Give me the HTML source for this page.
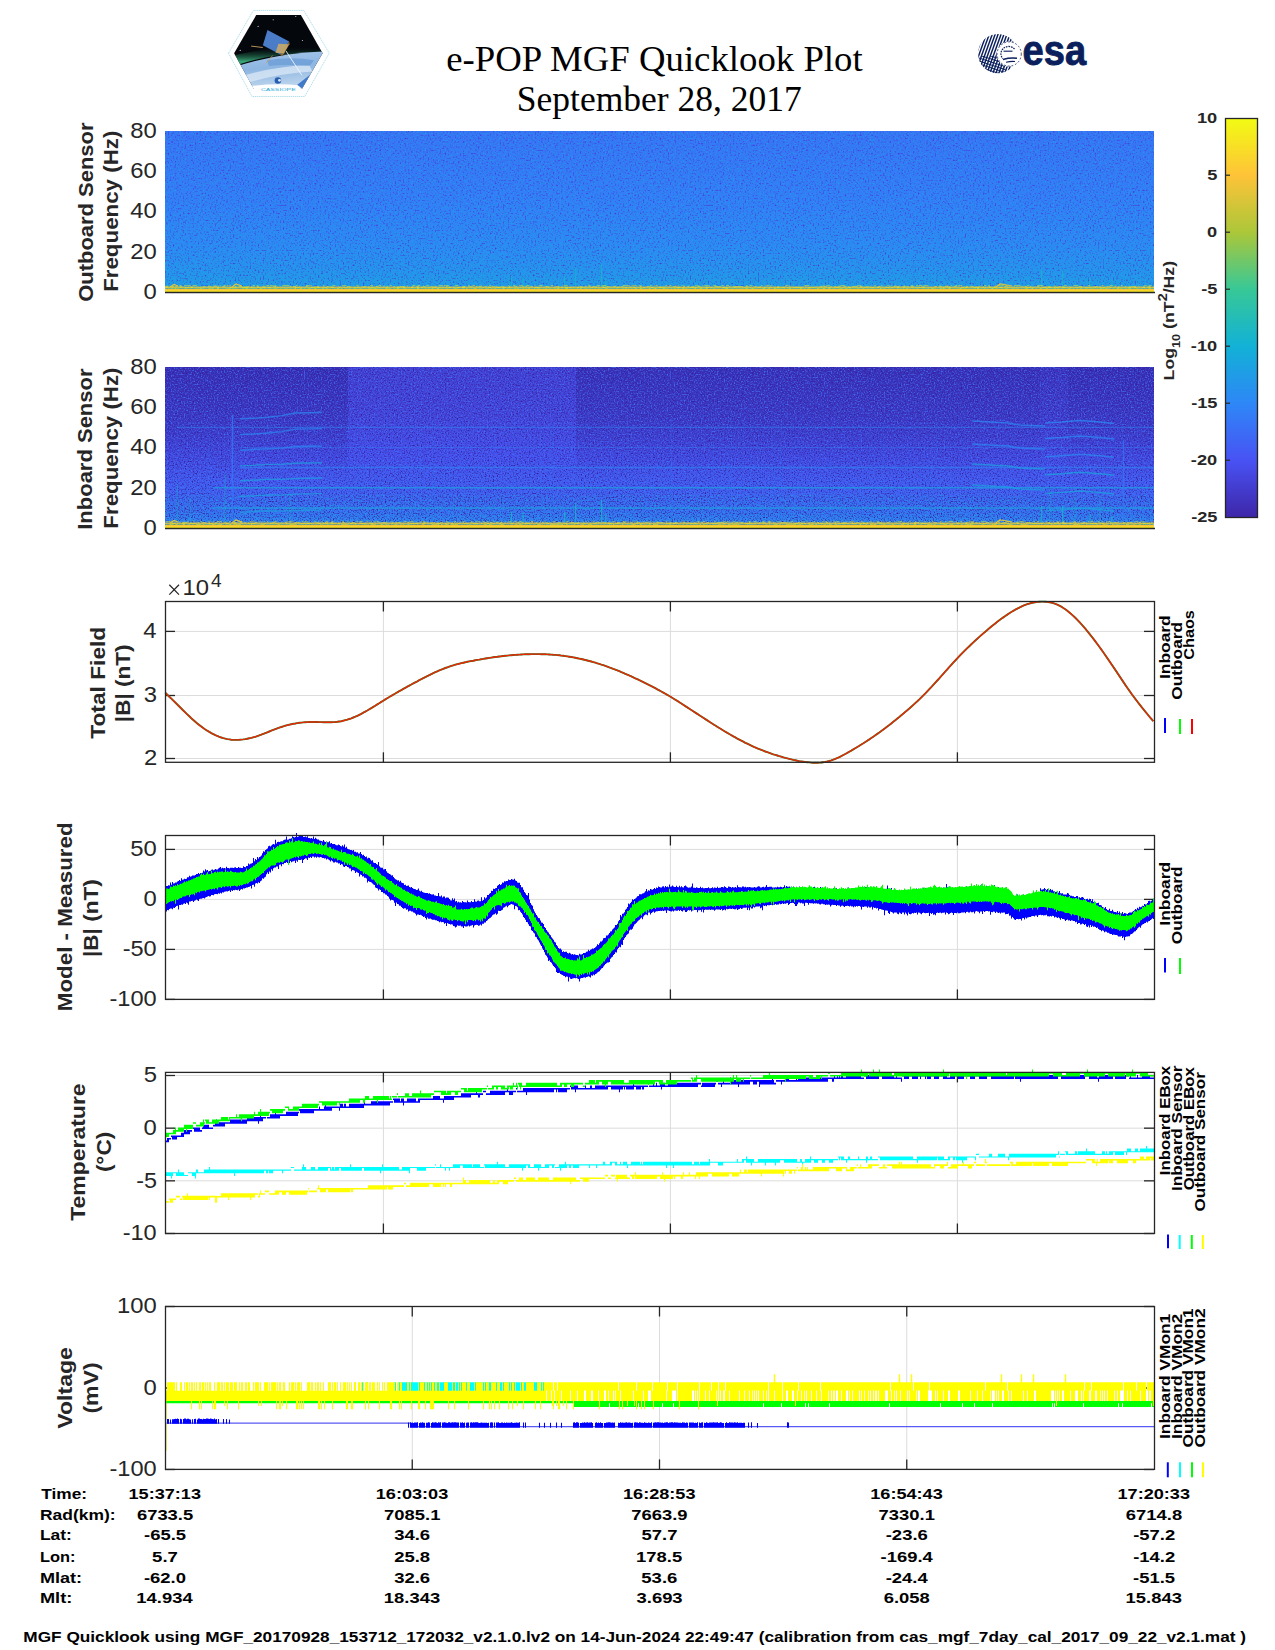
<!DOCTYPE html>
<html><head><meta charset="utf-8"><style>
html,body{margin:0;padding:0;background:#fff;width:1275px;height:1650px;overflow:hidden;}
svg{display:block;}
text{font-family:"Liberation Sans", sans-serif;fill:#262626;}
.b{font-weight:bold;}
</style></head><body>
<svg width="1275" height="1650" viewBox="0 0 1275 1650">

<text x="654.47" y="71" text-anchor="middle" style="font-family:'Liberation Serif',serif;font-size:34.75px;fill:#000" textLength="416.41" lengthAdjust="spacingAndGlyphs">e-POP MGF Quicklook Plot</text>
<text x="659.32" y="111.3" text-anchor="middle" style="font-family:'Liberation Serif',serif;font-size:34.75px;fill:#000" textLength="285.05" lengthAdjust="spacingAndGlyphs">September 28, 2017</text>
<defs>
<linearGradient id="gCb" x1="0" y1="0" x2="0" y2="1">
<stop offset="0.0000" stop-color="rgb(242,251,19)"/>
<stop offset="0.1429" stop-color="rgb(254,195,56)"/>
<stop offset="0.2857" stop-color="rgb(171,199,57)"/>
<stop offset="0.4286" stop-color="rgb(55,200,151)"/>
<stop offset="0.5714" stop-color="rgb(18,177,214)"/>
<stop offset="0.7143" stop-color="rgb(46,135,247)"/>
<stop offset="0.8571" stop-color="rgb(72,82,244)"/>
<stop offset="1.0000" stop-color="rgb(62,38,168)"/>
</linearGradient>
<linearGradient id="gOut" x1="0" y1="0" x2="0" y2="1">
<stop offset="0" stop-color="rgb(54,118,246)"/>
<stop offset="0.4" stop-color="rgb(50,127,247)"/>
<stop offset="0.7" stop-color="rgb(43,139,244)"/>
<stop offset="0.85" stop-color="rgb(37,148,237)"/>
<stop offset="0.95" stop-color="rgb(31,157,230)"/>
<stop offset="1" stop-color="rgb(24,169,221)"/>
</linearGradient>
<linearGradient id="gIn" x1="0" y1="0" x2="0" y2="1">
<stop offset="0" stop-color="rgb(68,64,213)"/>
<stop offset="0.3" stop-color="rgb(69,69,221)"/>
<stop offset="0.55" stop-color="rgb(71,80,240)"/>
<stop offset="0.75" stop-color="rgb(65,96,245)"/>
<stop offset="0.9" stop-color="rgb(55,116,246)"/>
<stop offset="0.96" stop-color="rgb(45,136,246)"/>
<stop offset="1" stop-color="rgb(31,157,230)"/>
</linearGradient>
<linearGradient id="gDark" x1="0" y1="0" x2="0" y2="1"><stop offset="0" stop-color="#2a1a90" stop-opacity="0.5"/><stop offset="0.6" stop-color="#2a1a90" stop-opacity="0.28"/><stop offset="1" stop-color="#2a1a90" stop-opacity="0"/></linearGradient>
<filter id="np" x="0" y="0" width="1" height="1" color-interpolation-filters="sRGB"><feTurbulence type="fractalNoise" baseFrequency="0.6" numOctaves="1" seed="3"/><feColorMatrix type="matrix" values="0 0 0 0 0.27  0 0 0 0 0.24  0 0 0 0 0.85  3.5 0 0 0 -1.85"/></filter>
<filter id="nc" x="0" y="0" width="1" height="1" color-interpolation-filters="sRGB"><feTurbulence type="fractalNoise" baseFrequency="0.6" numOctaves="1" seed="11"/><feColorMatrix type="matrix" values="0 0 0 0 0.14  0 0 0 0 0.60  0 0 0 0 0.90  0 3.5 0 0 -1.85"/></filter>
<filter id="ny" x="0" y="0" width="1" height="1" color-interpolation-filters="sRGB"><feTurbulence type="fractalNoise" baseFrequency="0.35 0.9" numOctaves="1" seed="5"/><feColorMatrix type="matrix" values="0 0 0 0 0.98  0 0 0 0 0.95  0 0 0 0 0.05  6 0 0 0 -2.9"/></filter>
<filter id="npi" x="0" y="0" width="1" height="1" color-interpolation-filters="sRGB"><feTurbulence type="fractalNoise" baseFrequency="0.75" numOctaves="1" seed="21"/><feColorMatrix type="matrix" values="0 0 0 0 0.21  0 0 0 0 0.12  0 0 0 0 0.60  3.4 0 0 0 -1.6"/></filter>
<filter id="nci" x="0" y="0" width="1" height="1" color-interpolation-filters="sRGB"><feTurbulence type="fractalNoise" baseFrequency="0.7" numOctaves="1" seed="17"/><feColorMatrix type="matrix" values="0 0 0 0 0.26  0 0 0 0 0.45  0 0 0 0 0.98  0 3 0 0 -1.45"/></filter>
</defs>
<rect x="165" y="131" width="989" height="161" fill="url(#gOut)"/>
<rect x="165" y="131" width="989" height="161" filter="url(#np)"/>
<rect x="165" y="131" width="989" height="161" filter="url(#nc)"/>
<path d="M511.5,288V276M523,288V277M564.7,288V276M575.7,288V267M601.6,288V264M606,288V278M1041.6,288V270M1062.7,288V270M1090,288V278M1112,288V280" stroke="rgb(24,180,205)" stroke-width="1.2" fill="none" opacity="0.8"/>
<rect x="165" y="286.5" width="989" height="1.5" fill="rgb(221,197,56)" opacity="0.85"/>
<rect x="165" y="288" width="989" height="1" fill="rgb(159,199,66)" opacity="0.6"/>
<rect x="165" y="285.5" width="989" height="3.5" filter="url(#ny)" opacity="0.45"/>
<rect x="165" y="289" width="989" height="3" fill="rgb(254,196,55)"/>
<rect x="165" y="290.5" width="989" height="1.5" fill="rgb(246,231,32)"/>
<path d="M996,287 L1000,284 L1004,284.5 L1012,286 M170,287 L174,284.5 L178,286 M232,287 L236,284 L242,286" stroke="rgb(221,197,56)" stroke-width="1.2" fill="none"/>
<line x1="165" y1="292.5" x2="1155" y2="292.5" stroke="#262626" stroke-width="1.5"/>
<rect x="165" y="367" width="989" height="161" fill="url(#gIn)"/>
<rect x="165" y="367" width="183" height="112.7" fill="url(#gDark)"/>
<rect x="576" y="367" width="464" height="112.7" fill="url(#gDark)" opacity="0.9"/>
<rect x="1040" y="367" width="28" height="112.7" fill="url(#gDark)" opacity="0.6"/>
<rect x="1068" y="367" width="86" height="112.7" fill="url(#gDark)"/>
<rect x="165" y="367" width="989" height="161" filter="url(#npi)"/>
<rect x="165" y="367" width="989" height="128.8" filter="url(#nci)"/>
<rect x="165" y="495.8" width="989" height="29.2" filter="url(#nc)"/>
<line x1="212" y1="508" x2="1154" y2="508" stroke="rgb(28,163,225)" stroke-width="1.6" opacity="0.75"/>
<line x1="213" y1="487.8" x2="1154" y2="487.8" stroke="rgb(28,163,225)" stroke-width="1.6" opacity="0.7"/>
<line x1="240" y1="467.5" x2="1154" y2="467.5" stroke="rgb(43,139,244)" stroke-width="1.3" opacity="0.55"/>
<line x1="240" y1="447.5" x2="1154" y2="447.5" stroke="rgb(43,139,244)" stroke-width="1.1" opacity="0.35"/>
<line x1="177" y1="427.4" x2="1154" y2="427.4" stroke="rgb(43,139,244)" stroke-width="1.1" opacity="0.45"/>
<path d="M240,418.8 L252,418.3 L268,417.3 L282,415.6 L295,413.0 L322,412.5" stroke="rgb(43,139,244)" stroke-width="1.4" fill="none" opacity="0.7"/>
<path d="M240,434.5 L252,434.0 L268,433.0 L282,431.6 L295,429.1 L322,428.6" stroke="rgb(43,139,244)" stroke-width="1.4" fill="none" opacity="0.7"/>
<path d="M240,450.2 L252,449.7 L268,448.7 L282,448.1 L295,446.5 L322,446" stroke="rgb(43,139,244)" stroke-width="1.4" fill="none" opacity="0.7"/>
<path d="M240,465.9 L252,465.4 L268,464.4 L282,464.3 L295,463.2 L322,462.7" stroke="rgb(28,163,225)" stroke-width="1.4" fill="none" opacity="0.7"/>
<path d="M240,480.8 L252,480.3 L268,479.3 L282,479.4 L295,478.5 L322,478" stroke="rgb(28,163,225)" stroke-width="1.4" fill="none" opacity="0.7"/>
<path d="M240,496.5 L252,496.0 L268,495.0 L282,495.1 L295,494.1 L322,493.6" stroke="rgb(28,163,225)" stroke-width="1.4" fill="none" opacity="0.7"/>
<path d="M240,512.2 L252,511.70000000000005 L268,510.70000000000005 L282,511.1 L295,510.5 L322,510" stroke="rgb(28,163,225)" stroke-width="1.4" fill="none" opacity="0.7"/>
<line x1="232.5" y1="415" x2="232.5" y2="528" stroke="rgb(54,118,246)" stroke-width="1.5" opacity="0.8"/>
<path d="M972,421 L990,422 L1008,423 L1020,425 L1045,426" stroke="rgb(43,139,244)" stroke-width="1.4" fill="none" opacity="0.7"/>
<path d="M972,444 L990,445 L1008,446 L1020,448 L1045,449" stroke="rgb(43,139,244)" stroke-width="1.4" fill="none" opacity="0.7"/>
<path d="M972,464 L990,465 L1008,466 L1020,468 L1045,469" stroke="rgb(28,163,225)" stroke-width="1.4" fill="none" opacity="0.7"/>
<path d="M972,485 L990,486 L1008,487 L1020,489 L1045,490" stroke="rgb(28,163,225)" stroke-width="1.4" fill="none" opacity="0.7"/>
<path d="M1045,423 L1062,422 L1080,420.5 L1100,422 L1114,423.5" stroke="rgb(43,139,244)" stroke-width="1.5" fill="none" opacity="0.75"/>
<path d="M1045,438.6 L1062,437.6 L1080,436.1 L1100,437.6 L1114,439.1" stroke="rgb(43,139,244)" stroke-width="1.5" fill="none" opacity="0.75"/>
<path d="M1045,456.7 L1062,455.7 L1080,454.2 L1100,455.7 L1114,457.2" stroke="rgb(43,139,244)" stroke-width="1.5" fill="none" opacity="0.75"/>
<path d="M1045,474.7 L1062,473.7 L1080,472.2 L1100,473.7 L1114,475.2" stroke="rgb(28,163,225)" stroke-width="1.5" fill="none" opacity="0.75"/>
<path d="M1045,493.5 L1062,492.5 L1080,491.0 L1100,492.5 L1114,494.0" stroke="rgb(28,163,225)" stroke-width="1.5" fill="none" opacity="0.75"/>
<path d="M1045,510.8 L1062,509.8 L1080,508.3 L1100,509.8 L1114,511.3" stroke="rgb(28,163,225)" stroke-width="1.5" fill="none" opacity="0.75"/>
<path d="M665.9,523V449M723.8,523V460M671.7,523V414M1122.7,523V425M772.6,523V435M726.9,523V449M451.1,523V461M713.4,523V439M628.2,523V426M767.9,523V482M1081.8,523V490M411.0,523V456M473.2,523V471M553.3,523V422M434.9,523V472M513.0,523V420M1087.5,523V453M540.3,523V426M929.2,523V457M209.8,523V436M462.7,523V415M858.5,523V480M613.2,523V472M1042.1,523V452M596.4,523V463M781.1,523V429M743.7,523V419M757.1,523V447M812.6,523V482M671.1,523V463M359.8,523V469M237.6,523V441M417.0,523V473M263.3,523V486M280.9,523V452M445.0,523V471M750.7,523V453M506.4,523V465M932.3,523V432M1116.1,523V472M495.2,523V435M401.6,523V484M844.1,523V431M731.2,523V413M924.2,523V470M774.6,523V413M443.9,523V443M1062.9,523V447M731.5,523V473M873.9,523V439M828.9,523V457M924.4,523V446M907.4,523V455M572.1,523V430M207.2,523V451M645.3,523V466M1047.4,523V468M311.7,523V448M936.4,523V416M812.3,523V485M861.6,523V491M383.7,523V457M243.8,523V479M432.4,523V420M780.8,523V448M550.8,523V427M419.7,523V428M559.1,523V492M883.3,523V423M420.4,523V459" stroke="rgb(54,118,246)" stroke-width="1" fill="none" opacity="0.22"/>
<line x1="1123.6" y1="440" x2="1123.6" y2="528" stroke="rgb(54,118,246)" stroke-width="1.2" opacity="0.7"/>
<path d="M511.5,524V512M523,524V513M564.7,524V512M575.7,524V503M601.6,524V500M606,524V514M1041.6,524V506M1062.7,524V506M1090,524V514M1112,524V516" stroke="rgb(24,180,205)" stroke-width="1.2" fill="none" opacity="0.8"/>
<path d="M177,524V484M190,524V499M225,524V474M290,524V494M1050,524V489M1075,524V494M1100,524V496" stroke="rgb(24,180,205)" stroke-width="1" fill="none" opacity="0.45"/>
<rect x="165" y="522.5" width="989" height="1.5" fill="rgb(221,197,56)" opacity="0.85"/>
<rect x="165" y="524" width="989" height="1" fill="rgb(159,199,66)" opacity="0.6"/>
<rect x="165" y="521.5" width="989" height="3.5" filter="url(#ny)" opacity="0.45"/>
<rect x="165" y="525" width="989" height="3" fill="rgb(254,196,55)"/>
<rect x="165" y="526.5" width="989" height="1.5" fill="rgb(246,231,32)"/>
<path d="M996,523 L1000,520 L1004,520.5 L1012,522 M170,523 L174,520.5 L178,522 M232,523 L236,520 L242,522" stroke="rgb(221,197,56)" stroke-width="1.2" fill="none"/>
<line x1="165" y1="528.5" x2="1155" y2="528.5" stroke="#262626" stroke-width="1.5"/>
<text x="156.68" y="137.80" text-anchor="end" style="font-size:22.08px;fill:#262626" textLength="26.51" lengthAdjust="spacingAndGlyphs">80</text>
<text x="156.68" y="178.05" text-anchor="end" style="font-size:22.08px;fill:#262626" textLength="26.51" lengthAdjust="spacingAndGlyphs">60</text>
<text x="156.68" y="218.30" text-anchor="end" style="font-size:22.08px;fill:#262626" textLength="26.51" lengthAdjust="spacingAndGlyphs">40</text>
<text x="156.68" y="258.55" text-anchor="end" style="font-size:22.08px;fill:#262626" textLength="26.51" lengthAdjust="spacingAndGlyphs">20</text>
<text x="156.68" y="298.80" text-anchor="end" style="font-size:22.08px;fill:#262626" textLength="13.25" lengthAdjust="spacingAndGlyphs">0</text>
<text x="156.68" y="373.80" text-anchor="end" style="font-size:22.08px;fill:#262626" textLength="26.51" lengthAdjust="spacingAndGlyphs">80</text>
<text x="156.68" y="414.05" text-anchor="end" style="font-size:22.08px;fill:#262626" textLength="26.51" lengthAdjust="spacingAndGlyphs">60</text>
<text x="156.68" y="454.30" text-anchor="end" style="font-size:22.08px;fill:#262626" textLength="26.51" lengthAdjust="spacingAndGlyphs">40</text>
<text x="156.68" y="494.55" text-anchor="end" style="font-size:22.08px;fill:#262626" textLength="26.51" lengthAdjust="spacingAndGlyphs">20</text>
<text x="156.68" y="534.80" text-anchor="end" style="font-size:22.08px;fill:#262626" textLength="13.25" lengthAdjust="spacingAndGlyphs">0</text>
<text class="b" transform="translate(92.50,212.19) rotate(-90)" text-anchor="middle" style="font-size:19.88px;fill:#262626" textLength="179.26" lengthAdjust="spacingAndGlyphs">Outboard Sensor</text>
<text class="b" transform="translate(118.00,211.25) rotate(-90)" text-anchor="middle" style="font-size:19.88px;fill:#262626" textLength="161.22" lengthAdjust="spacingAndGlyphs">Frequency (Hz)</text>
<text class="b" transform="translate(92.00,449.13) rotate(-90)" text-anchor="middle" style="font-size:19.88px;fill:#262626" textLength="161.33" lengthAdjust="spacingAndGlyphs">Inboard Sensor</text>
<text class="b" transform="translate(118.00,448.05) rotate(-90)" text-anchor="middle" style="font-size:19.88px;fill:#262626" textLength="161.22" lengthAdjust="spacingAndGlyphs">Frequency (Hz)</text>
<rect x="1225.5" y="118.5" width="32" height="399" fill="url(#gCb)" stroke="#262626" stroke-width="1.3"/>
<text class="b" x="1217.20" y="123.40" text-anchor="end" style="font-size:15.45px;fill:#262626" textLength="20.29" lengthAdjust="spacingAndGlyphs">10</text>
<line x1="1225.5" y1="175.2" x2="1230" y2="175.2" stroke="#262626" stroke-width="1.2"/>
<text class="b" x="1217.52" y="180.40" text-anchor="end" style="font-size:15.45px;fill:#262626" textLength="10.14" lengthAdjust="spacingAndGlyphs">5</text>
<line x1="1225.5" y1="232.2" x2="1230" y2="232.2" stroke="#262626" stroke-width="1.2"/>
<text class="b" x="1217.20" y="237.40" text-anchor="end" style="font-size:15.45px;fill:#262626" textLength="10.14" lengthAdjust="spacingAndGlyphs">0</text>
<line x1="1225.5" y1="289.2" x2="1230" y2="289.2" stroke="#262626" stroke-width="1.2"/>
<text class="b" x="1217.52" y="294.40" text-anchor="end" style="font-size:15.45px;fill:#262626" textLength="16.20" lengthAdjust="spacingAndGlyphs">-5</text>
<line x1="1225.5" y1="346.2" x2="1230" y2="346.2" stroke="#262626" stroke-width="1.2"/>
<text class="b" x="1217.20" y="351.40" text-anchor="end" style="font-size:15.45px;fill:#262626" textLength="26.34" lengthAdjust="spacingAndGlyphs">-10</text>
<line x1="1225.5" y1="403.2" x2="1230" y2="403.2" stroke="#262626" stroke-width="1.2"/>
<text class="b" x="1217.52" y="408.40" text-anchor="end" style="font-size:15.45px;fill:#262626" textLength="26.34" lengthAdjust="spacingAndGlyphs">-15</text>
<line x1="1225.5" y1="460.2" x2="1230" y2="460.2" stroke="#262626" stroke-width="1.2"/>
<text class="b" x="1217.20" y="465.40" text-anchor="end" style="font-size:15.45px;fill:#262626" textLength="26.34" lengthAdjust="spacingAndGlyphs">-20</text>
<text class="b" x="1217.52" y="522.40" text-anchor="end" style="font-size:15.45px;fill:#262626" textLength="26.34" lengthAdjust="spacingAndGlyphs">-25</text>
<text class="b" transform="translate(1174.2,380.4) rotate(-90)" style="font-size:15.45px" textLength="119.5" lengthAdjust="spacingAndGlyphs">Log<tspan dy="5.5" style="font-size:11.1px">10</tspan><tspan dy="-5.5"> (nT</tspan><tspan dy="-7.6" style="font-size:12.5px">2</tspan><tspan dy="7.6">/Hz)</tspan></text>
<line x1="383.4" y1="601.5" x2="383.4" y2="762.3" stroke="#dcdcdc" stroke-width="1"/>
<line x1="670.4" y1="601.5" x2="670.4" y2="762.3" stroke="#dcdcdc" stroke-width="1"/>
<line x1="957.4" y1="601.5" x2="957.4" y2="762.3" stroke="#dcdcdc" stroke-width="1"/>
<line x1="165" y1="631.4" x2="1154" y2="631.4" stroke="#dcdcdc" stroke-width="1"/>
<line x1="165" y1="695.5" x2="1154" y2="695.5" stroke="#dcdcdc" stroke-width="1"/>
<line x1="165" y1="758.5" x2="1154" y2="758.5" stroke="#dcdcdc" stroke-width="1"/>
<line x1="383.4" y1="601.5" x2="383.4" y2="611.5" stroke="#262626" stroke-width="1.3"/>
<line x1="383.4" y1="762.3" x2="383.4" y2="752.3" stroke="#262626" stroke-width="1.3"/>
<line x1="670.4" y1="601.5" x2="670.4" y2="611.5" stroke="#262626" stroke-width="1.3"/>
<line x1="670.4" y1="762.3" x2="670.4" y2="752.3" stroke="#262626" stroke-width="1.3"/>
<line x1="957.4" y1="601.5" x2="957.4" y2="611.5" stroke="#262626" stroke-width="1.3"/>
<line x1="957.4" y1="762.3" x2="957.4" y2="752.3" stroke="#262626" stroke-width="1.3"/>
<line x1="165" y1="631.4" x2="175" y2="631.4" stroke="#262626" stroke-width="1.3"/>
<line x1="1154" y1="631.4" x2="1144" y2="631.4" stroke="#262626" stroke-width="1.3"/>
<line x1="165" y1="695.5" x2="175" y2="695.5" stroke="#262626" stroke-width="1.3"/>
<line x1="1154" y1="695.5" x2="1144" y2="695.5" stroke="#262626" stroke-width="1.3"/>
<line x1="165" y1="758.5" x2="175" y2="758.5" stroke="#262626" stroke-width="1.3"/>
<line x1="1154" y1="758.5" x2="1144" y2="758.5" stroke="#262626" stroke-width="1.3"/>
<path d="M165.3,692.8 L167.3,694.7 L169.3,696.7 L171.3,698.6 L173.3,700.6 L175.3,702.5 L177.3,704.5 L179.3,706.5 L181.3,708.5 L183.3,710.5 L185.3,712.4 L187.3,714.4 L189.3,716.3 L191.3,718.2 L193.3,720.0 L195.3,721.8 L197.3,723.5 L199.3,725.1 L201.3,726.6 L203.3,728.1 L205.3,729.5 L207.3,730.7 L209.3,731.9 L211.3,733.1 L213.3,734.1 L215.3,735.1 L217.3,736.0 L219.3,736.8 L221.3,737.5 L223.3,738.1 L225.3,738.6 L227.3,739.1 L229.3,739.4 L231.3,739.7 L233.3,739.9 L235.3,739.9 L237.3,739.9 L239.3,739.8 L241.3,739.6 L243.3,739.4 L245.3,739.1 L247.3,738.7 L249.3,738.3 L251.3,737.9 L253.3,737.3 L255.3,736.8 L257.3,736.1 L259.3,735.4 L261.3,734.7 L263.3,733.9 L265.3,733.1 L267.3,732.3 L269.3,731.5 L271.3,730.7 L273.3,729.9 L275.3,729.1 L277.3,728.3 L279.3,727.6 L281.3,727.0 L283.3,726.3 L285.3,725.7 L287.3,725.2 L289.3,724.7 L291.3,724.2 L293.3,723.8 L295.3,723.5 L297.3,723.1 L299.3,722.8 L301.3,722.6 L303.3,722.4 L305.3,722.2 L307.3,722.1 L309.3,722.0 L311.3,722.0 L313.3,722.0 L315.3,722.0 L317.3,722.0 L319.3,722.1 L321.3,722.1 L323.3,722.2 L325.3,722.2 L327.3,722.3 L329.3,722.3 L331.3,722.2 L333.3,722.1 L335.3,722.0 L337.3,721.8 L339.3,721.5 L341.3,721.2 L343.3,720.7 L345.3,720.2 L347.3,719.7 L349.3,719.0 L351.3,718.3 L353.3,717.5 L355.3,716.7 L357.3,715.8 L359.3,714.8 L361.3,713.8 L363.3,712.7 L365.3,711.6 L367.3,710.5 L369.3,709.3 L371.3,708.1 L373.3,706.9 L375.3,705.7 L377.3,704.4 L379.3,703.2 L381.3,701.9 L383.3,700.7 L385.3,699.4 L387.3,698.2 L389.3,697.0 L391.3,695.8 L393.3,694.7 L395.3,693.5 L397.3,692.3 L399.3,691.2 L401.3,690.1 L403.3,688.9 L405.3,687.8 L407.3,686.7 L409.3,685.6 L411.3,684.5 L413.3,683.4 L415.3,682.3 L417.3,681.3 L419.3,680.2 L421.3,679.2 L423.3,678.1 L425.3,677.1 L427.3,676.1 L429.3,675.1 L431.3,674.1 L433.3,673.1 L435.3,672.2 L437.3,671.3 L439.3,670.4 L441.3,669.6 L443.3,668.8 L445.3,668.0 L447.3,667.3 L449.3,666.6 L451.3,665.9 L453.3,665.3 L455.3,664.7 L457.3,664.2 L459.3,663.7 L461.3,663.2 L463.3,662.7 L465.3,662.3 L467.3,661.8 L469.3,661.4 L471.3,661.0 L473.3,660.7 L475.3,660.3 L477.3,659.9 L479.3,659.6 L481.3,659.2 L483.3,658.9 L485.3,658.5 L487.3,658.2 L489.3,657.9 L491.3,657.6 L493.3,657.3 L495.3,657.0 L497.3,656.8 L499.3,656.5 L501.3,656.3 L503.3,656.0 L505.3,655.8 L507.3,655.6 L509.3,655.4 L511.3,655.2 L513.3,655.0 L515.3,654.9 L517.3,654.7 L519.3,654.6 L521.3,654.5 L523.3,654.4 L525.3,654.3 L527.3,654.2 L529.3,654.2 L531.3,654.1 L533.3,654.1 L535.3,654.1 L537.3,654.1 L539.3,654.1 L541.3,654.2 L543.3,654.2 L545.3,654.3 L547.3,654.4 L549.3,654.5 L551.3,654.6 L553.3,654.8 L555.3,654.9 L557.3,655.1 L559.3,655.3 L561.3,655.6 L563.3,655.8 L565.3,656.1 L567.3,656.4 L569.3,656.7 L571.3,657.0 L573.3,657.4 L575.3,657.8 L577.3,658.2 L579.3,658.6 L581.3,659.0 L583.3,659.5 L585.3,660.0 L587.3,660.5 L589.3,661.0 L591.3,661.5 L593.3,662.1 L595.3,662.7 L597.3,663.3 L599.3,663.9 L601.3,664.6 L603.3,665.2 L605.3,665.9 L607.3,666.6 L609.3,667.4 L611.3,668.1 L613.3,668.9 L615.3,669.6 L617.3,670.4 L619.3,671.2 L621.3,672.1 L623.3,672.9 L625.3,673.8 L627.3,674.6 L629.3,675.5 L631.3,676.4 L633.3,677.3 L635.3,678.3 L637.3,679.2 L639.3,680.2 L641.3,681.1 L643.3,682.1 L645.3,683.1 L647.3,684.1 L649.3,685.1 L651.3,686.1 L653.3,687.1 L655.3,688.2 L657.3,689.3 L659.3,690.4 L661.3,691.5 L663.3,692.6 L665.3,693.7 L667.3,694.9 L669.3,696.0 L671.3,697.2 L673.3,698.5 L675.3,699.7 L677.3,700.9 L679.3,702.2 L681.3,703.5 L683.3,704.8 L685.3,706.1 L687.3,707.4 L689.3,708.7 L691.3,710.0 L693.3,711.3 L695.3,712.6 L697.3,713.9 L699.3,715.2 L701.3,716.5 L703.3,717.8 L705.3,719.1 L707.3,720.4 L709.3,721.7 L711.3,723.0 L713.3,724.3 L715.3,725.5 L717.3,726.8 L719.3,728.0 L721.3,729.2 L723.3,730.5 L725.3,731.7 L727.3,732.9 L729.3,734.0 L731.3,735.2 L733.3,736.3 L735.3,737.4 L737.3,738.6 L739.3,739.6 L741.3,740.7 L743.3,741.7 L745.3,742.8 L747.3,743.7 L749.3,744.7 L751.3,745.7 L753.3,746.6 L755.3,747.5 L757.3,748.3 L759.3,749.1 L761.3,749.9 L763.3,750.7 L765.3,751.5 L767.3,752.2 L769.3,752.9 L771.3,753.6 L773.3,754.3 L775.3,754.9 L777.3,755.5 L779.3,756.2 L781.3,756.7 L783.3,757.3 L785.3,757.9 L787.3,758.4 L789.3,758.9 L791.3,759.4 L793.3,759.9 L795.3,760.3 L797.3,760.7 L799.3,761.1 L801.3,761.4 L803.3,761.7 L805.3,762.0 L807.3,762.2 L809.3,762.4 L811.3,762.6 L813.3,762.7 L815.3,762.7 L817.3,762.7 L819.3,762.6 L821.3,762.5 L823.3,762.2 L825.3,761.9 L827.3,761.5 L829.3,761.0 L831.3,760.4 L833.3,759.7 L835.3,758.9 L837.3,758.0 L839.3,757.1 L841.3,756.1 L843.3,755.0 L845.3,754.0 L847.3,752.9 L849.3,751.7 L851.3,750.6 L853.3,749.4 L855.3,748.2 L857.3,747.0 L859.3,745.8 L861.3,744.5 L863.3,743.3 L865.3,742.0 L867.3,740.7 L869.3,739.4 L871.3,738.0 L873.3,736.7 L875.3,735.3 L877.3,733.9 L879.3,732.5 L881.3,731.0 L883.3,729.6 L885.3,728.1 L887.3,726.5 L889.3,725.0 L891.3,723.4 L893.3,721.8 L895.3,720.2 L897.3,718.6 L899.3,717.0 L901.3,715.3 L903.3,713.6 L905.3,711.9 L907.3,710.2 L909.3,708.5 L911.3,706.7 L913.3,704.9 L915.3,703.1 L917.3,701.3 L919.3,699.4 L921.3,697.4 L923.3,695.4 L925.3,693.4 L927.3,691.3 L929.3,689.2 L931.3,687.1 L933.3,684.9 L935.3,682.7 L937.3,680.5 L939.3,678.3 L941.3,676.0 L943.3,673.8 L945.3,671.5 L947.3,669.3 L949.3,667.0 L951.3,664.8 L953.3,662.6 L955.3,660.5 L957.3,658.3 L959.3,656.2 L961.3,654.1 L963.3,652.1 L965.3,650.1 L967.3,648.1 L969.3,646.2 L971.3,644.3 L973.3,642.4 L975.3,640.5 L977.3,638.7 L979.3,636.9 L981.3,635.1 L983.3,633.4 L985.3,631.7 L987.3,630.0 L989.3,628.3 L991.3,626.6 L993.3,625.0 L995.3,623.4 L997.3,621.8 L999.3,620.3 L1001.3,618.8 L1003.3,617.4 L1005.3,616.0 L1007.3,614.6 L1009.3,613.3 L1011.3,612.0 L1013.3,610.8 L1015.3,609.7 L1017.3,608.6 L1019.3,607.6 L1021.3,606.6 L1023.3,605.7 L1025.3,604.9 L1027.3,604.2 L1029.3,603.6 L1031.3,603.0 L1033.3,602.5 L1035.3,602.2 L1037.3,601.9 L1039.3,601.7 L1041.3,601.6 L1043.3,601.6 L1045.3,601.7 L1047.3,601.9 L1049.3,602.2 L1051.3,602.6 L1053.3,603.2 L1055.3,603.9 L1057.3,604.7 L1059.3,605.7 L1061.3,606.7 L1063.3,608.0 L1065.3,609.3 L1067.3,610.8 L1069.3,612.4 L1071.3,614.1 L1073.3,615.9 L1075.3,617.8 L1077.3,619.8 L1079.3,621.9 L1081.3,624.1 L1083.3,626.4 L1085.3,628.7 L1087.3,631.1 L1089.3,633.6 L1091.3,636.1 L1093.3,638.7 L1095.3,641.3 L1097.3,644.0 L1099.3,646.7 L1101.3,649.5 L1103.3,652.3 L1105.3,655.2 L1107.3,658.1 L1109.3,661.0 L1111.3,664.0 L1113.3,666.9 L1115.3,669.9 L1117.3,672.9 L1119.3,675.9 L1121.3,678.9 L1123.3,681.9 L1125.3,684.9 L1127.3,687.8 L1129.3,690.6 L1131.3,693.5 L1133.3,696.2 L1135.3,698.9 L1137.3,701.5 L1139.3,704.1 L1141.3,706.7 L1143.3,709.1 L1145.3,711.6 L1147.3,714.0 L1149.3,716.5 L1151.3,718.8 L1153.3,721.2" fill="none" stroke="#2a7a20" stroke-width="1.9"/>
<path d="M165.3,692.8 L167.3,694.7 L169.3,696.7 L171.3,698.6 L173.3,700.6 L175.3,702.5 L177.3,704.5 L179.3,706.5 L181.3,708.5 L183.3,710.5 L185.3,712.4 L187.3,714.4 L189.3,716.3 L191.3,718.2 L193.3,720.0 L195.3,721.8 L197.3,723.5 L199.3,725.1 L201.3,726.6 L203.3,728.1 L205.3,729.5 L207.3,730.7 L209.3,731.9 L211.3,733.1 L213.3,734.1 L215.3,735.1 L217.3,736.0 L219.3,736.8 L221.3,737.5 L223.3,738.1 L225.3,738.6 L227.3,739.1 L229.3,739.4 L231.3,739.7 L233.3,739.9 L235.3,739.9 L237.3,739.9 L239.3,739.8 L241.3,739.6 L243.3,739.4 L245.3,739.1 L247.3,738.7 L249.3,738.3 L251.3,737.9 L253.3,737.3 L255.3,736.8 L257.3,736.1 L259.3,735.4 L261.3,734.7 L263.3,733.9 L265.3,733.1 L267.3,732.3 L269.3,731.5 L271.3,730.7 L273.3,729.9 L275.3,729.1 L277.3,728.3 L279.3,727.6 L281.3,727.0 L283.3,726.3 L285.3,725.7 L287.3,725.2 L289.3,724.7 L291.3,724.2 L293.3,723.8 L295.3,723.5 L297.3,723.1 L299.3,722.8 L301.3,722.6 L303.3,722.4 L305.3,722.2 L307.3,722.1 L309.3,722.0 L311.3,722.0 L313.3,722.0 L315.3,722.0 L317.3,722.0 L319.3,722.1 L321.3,722.1 L323.3,722.2 L325.3,722.2 L327.3,722.3 L329.3,722.3 L331.3,722.2 L333.3,722.1 L335.3,722.0 L337.3,721.8 L339.3,721.5 L341.3,721.2 L343.3,720.7 L345.3,720.2 L347.3,719.7 L349.3,719.0 L351.3,718.3 L353.3,717.5 L355.3,716.7 L357.3,715.8 L359.3,714.8 L361.3,713.8 L363.3,712.7 L365.3,711.6 L367.3,710.5 L369.3,709.3 L371.3,708.1 L373.3,706.9 L375.3,705.7 L377.3,704.4 L379.3,703.2 L381.3,701.9 L383.3,700.7 L385.3,699.4 L387.3,698.2 L389.3,697.0 L391.3,695.8 L393.3,694.7 L395.3,693.5 L397.3,692.3 L399.3,691.2 L401.3,690.1 L403.3,688.9 L405.3,687.8 L407.3,686.7 L409.3,685.6 L411.3,684.5 L413.3,683.4 L415.3,682.3 L417.3,681.3 L419.3,680.2 L421.3,679.2 L423.3,678.1 L425.3,677.1 L427.3,676.1 L429.3,675.1 L431.3,674.1 L433.3,673.1 L435.3,672.2 L437.3,671.3 L439.3,670.4 L441.3,669.6 L443.3,668.8 L445.3,668.0 L447.3,667.3 L449.3,666.6 L451.3,665.9 L453.3,665.3 L455.3,664.7 L457.3,664.2 L459.3,663.7 L461.3,663.2 L463.3,662.7 L465.3,662.3 L467.3,661.8 L469.3,661.4 L471.3,661.0 L473.3,660.7 L475.3,660.3 L477.3,659.9 L479.3,659.6 L481.3,659.2 L483.3,658.9 L485.3,658.5 L487.3,658.2 L489.3,657.9 L491.3,657.6 L493.3,657.3 L495.3,657.0 L497.3,656.8 L499.3,656.5 L501.3,656.3 L503.3,656.0 L505.3,655.8 L507.3,655.6 L509.3,655.4 L511.3,655.2 L513.3,655.0 L515.3,654.9 L517.3,654.7 L519.3,654.6 L521.3,654.5 L523.3,654.4 L525.3,654.3 L527.3,654.2 L529.3,654.2 L531.3,654.1 L533.3,654.1 L535.3,654.1 L537.3,654.1 L539.3,654.1 L541.3,654.2 L543.3,654.2 L545.3,654.3 L547.3,654.4 L549.3,654.5 L551.3,654.6 L553.3,654.8 L555.3,654.9 L557.3,655.1 L559.3,655.3 L561.3,655.6 L563.3,655.8 L565.3,656.1 L567.3,656.4 L569.3,656.7 L571.3,657.0 L573.3,657.4 L575.3,657.8 L577.3,658.2 L579.3,658.6 L581.3,659.0 L583.3,659.5 L585.3,660.0 L587.3,660.5 L589.3,661.0 L591.3,661.5 L593.3,662.1 L595.3,662.7 L597.3,663.3 L599.3,663.9 L601.3,664.6 L603.3,665.2 L605.3,665.9 L607.3,666.6 L609.3,667.4 L611.3,668.1 L613.3,668.9 L615.3,669.6 L617.3,670.4 L619.3,671.2 L621.3,672.1 L623.3,672.9 L625.3,673.8 L627.3,674.6 L629.3,675.5 L631.3,676.4 L633.3,677.3 L635.3,678.3 L637.3,679.2 L639.3,680.2 L641.3,681.1 L643.3,682.1 L645.3,683.1 L647.3,684.1 L649.3,685.1 L651.3,686.1 L653.3,687.1 L655.3,688.2 L657.3,689.3 L659.3,690.4 L661.3,691.5 L663.3,692.6 L665.3,693.7 L667.3,694.9 L669.3,696.0 L671.3,697.2 L673.3,698.5 L675.3,699.7 L677.3,700.9 L679.3,702.2 L681.3,703.5 L683.3,704.8 L685.3,706.1 L687.3,707.4 L689.3,708.7 L691.3,710.0 L693.3,711.3 L695.3,712.6 L697.3,713.9 L699.3,715.2 L701.3,716.5 L703.3,717.8 L705.3,719.1 L707.3,720.4 L709.3,721.7 L711.3,723.0 L713.3,724.3 L715.3,725.5 L717.3,726.8 L719.3,728.0 L721.3,729.2 L723.3,730.5 L725.3,731.7 L727.3,732.9 L729.3,734.0 L731.3,735.2 L733.3,736.3 L735.3,737.4 L737.3,738.6 L739.3,739.6 L741.3,740.7 L743.3,741.7 L745.3,742.8 L747.3,743.7 L749.3,744.7 L751.3,745.7 L753.3,746.6 L755.3,747.5 L757.3,748.3 L759.3,749.1 L761.3,749.9 L763.3,750.7 L765.3,751.5 L767.3,752.2 L769.3,752.9 L771.3,753.6 L773.3,754.3 L775.3,754.9 L777.3,755.5 L779.3,756.2 L781.3,756.7 L783.3,757.3 L785.3,757.9 L787.3,758.4 L789.3,758.9 L791.3,759.4 L793.3,759.9 L795.3,760.3 L797.3,760.7 L799.3,761.1 L801.3,761.4 L803.3,761.7 L805.3,762.0 L807.3,762.2 L809.3,762.4 L811.3,762.6 L813.3,762.7 L815.3,762.7 L817.3,762.7 L819.3,762.6 L821.3,762.5 L823.3,762.2 L825.3,761.9 L827.3,761.5 L829.3,761.0 L831.3,760.4 L833.3,759.7 L835.3,758.9 L837.3,758.0 L839.3,757.1 L841.3,756.1 L843.3,755.0 L845.3,754.0 L847.3,752.9 L849.3,751.7 L851.3,750.6 L853.3,749.4 L855.3,748.2 L857.3,747.0 L859.3,745.8 L861.3,744.5 L863.3,743.3 L865.3,742.0 L867.3,740.7 L869.3,739.4 L871.3,738.0 L873.3,736.7 L875.3,735.3 L877.3,733.9 L879.3,732.5 L881.3,731.0 L883.3,729.6 L885.3,728.1 L887.3,726.5 L889.3,725.0 L891.3,723.4 L893.3,721.8 L895.3,720.2 L897.3,718.6 L899.3,717.0 L901.3,715.3 L903.3,713.6 L905.3,711.9 L907.3,710.2 L909.3,708.5 L911.3,706.7 L913.3,704.9 L915.3,703.1 L917.3,701.3 L919.3,699.4 L921.3,697.4 L923.3,695.4 L925.3,693.4 L927.3,691.3 L929.3,689.2 L931.3,687.1 L933.3,684.9 L935.3,682.7 L937.3,680.5 L939.3,678.3 L941.3,676.0 L943.3,673.8 L945.3,671.5 L947.3,669.3 L949.3,667.0 L951.3,664.8 L953.3,662.6 L955.3,660.5 L957.3,658.3 L959.3,656.2 L961.3,654.1 L963.3,652.1 L965.3,650.1 L967.3,648.1 L969.3,646.2 L971.3,644.3 L973.3,642.4 L975.3,640.5 L977.3,638.7 L979.3,636.9 L981.3,635.1 L983.3,633.4 L985.3,631.7 L987.3,630.0 L989.3,628.3 L991.3,626.6 L993.3,625.0 L995.3,623.4 L997.3,621.8 L999.3,620.3 L1001.3,618.8 L1003.3,617.4 L1005.3,616.0 L1007.3,614.6 L1009.3,613.3 L1011.3,612.0 L1013.3,610.8 L1015.3,609.7 L1017.3,608.6 L1019.3,607.6 L1021.3,606.6 L1023.3,605.7 L1025.3,604.9 L1027.3,604.2 L1029.3,603.6 L1031.3,603.0 L1033.3,602.5 L1035.3,602.2 L1037.3,601.9 L1039.3,601.7 L1041.3,601.6 L1043.3,601.6 L1045.3,601.7 L1047.3,601.9 L1049.3,602.2 L1051.3,602.6 L1053.3,603.2 L1055.3,603.9 L1057.3,604.7 L1059.3,605.7 L1061.3,606.7 L1063.3,608.0 L1065.3,609.3 L1067.3,610.8 L1069.3,612.4 L1071.3,614.1 L1073.3,615.9 L1075.3,617.8 L1077.3,619.8 L1079.3,621.9 L1081.3,624.1 L1083.3,626.4 L1085.3,628.7 L1087.3,631.1 L1089.3,633.6 L1091.3,636.1 L1093.3,638.7 L1095.3,641.3 L1097.3,644.0 L1099.3,646.7 L1101.3,649.5 L1103.3,652.3 L1105.3,655.2 L1107.3,658.1 L1109.3,661.0 L1111.3,664.0 L1113.3,666.9 L1115.3,669.9 L1117.3,672.9 L1119.3,675.9 L1121.3,678.9 L1123.3,681.9 L1125.3,684.9 L1127.3,687.8 L1129.3,690.6 L1131.3,693.5 L1133.3,696.2 L1135.3,698.9 L1137.3,701.5 L1139.3,704.1 L1141.3,706.7 L1143.3,709.1 L1145.3,711.6 L1147.3,714.0 L1149.3,716.5 L1151.3,718.8 L1153.3,721.2" fill="none" stroke="#e82808" stroke-width="1.4"/>
<rect x="165.5" y="601.5" width="989" height="160.79999999999995" fill="none" stroke="#262626" stroke-width="1.3"/>
<text x="156.47" y="638.20" text-anchor="end" style="font-size:22.08px;fill:#262626" textLength="13.25" lengthAdjust="spacingAndGlyphs">4</text>
<text x="156.97" y="702.30" text-anchor="end" style="font-size:22.08px;fill:#262626" textLength="13.25" lengthAdjust="spacingAndGlyphs">3</text>
<text x="157.39" y="765.30" text-anchor="end" style="font-size:22.08px;fill:#262626" textLength="13.25" lengthAdjust="spacingAndGlyphs">2</text>
<path d="M169.3,584.8L179,594.6M169.3,594.6L179,584.8" stroke="#262626" stroke-width="1.25" fill="none"/>
<text x="195.75" y="595.30" text-anchor="middle" style="font-size:22.08px;fill:#262626" textLength="26.51" lengthAdjust="spacingAndGlyphs">10</text>
<text x="216.36" y="586.90" text-anchor="middle" style="font-size:17.67px;fill:#262626" textLength="10.61" lengthAdjust="spacingAndGlyphs">4</text>
<text class="b" transform="translate(105.00,682.76) rotate(-90)" text-anchor="middle" style="font-size:19.88px;fill:#262626" textLength="112.04" lengthAdjust="spacingAndGlyphs">Total Field</text>
<text class="b" transform="translate(130.00,683.28) rotate(-90)" text-anchor="middle" style="font-size:19.88px;fill:#262626" textLength="77.79" lengthAdjust="spacingAndGlyphs">|B| (nT)</text>
<line x1="383.4" y1="835.5" x2="383.4" y2="999.4" stroke="#dcdcdc" stroke-width="1"/>
<line x1="670.4" y1="835.5" x2="670.4" y2="999.4" stroke="#dcdcdc" stroke-width="1"/>
<line x1="957.4" y1="835.5" x2="957.4" y2="999.4" stroke="#dcdcdc" stroke-width="1"/>
<line x1="165" y1="849.4" x2="1154" y2="849.4" stroke="#dcdcdc" stroke-width="1"/>
<line x1="165" y1="899.4" x2="1154" y2="899.4" stroke="#dcdcdc" stroke-width="1"/>
<line x1="165" y1="949.4" x2="1154" y2="949.4" stroke="#dcdcdc" stroke-width="1"/>
<line x1="165" y1="999.4" x2="1154" y2="999.4" stroke="#dcdcdc" stroke-width="1"/>
<line x1="383.4" y1="835.5" x2="383.4" y2="845.5" stroke="#262626" stroke-width="1.3"/>
<line x1="383.4" y1="999.4" x2="383.4" y2="989.4" stroke="#262626" stroke-width="1.3"/>
<line x1="670.4" y1="835.5" x2="670.4" y2="845.5" stroke="#262626" stroke-width="1.3"/>
<line x1="670.4" y1="999.4" x2="670.4" y2="989.4" stroke="#262626" stroke-width="1.3"/>
<line x1="957.4" y1="835.5" x2="957.4" y2="845.5" stroke="#262626" stroke-width="1.3"/>
<line x1="957.4" y1="999.4" x2="957.4" y2="989.4" stroke="#262626" stroke-width="1.3"/>
<line x1="165" y1="849.4" x2="175" y2="849.4" stroke="#262626" stroke-width="1.3"/>
<line x1="1154" y1="849.4" x2="1144" y2="849.4" stroke="#262626" stroke-width="1.3"/>
<line x1="165" y1="899.4" x2="175" y2="899.4" stroke="#262626" stroke-width="1.3"/>
<line x1="1154" y1="899.4" x2="1144" y2="899.4" stroke="#262626" stroke-width="1.3"/>
<line x1="165" y1="949.4" x2="175" y2="949.4" stroke="#262626" stroke-width="1.3"/>
<line x1="1154" y1="949.4" x2="1144" y2="949.4" stroke="#262626" stroke-width="1.3"/>
<line x1="165" y1="999.4" x2="175" y2="999.4" stroke="#262626" stroke-width="1.3"/>
<line x1="1154" y1="999.4" x2="1144" y2="999.4" stroke="#262626" stroke-width="1.3"/>
<path d="M165.5,886.7V911.3M166.5,886.0V911.5M167.5,885.9V909.9M168.5,885.2V910.2M169.5,885.4V909.0M170.5,882.4V908.4M171.5,884.7V908.6M172.5,882.0V909.2M173.5,883.4V907.8M174.5,883.2V908.0M175.5,882.6V906.9M176.5,882.4V906.0M177.5,881.5V905.8M178.5,881.0V909.5M179.5,880.0V904.9M180.5,880.9V905.1M181.5,878.2V904.4M182.5,879.7V904.8M183.5,879.6V903.8M184.5,878.8V903.2M185.5,879.0V904.0M186.5,878.7V902.5M187.5,877.3V903.2M188.5,877.3V904.8M189.5,875.8V901.5M190.5,876.7V901.6M191.5,876.3V901.1M192.5,875.4V900.7M193.5,875.6V902.0M194.5,875.6V900.8M195.5,875.0V900.2M196.5,874.1V899.5M197.5,874.1V900.2M198.5,873.1V900.9M199.5,873.9V899.1M200.5,872.9V898.8M201.5,873.1V898.7M202.5,872.8V898.2M203.5,870.4V898.1M204.5,871.4V898.5M205.5,869.2V897.4M206.5,870.6V896.9M207.5,870.0V896.5M208.5,871.4V895.9M209.5,871.0V896.4M210.5,870.8V896.2M211.5,869.8V895.0M212.5,869.5V894.9M213.5,870.2V895.3M214.5,869.8V894.3M215.5,869.0V893.9M216.5,869.6V894.0M217.5,869.4V894.3M218.5,868.6V893.3M219.5,867.7V893.8M220.5,866.9V892.8M221.5,868.4V893.5M222.5,867.8V892.2M223.5,868.2V892.4M224.5,868.0V891.7M225.5,868.6V891.5M226.5,866.7V891.2M227.5,867.9V891.6M228.5,867.9V890.9M229.5,868.6V890.5M230.5,867.7V892.1M231.5,867.7V890.3M232.5,867.7V891.1M233.5,868.0V890.1M234.5,867.4V890.2M235.5,867.2V889.7M236.5,867.9V890.1M237.5,868.1V890.3M238.5,867.0V889.6M239.5,867.8V891.1M240.5,867.7V889.8M241.5,868.1V889.1M242.5,867.9V889.6M243.5,866.3V888.2M244.5,867.1V888.6M245.5,867.3V888.0M246.5,865.9V887.4M247.5,866.0V887.5M248.5,863.5V887.0M249.5,864.6V886.7M250.5,863.8V885.9M251.5,863.5V888.4M252.5,863.1V884.9M253.5,858.0V884.7M254.5,861.2V886.7M255.5,859.1V883.6M256.5,859.9V883.0M257.5,857.0V883.6M258.5,858.4V882.3M259.5,856.9V883.0M260.5,856.6V881.2M261.5,855.5V880.4M262.5,853.3V878.3M263.5,851.3V878.7M264.5,851.7V877.5M265.5,850.0V876.7M266.5,849.2V874.3M267.5,848.6V872.6M268.5,846.3V873.9M269.5,845.8V871.5M270.5,846.4V872.5M271.5,845.5V869.3M272.5,844.6V870.8M273.5,844.1V868.3M274.5,844.4V867.6M275.5,839.8V867.4M276.5,843.6V866.6M277.5,842.0V866.5M278.5,841.7V869.1M279.5,842.1V864.8M280.5,841.4V864.6M281.5,841.3V866.3M282.5,841.3V864.1M283.5,840.3V864.2M284.5,839.7V863.0M285.5,839.4V863.1M286.5,836.5V862.1M287.5,839.7V862.9M288.5,839.4V863.4M289.5,838.8V863.0M290.5,838.8V861.0M291.5,838.3V862.2M292.5,836.2V861.5M293.5,837.1V861.3M294.5,837.5V860.7M295.5,837.1V863.1M296.5,832.9V860.5M297.5,837.0V861.8M298.5,836.4V859.8M299.5,835.7V860.1M300.5,836.1V860.1M301.5,836.1V859.5M302.5,835.8V862.9M303.5,837.0V859.9M304.5,836.9V859.1M305.5,836.4V858.2M306.5,837.2V858.6M307.5,836.2V859.9M308.5,838.1V857.5M309.5,838.0V857.9M310.5,838.4V857.0M311.5,838.1V857.9M312.5,838.8V856.5M313.5,836.6V856.5M314.5,839.0V857.4M315.5,837.8V856.7M316.5,838.8V857.7M317.5,839.5V856.7M318.5,839.6V857.2M319.5,840.4V857.4M320.5,840.8V857.0M321.5,841.1V857.3M322.5,841.5V857.9M323.5,839.9V858.1M324.5,841.5V858.4M325.5,842.0V858.2M326.5,841.5V859.6M327.5,842.3V858.7M328.5,842.3V859.5M329.5,841.3V860.2M330.5,843.4V861.4M331.5,843.1V860.2M332.5,844.0V861.2M333.5,844.0V862.6M334.5,844.1V862.5M335.5,844.7V861.7M336.5,845.2V862.4M337.5,845.3V862.5M338.5,844.4V863.5M339.5,845.1V863.2M340.5,846.0V865.0M341.5,846.6V864.0M342.5,845.3V864.5M343.5,846.4V866.6M344.5,844.6V867.0M345.5,847.8V865.9M346.5,846.8V866.1M347.5,848.8V867.0M348.5,849.2V867.2M349.5,849.6V868.4M350.5,850.0V868.4M351.5,850.1V871.3M352.5,850.8V870.0M353.5,850.0V870.2M354.5,851.7V870.7M355.5,851.7V872.9M356.5,852.4V871.8M357.5,852.3V872.6M358.5,853.5V873.0M359.5,853.5V876.4M360.5,852.1V874.5M361.5,854.1V875.0M362.5,855.2V876.6M363.5,854.7V876.3M364.5,856.0V877.8M365.5,857.0V877.8M366.5,856.4V878.4M367.5,858.4V882.4M368.5,857.8V881.0M369.5,858.1V881.7M370.5,859.6V882.0M371.5,860.8V882.5M372.5,860.2V883.4M373.5,862.4V884.6M374.5,862.9V885.0M375.5,862.9V887.4M376.5,863.9V888.1M377.5,864.7V888.4M378.5,862.1V890.6M379.5,866.2V889.2M380.5,867.4V890.1M381.5,867.8V892.1M382.5,867.8V892.0M383.5,869.6V893.2M384.5,869.2V893.3M385.5,868.9V894.4M386.5,871.3V894.8M387.5,872.7V896.0M388.5,873.3V896.8M389.5,874.0V898.7M390.5,874.6V900.5M391.5,875.6V899.8M392.5,875.3V900.0M393.5,876.9V900.4M394.5,878.2V902.7M395.5,879.2V905.9M396.5,879.7V902.6M397.5,880.5V904.0M398.5,880.2V904.3M399.5,881.8V905.8M400.5,880.8V905.7M401.5,882.6V907.0M402.5,883.0V908.0M403.5,883.2V908.7M404.5,885.0V908.2M405.5,884.8V908.3M406.5,885.9V909.8M407.5,885.7V909.3M408.5,885.6V911.6M409.5,886.9V910.7M410.5,887.5V910.8M411.5,887.1V911.5M412.5,888.1V911.6M413.5,888.8V912.4M414.5,889.0V912.7M415.5,889.3V913.8M416.5,890.0V915.6M417.5,889.7V914.6M418.5,888.5V914.4M419.5,890.8V915.1M420.5,891.5V914.8M421.5,890.7V915.3M422.5,892.0V916.0M423.5,892.4V917.0M424.5,892.7V916.6M425.5,893.1V917.9M426.5,893.1V919.6M427.5,893.1V917.4M428.5,893.8V918.8M429.5,893.2V918.8M430.5,893.9V918.6M431.5,894.6V919.3M432.5,894.6V919.7M433.5,894.3V919.8M434.5,895.4V919.7M435.5,895.4V920.3M436.5,896.0V920.2M437.5,896.1V921.0M438.5,893.1V921.2M439.5,896.2V922.3M440.5,896.6V921.5M441.5,895.4V922.2M442.5,897.6V922.0M443.5,896.4V922.2M444.5,896.4V923.7M445.5,898.2V923.1M446.5,897.6V925.9M447.5,897.5V923.1M448.5,897.7V923.7M449.5,899.0V924.1M450.5,900.2V924.5M451.5,900.6V924.2M452.5,898.3V924.5M453.5,900.1V925.9M454.5,898.4V926.3M455.5,901.4V927.5M456.5,901.0V926.7M457.5,902.5V925.3M458.5,901.7V925.7M459.5,902.5V925.8M460.5,902.2V925.5M461.5,902.7V926.4M462.5,900.9V926.6M463.5,902.1V927.9M464.5,902.2V925.9M465.5,902.2V926.4M466.5,902.6V926.4M467.5,900.4V926.3M468.5,902.1V925.4M469.5,902.2V926.5M470.5,902.2V925.8M471.5,901.0V925.5M472.5,901.9V924.9M473.5,902.0V927.4M474.5,899.2V925.4M475.5,901.5V925.0M476.5,901.8V924.7M477.5,900.7V925.0M478.5,900.5V925.7M479.5,901.2V925.5M480.5,901.3V924.4M481.5,897.3V925.6M482.5,900.8V923.7M483.5,900.1V923.8M484.5,897.3V922.6M485.5,898.6V922.6M486.5,897.6V921.1M487.5,895.0V920.2M488.5,895.1V919.1M489.5,893.7V918.2M490.5,893.0V917.7M491.5,890.8V916.7M492.5,891.0V915.2M493.5,888.7V914.5M494.5,889.1V914.2M495.5,888.3V913.3M496.5,887.9V914.7M497.5,885.7V913.8M498.5,885.1V910.7M499.5,884.0V911.1M500.5,884.9V910.9M501.5,884.3V910.3M502.5,882.4V909.8M503.5,882.8V907.7M504.5,881.3V907.2M505.5,881.6V906.4M506.5,881.1V905.7M507.5,881.1V907.3M508.5,879.4V905.8M509.5,880.1V904.9M510.5,880.1V904.4M511.5,879.0V904.0M512.5,879.4V904.6M513.5,879.7V904.8M514.5,878.8V909.3M515.5,880.6V905.9M516.5,880.9V906.2M517.5,882.4V907.2M518.5,882.7V910.3M519.5,882.8V909.9M520.5,885.1V911.7M521.5,887.3V912.9M522.5,887.2V914.5M523.5,889.7V917.0M524.5,891.9V917.9M525.5,893.3V919.7M526.5,894.9V922.0M527.5,895.5V922.2M528.5,893.0V924.3M529.5,899.6V926.0M530.5,903.1V926.6M531.5,904.7V930.3M532.5,905.7V931.1M533.5,909.2V932.5M534.5,911.6V933.4M535.5,913.2V936.7M536.5,914.9V937.2M537.5,916.6V939.3M538.5,918.1V940.5M539.5,918.3V942.4M540.5,920.5V944.4M541.5,922.5V946.0M542.5,922.8V948.5M543.5,924.1V949.9M544.5,926.9V952.3M545.5,928.0V954.8M546.5,929.9V955.7M547.5,931.4V957.6M548.5,932.4V961.0M549.5,934.3V960.2M550.5,935.2V962.1M551.5,937.2V962.7M552.5,938.4V964.5M553.5,939.8V966.1M554.5,941.8V966.9M555.5,942.4V968.3M556.5,944.9V972.0M557.5,946.3V972.9M558.5,948.0V972.9M559.5,948.7V972.8M560.5,948.6V974.0M561.5,949.7V974.5M562.5,952.0V974.9M563.5,951.2V975.8M564.5,951.9V975.9M565.5,951.7V977.2M566.5,951.7V976.6M567.5,953.0V976.8M568.5,953.4V981.6M569.5,952.8V977.3M570.5,953.5V978.7M571.5,954.5V978.9M572.5,954.0V978.5M573.5,954.8V978.3M574.5,954.3V978.0M575.5,954.8V978.3M576.5,955.1V978.1M577.5,955.1V978.4M578.5,955.4V979.0M579.5,953.7V981.6M580.5,954.5V978.6M581.5,954.5V977.9M582.5,953.9V978.1M583.5,953.0V977.4M584.5,953.0V977.2M585.5,952.8V977.8M586.5,951.8V977.1M587.5,951.4V976.8M588.5,949.7V976.3M589.5,951.0V976.7M590.5,949.7V977.6M591.5,949.3V975.3M592.5,948.4V975.8M593.5,948.8V974.6M594.5,947.9V975.2M595.5,947.3V974.0M596.5,946.3V973.4M597.5,944.2V972.5M598.5,944.9V971.8M599.5,943.2V971.2M600.5,941.4V969.7M601.5,941.5V968.4M602.5,940.6V968.1M603.5,938.2V966.4M604.5,937.9V965.3M605.5,937.7V964.1M606.5,935.6V963.2M607.5,935.5V962.4M608.5,934.5V962.4M609.5,933.0V962.1M610.5,931.4V958.7M611.5,931.2V957.5M612.5,929.4V956.7M613.5,928.6V955.0M614.5,927.5V954.0M615.5,925.1V952.2M616.5,925.1V952.6M617.5,923.7V949.3M618.5,921.2V948.0M619.5,919.9V946.7M620.5,915.1V947.2M621.5,916.5V944.6M622.5,913.8V944.9M623.5,913.4V940.1M624.5,912.2V938.3M625.5,909.8V936.9M626.5,908.8V935.2M627.5,907.1V934.2M628.5,903.4V933.6M629.5,904.2V930.5M630.5,902.9V929.4M631.5,901.7V929.8M632.5,899.2V928.8M633.5,900.1V926.4M634.5,898.9V924.6M635.5,898.4V923.7M636.5,897.6V922.8M637.5,896.3V921.5M638.5,896.1V920.5M639.5,894.2V919.8M640.5,894.3V918.4M641.5,894.3V917.6M642.5,893.6V919.2M643.5,893.2V916.5M644.5,892.4V915.2M645.5,891.3V914.4M646.5,889.1V914.4M647.5,891.6V915.2M648.5,890.2V912.6M649.5,890.8V912.4M650.5,889.1V914.5M651.5,889.5V913.1M652.5,889.7V912.2M653.5,889.1V911.4M654.5,888.0V912.8M655.5,889.0V911.8M656.5,887.5V911.3M657.5,888.1V911.2M658.5,886.5V910.9M659.5,887.1V911.1M660.5,887.4V910.7M661.5,887.5V911.1M662.5,886.4V910.6M663.5,886.2V911.1M664.5,887.4V910.5M665.5,886.1V910.5M666.5,887.0V913.0M667.5,886.6V910.3M668.5,887.2V910.6M669.5,884.5V911.1M670.5,886.7V911.3M671.5,886.4V911.4M672.5,885.5V910.7M673.5,886.6V911.4M674.5,887.0V910.5M675.5,887.0V910.4M676.5,885.8V910.8M677.5,887.0V910.7M678.5,887.2V910.1M679.5,885.8V910.9M680.5,887.3V910.0M681.5,886.3V910.9M682.5,887.3V911.6M683.5,887.5V910.2M684.5,885.9V910.3M685.5,885.4V911.9M686.5,886.4V911.9M687.5,887.3V910.8M688.5,887.7V910.1M689.5,887.6V910.5M690.5,887.5V910.0M691.5,886.5V911.6M692.5,883.5V910.6M693.5,887.7V910.2M694.5,887.8V910.0M695.5,887.9V910.1M696.5,887.2V909.9M697.5,887.8V912.3M698.5,888.0V910.3M699.5,887.9V910.2M700.5,886.8V909.9M701.5,888.0V911.7M702.5,887.5V909.6M703.5,888.2V912.6M704.5,888.2V909.9M705.5,888.1V909.6M706.5,888.1V909.7M707.5,888.1V909.8M708.5,887.2V909.7M709.5,888.2V909.4M710.5,888.2V909.9M711.5,887.9V909.6M712.5,887.3V909.7M713.5,888.2V909.7M714.5,887.6V910.7M715.5,887.8V909.7M716.5,887.9V909.3M717.5,886.7V909.4M718.5,888.0V909.6M719.5,887.7V909.5M720.5,887.7V909.9M721.5,887.1V909.0M722.5,886.9V910.5M723.5,887.6V909.9M724.5,886.2V909.5M725.5,886.9V910.3M726.5,887.7V908.8M727.5,887.9V909.2M728.5,886.4V909.0M729.5,886.7V908.8M730.5,887.0V908.7M731.5,887.7V908.9M732.5,886.9V908.6M733.5,887.4V909.0M734.5,887.6V909.2M735.5,886.9V909.2M736.5,887.7V908.5M737.5,885.3V910.0M738.5,886.9V909.2M739.5,887.2V908.9M740.5,887.3V907.9M741.5,887.4V909.1M742.5,886.4V908.4M743.5,886.6V907.8M744.5,887.3V907.8M745.5,886.7V907.7M746.5,887.6V907.5M747.5,887.1V909.9M748.5,887.2V907.8M749.5,887.0V910.2M750.5,887.3V907.2M751.5,887.6V908.4M752.5,887.5V908.5M753.5,887.4V906.8M754.5,886.9V907.5M755.5,887.4V906.8M756.5,887.5V906.5M757.5,886.7V906.6M758.5,886.2V906.4M759.5,886.5V906.2M760.5,887.4V908.2M761.5,887.6V907.4M762.5,887.0V910.2M763.5,886.7V905.5M764.5,887.4V906.1M765.5,886.7V905.4M766.5,884.9V906.2M767.5,887.1V905.0M768.5,887.0V905.2M769.5,886.7V905.2M770.5,886.8V905.1M771.5,886.8V904.8M772.5,887.4V905.3M773.5,887.4V904.9M774.5,887.4V904.7M775.5,887.3V904.1M776.5,887.6V904.7M777.5,886.7V904.4M778.5,887.2V904.4M779.5,887.3V903.6M780.5,886.8V904.3M781.5,887.1V904.1M782.5,887.4V903.3M783.5,886.9V904.1M784.5,885.3V903.6M785.5,887.2V903.7M786.5,885.9V903.3M787.5,886.8V903.0M788.5,886.8V904.9M789.5,886.5V904.0M790.5,887.6V903.0M791.5,888.0V903.0M792.5,888.9V902.8M793.5,886.5V902.9M794.5,887.5V903.9M795.5,888.9V906.1M796.5,886.7V905.9M797.5,888.2V904.2M798.5,888.6V902.5M799.5,886.5V902.6M800.5,888.1V903.3M801.5,887.4V902.8M802.5,888.3V903.6M803.5,887.7V903.6M804.5,888.1V906.0M805.5,888.8V902.7M806.5,888.7V902.8M807.5,888.7V903.0M808.5,888.5V904.8M809.5,888.7V902.9M810.5,888.8V903.3M811.5,887.6V903.3M812.5,888.8V903.2M813.5,887.0V903.7M814.5,886.8V903.2M815.5,888.6V903.6M816.5,888.9V903.2M817.5,888.9V903.7M818.5,889.2V903.6M819.5,889.1V904.2M820.5,887.0V904.5M821.5,889.2V903.8M822.5,888.7V903.7M823.5,889.5V904.2M824.5,889.2V904.3M825.5,888.4V905.1M826.5,889.0V904.6M827.5,889.9V904.8M828.5,889.5V904.5M829.5,889.6V904.7M830.5,889.1V906.4M831.5,889.8V905.3M832.5,889.5V904.8M833.5,888.3V905.0M834.5,889.6V905.1M835.5,889.9V905.0M836.5,888.3V906.1M837.5,889.8V905.1M838.5,890.1V905.4M839.5,889.1V905.5M840.5,890.1V906.7M841.5,890.2V905.7M842.5,889.7V905.5M843.5,889.5V906.2M844.5,889.6V907.1M845.5,889.4V906.0M846.5,889.6V906.0M847.5,889.2V905.7M848.5,887.4V906.1M849.5,889.4V906.5M850.5,889.5V905.7M851.5,889.3V906.4M852.5,889.8V906.3M853.5,889.3V907.2M854.5,888.8V906.3M855.5,889.0V906.8M856.5,888.4V906.1M857.5,888.6V906.4M858.5,888.8V906.0M859.5,888.7V906.1M860.5,888.8V906.8M861.5,888.3V909.6M862.5,888.6V906.7M863.5,888.8V906.9M864.5,887.5V906.6M865.5,887.1V906.4M866.5,886.9V906.4M867.5,888.6V907.7M868.5,887.3V906.6M869.5,887.8V907.4M870.5,888.5V907.4M871.5,888.3V906.8M872.5,888.3V909.4M873.5,888.6V907.2M874.5,888.3V907.9M875.5,888.5V907.7M876.5,888.6V908.4M877.5,888.3V908.0M878.5,889.1V910.5M879.5,889.1V908.9M880.5,889.2V909.1M881.5,889.3V909.5M882.5,888.2V909.8M883.5,889.2V909.9M884.5,890.0V915.3M885.5,889.4V910.5M886.5,889.5V910.5M887.5,885.4V910.7M888.5,890.7V913.1M889.5,889.9V914.1M890.5,890.4V911.5M891.5,887.9V912.1M892.5,891.3V912.6M893.5,889.7V913.4M894.5,891.3V912.6M895.5,890.6V912.6M896.5,891.1V912.4M897.5,891.1V913.7M898.5,891.5V914.3M899.5,891.6V912.5M900.5,891.5V913.2M901.5,891.6V914.0M902.5,890.6V912.4M903.5,891.3V912.6M904.5,890.7V914.4M905.5,890.9V912.6M906.5,891.1V913.7M907.5,891.0V915.6M908.5,891.1V912.5M909.5,890.2V913.9M910.5,890.5V914.2M911.5,890.7V913.7M912.5,890.6V912.9M913.5,890.4V913.4M914.5,890.1V912.7M915.5,890.0V912.9M916.5,888.4V912.5M917.5,890.1V914.5M918.5,889.4V912.6M919.5,889.5V912.7M920.5,889.7V913.4M921.5,888.9V914.2M922.5,888.4V913.1M923.5,887.8V912.5M924.5,889.4V913.1M925.5,887.9V913.2M926.5,889.2V913.0M927.5,889.4V913.0M928.5,887.9V912.7M929.5,888.2V916.1M930.5,889.2V912.9M931.5,888.7V914.1M932.5,889.3V912.9M933.5,888.8V914.8M934.5,888.3V914.3M935.5,886.3V915.3M936.5,889.2V913.0M937.5,887.8V912.6M938.5,888.3V912.9M939.5,889.1V912.7M940.5,888.3V912.5M941.5,888.7V913.3M942.5,888.8V912.8M943.5,887.5V912.8M944.5,888.2V912.4M945.5,887.8V914.4M946.5,884.0V912.5M947.5,887.2V913.0M948.5,887.1V914.2M949.5,886.5V913.7M950.5,887.4V913.1M951.5,888.8V912.6M952.5,888.3V913.1M953.5,888.3V915.1M954.5,888.2V912.9M955.5,887.6V912.9M956.5,888.0V913.3M957.5,888.2V912.6M958.5,887.3V913.2M959.5,888.2V913.2M960.5,887.9V913.1M961.5,887.8V912.6M962.5,887.7V912.6M963.5,888.3V912.5M964.5,888.0V912.2M965.5,888.1V913.3M966.5,886.3V911.9M967.5,887.4V911.7M968.5,887.0V912.6M969.5,887.2V912.6M970.5,887.3V911.4M971.5,887.3V912.3M972.5,887.2V912.2M973.5,886.7V911.7M974.5,886.3V913.5M975.5,887.3V911.6M976.5,887.1V911.1M977.5,887.3V911.6M978.5,887.2V911.8M979.5,887.3V913.3M980.5,885.4V911.4M981.5,884.5V911.5M982.5,887.1V913.9M983.5,886.6V911.1M984.5,887.4V911.9M985.5,886.9V911.2M986.5,885.7V911.0M987.5,887.5V911.1M988.5,887.6V911.4M989.5,887.2V911.2M990.5,886.8V914.8M991.5,887.9V912.1M992.5,887.7V912.2M993.5,888.1V911.6M994.5,884.9V911.7M995.5,888.4V913.1M996.5,888.3V911.7M997.5,888.6V912.5M998.5,887.2V912.9M999.5,888.5V912.4M1000.5,888.8V913.5M1001.5,888.3V912.5M1002.5,888.7V912.7M1003.5,889.8V912.6M1004.5,889.5V912.6M1005.5,889.1V914.2M1006.5,890.2V913.9M1007.5,890.3V913.9M1008.5,891.1V913.6M1009.5,891.8V915.8M1010.5,892.8V915.4M1011.5,893.9V918.5M1012.5,895.3V917.0M1013.5,895.6V918.2M1014.5,896.0V919.4M1015.5,897.2V919.9M1016.5,897.3V919.1M1017.5,894.6V918.9M1018.5,895.8V919.2M1019.5,897.0V919.0M1020.5,896.2V919.0M1021.5,896.7V920.4M1022.5,896.2V918.2M1023.5,894.5V918.1M1024.5,895.6V919.5M1025.5,895.7V917.5M1026.5,895.8V918.4M1027.5,895.5V917.6M1028.5,895.4V917.2M1029.5,895.1V917.1M1030.5,894.7V917.0M1031.5,894.7V916.3M1032.5,894.4V915.9M1033.5,892.8V915.9M1034.5,893.5V916.4M1035.5,893.1V915.6M1036.5,893.6V915.6M1037.5,893.3V917.1M1038.5,892.5V915.2M1039.5,892.9V915.1M1040.5,888.2V914.8M1041.5,889.7V915.3M1042.5,889.6V915.1M1043.5,889.2V915.6M1044.5,887.9V915.3M1045.5,889.1V915.2M1046.5,889.9V914.8M1047.5,889.0V916.2M1048.5,890.1V916.3M1049.5,890.2V916.5M1050.5,888.9V916.1M1051.5,890.3V916.5M1052.5,889.7V915.7M1053.5,891.3V916.1M1054.5,891.3V917.5M1055.5,892.0V916.7M1056.5,891.8V917.2M1057.5,891.8V918.1M1058.5,892.7V917.2M1059.5,890.9V918.3M1060.5,893.3V919.7M1061.5,893.4V918.0M1062.5,893.3V919.0M1063.5,894.4V919.1M1064.5,894.4V919.4M1065.5,894.5V921.0M1066.5,894.5V920.0M1067.5,893.0V919.5M1068.5,893.5V920.4M1069.5,895.1V920.2M1070.5,895.8V920.9M1071.5,895.8V920.3M1072.5,896.2V920.5M1073.5,896.2V920.9M1074.5,896.9V920.9M1075.5,896.9V922.3M1076.5,896.0V921.8M1077.5,896.1V923.9M1078.5,897.7V923.0M1079.5,897.2V922.9M1080.5,898.0V924.5M1081.5,897.3V924.3M1082.5,897.0V923.6M1083.5,897.8V923.9M1084.5,898.9V924.9M1085.5,899.4V924.1M1086.5,899.0V926.4M1087.5,898.7V927.1M1088.5,899.9V925.5M1089.5,898.8V927.4M1090.5,899.1V925.1M1091.5,900.9V926.9M1092.5,899.3V925.7M1093.5,901.9V926.7M1094.5,901.4V926.4M1095.5,902.5V927.1M1096.5,903.2V928.1M1097.5,903.0V927.6M1098.5,902.7V928.9M1099.5,905.0V929.7M1100.5,905.1V929.9M1101.5,905.6V931.3M1102.5,907.1V930.2M1103.5,907.5V930.7M1104.5,908.3V932.2M1105.5,907.1V931.6M1106.5,909.1V931.8M1107.5,910.1V932.8M1108.5,910.3V932.7M1109.5,908.7V933.5M1110.5,911.0V934.1M1111.5,911.0V933.9M1112.5,909.8V934.9M1113.5,911.6V934.6M1114.5,911.9V934.7M1115.5,911.9V934.9M1116.5,912.4V935.1M1117.5,911.1V935.4M1118.5,912.9V936.5M1119.5,911.6V936.4M1120.5,912.9V936.6M1121.5,913.5V936.1M1122.5,912.1V937.9M1123.5,914.1V936.8M1124.5,912.9V940.2M1125.5,913.3V937.0M1126.5,913.7V936.5M1127.5,914.0V936.6M1128.5,913.0V936.2M1129.5,912.6V936.2M1130.5,912.6V934.6M1131.5,912.5V934.1M1132.5,911.7V933.6M1133.5,911.0V932.4M1134.5,910.2V931.5M1135.5,909.1V931.2M1136.5,909.7V930.1M1137.5,907.8V928.6M1138.5,908.7V927.6M1139.5,906.7V926.7M1140.5,907.3V927.8M1141.5,906.7V925.5M1142.5,905.7V924.6M1143.5,906.0V923.9M1144.5,903.9V923.3M1145.5,904.4V923.0M1146.5,904.1V921.8M1147.5,902.9V922.6M1148.5,901.1V921.3M1149.5,900.8V920.9M1150.5,901.5V920.1M1151.5,900.8V919.3M1152.5,899.3V918.3M1153.5,899.1V919.1" stroke="#0000ff" stroke-width="1.05" fill="none"/>
<path d="M165.5,889.9V903.1M166.5,888.5V904.0M167.5,888.6V903.2M168.5,888.9V902.5M169.5,888.4V901.9M170.5,886.6V901.2M171.5,886.8V901.4M172.5,887.1V900.9M173.5,885.6V901.3M174.5,886.0V899.7M175.5,885.3V903.8M176.5,885.9V899.6M177.5,884.1V900.1M178.5,885.0V899.2M179.5,884.6V898.5M180.5,883.7V897.9M181.5,883.7V897.9M182.5,883.2V896.8M183.5,882.5V896.5M184.5,881.6V896.4M185.5,882.2V896.2M186.5,881.2V895.5M187.5,881.4V895.3M188.5,880.5V895.0M189.5,880.4V896.9M190.5,880.0V894.9M191.5,879.6V894.3M192.5,879.3V894.6M193.5,878.6V893.9M194.5,878.2V895.3M195.5,877.9V892.8M196.5,877.1V893.3M197.5,877.0V892.1M198.5,876.4V891.8M199.5,876.6V892.6M200.5,874.7V891.3M201.5,873.5V891.3M202.5,874.9V891.0M203.5,873.8V890.7M204.5,875.0V890.5M205.5,874.8V891.4M206.5,873.5V890.3M207.5,872.0V889.9M208.5,874.2V889.8M209.5,873.9V889.4M210.5,873.9V889.1M211.5,870.8V889.6M212.5,873.0V889.1M213.5,873.3V888.8M214.5,872.1V889.3M215.5,871.8V888.0M216.5,872.8V888.2M217.5,871.5V889.5M218.5,872.3V887.6M219.5,871.7V887.2M220.5,871.7V887.2M221.5,871.4V887.9M222.5,871.6V886.8M223.5,872.2V886.6M224.5,872.1V887.2M225.5,869.4V886.3M226.5,872.0V886.3M227.5,871.3V886.8M228.5,871.8V886.6M229.5,871.9V886.0M230.5,870.7V887.5M231.5,871.2V885.9M232.5,872.1V886.1M233.5,872.3V886.1M234.5,872.2V885.6M235.5,871.9V885.9M236.5,872.4V886.4M237.5,872.5V886.5M238.5,872.5V885.2M239.5,872.4V886.1M240.5,871.7V885.1M241.5,872.0V885.5M242.5,872.5V885.0M243.5,872.2V884.3M244.5,871.7V884.1M245.5,871.0V884.3M246.5,868.6V883.3M247.5,870.6V883.8M248.5,869.8V883.3M249.5,869.1V882.1M250.5,868.0V881.6M251.5,867.4V881.3M252.5,867.2V881.2M253.5,865.7V879.5M254.5,865.8V878.8M255.5,864.5V880.2M256.5,864.0V878.0M257.5,862.5V877.1M258.5,862.3V876.7M259.5,861.6V875.8M260.5,860.4V874.8M261.5,859.5V874.0M262.5,858.6V873.0M263.5,857.3V873.1M264.5,855.2V871.0M265.5,855.3V870.2M266.5,853.9V869.2M267.5,851.3V868.4M268.5,851.6V867.3M269.5,851.6V867.5M270.5,850.9V866.3M271.5,849.4V865.6M272.5,850.0V865.5M273.5,846.9V865.4M274.5,848.9V865.6M275.5,847.9V865.1M276.5,847.0V863.0M277.5,846.1V862.6M278.5,846.4V862.4M279.5,844.7V862.8M280.5,844.8V861.8M281.5,844.5V862.1M282.5,844.2V862.8M283.5,844.1V861.8M284.5,843.9V860.8M285.5,842.8V859.7M286.5,842.2V859.4M287.5,842.6V859.5M288.5,843.1V865.1M289.5,840.6V859.6M290.5,842.2V858.7M291.5,841.3V858.4M292.5,838.3V858.0M293.5,842.4V857.7M294.5,842.1V857.1M295.5,840.8V857.4M296.5,840.9V856.5M297.5,841.2V857.0M298.5,840.3V858.0M299.5,840.6V856.0M300.5,841.6V856.5M301.5,841.0V856.0M302.5,841.2V855.4M303.5,841.8V855.7M304.5,841.4V854.8M305.5,842.1V855.0M306.5,842.1V855.9M307.5,842.1V855.5M308.5,842.5V854.1M309.5,842.2V854.0M310.5,842.9V853.9M311.5,843.0V853.2M312.5,842.7V853.4M313.5,841.4V854.0M314.5,843.8V853.3M315.5,843.6V852.9M316.5,843.9V854.0M317.5,844.5V853.8M318.5,844.5V853.5M319.5,842.9V853.9M320.5,845.1V853.9M321.5,842.5V854.7M322.5,845.1V854.7M323.5,846.0V854.0M324.5,845.1V855.0M325.5,844.1V854.7M326.5,841.8V855.3M327.5,847.3V855.8M328.5,847.8V856.6M329.5,846.8V857.2M330.5,847.0V856.6M331.5,848.8V857.9M332.5,849.2V858.8M333.5,848.4V857.7M334.5,849.7V858.7M335.5,849.8V858.3M336.5,850.3V858.6M337.5,850.6V860.4M338.5,851.0V859.9M339.5,851.6V860.1M340.5,852.0V860.4M341.5,849.8V860.5M342.5,852.7V862.0M343.5,852.0V861.4M344.5,851.9V864.7M345.5,852.3V862.4M346.5,853.6V863.2M347.5,853.7V864.9M348.5,853.7V863.6M349.5,854.0V865.1M350.5,854.6V864.8M351.5,855.1V865.5M352.5,853.8V867.0M353.5,854.7V866.8M354.5,856.0V866.7M355.5,856.4V867.5M356.5,856.5V867.8M357.5,855.8V868.4M358.5,857.4V869.3M359.5,855.5V869.7M360.5,858.5V870.9M361.5,858.3V871.1M362.5,859.6V871.4M363.5,859.8V874.0M364.5,860.8V872.7M365.5,861.3V873.9M366.5,862.2V874.2M367.5,863.0V874.8M368.5,863.4V875.8M369.5,864.4V876.5M370.5,864.0V876.9M371.5,866.4V879.3M372.5,866.9V879.7M373.5,867.1V879.4M374.5,869.0V880.4M375.5,869.2V882.0M376.5,868.0V883.3M377.5,871.2V885.0M378.5,871.7V883.5M379.5,872.7V884.8M380.5,873.8V885.5M381.5,875.2V887.1M382.5,875.8V886.4M383.5,876.0V887.6M384.5,876.7V888.6M385.5,877.3V890.6M386.5,878.9V889.4M387.5,879.2V890.4M388.5,880.1V892.2M389.5,880.8V892.0M390.5,881.1V893.1M391.5,881.0V893.3M392.5,882.8V894.2M393.5,883.2V894.8M394.5,884.4V897.1M395.5,885.0V896.4M396.5,884.1V897.4M397.5,886.3V898.1M398.5,886.3V898.7M399.5,886.9V899.2M400.5,887.5V900.1M401.5,887.7V900.7M402.5,889.3V901.1M403.5,889.8V901.8M404.5,889.7V902.5M405.5,891.0V902.8M406.5,891.5V904.2M407.5,891.4V903.5M408.5,891.9V905.8M409.5,893.1V904.8M410.5,893.7V905.9M411.5,893.6V905.7M412.5,894.6V905.8M413.5,894.5V908.2M414.5,895.5V907.7M415.5,895.8V908.0M416.5,896.6V909.9M417.5,896.9V907.9M418.5,896.1V907.9M419.5,896.5V908.3M420.5,897.8V909.4M421.5,898.0V909.7M422.5,898.7V909.3M423.5,899.0V910.2M424.5,899.6V910.8M425.5,899.7V910.4M426.5,900.5V914.1M427.5,900.8V913.0M428.5,900.3V913.1M429.5,900.8V912.1M430.5,901.0V912.8M431.5,901.7V913.1M432.5,901.7V913.3M433.5,901.8V914.0M434.5,902.5V914.2M435.5,901.7V915.3M436.5,901.2V915.2M437.5,903.0V916.2M438.5,903.1V915.9M439.5,903.3V916.5M440.5,903.8V917.6M441.5,903.9V917.0M442.5,904.4V919.2M443.5,903.9V917.6M444.5,905.1V918.3M445.5,905.4V917.8M446.5,904.9V918.0M447.5,905.7V919.5M448.5,904.8V920.0M449.5,905.9V920.6M450.5,906.1V919.5M451.5,906.0V920.5M452.5,907.8V921.1M453.5,907.4V919.8M454.5,907.1V919.6M455.5,905.6V920.0M456.5,909.3V919.9M457.5,909.5V921.2M458.5,909.6V920.3M459.5,909.4V920.3M460.5,909.5V920.9M461.5,908.8V921.3M462.5,909.6V921.6M463.5,909.5V921.5M464.5,909.1V920.4M465.5,909.3V924.3M466.5,909.1V920.5M467.5,909.2V922.2M468.5,909.1V919.9M469.5,908.9V919.9M470.5,908.3V920.1M471.5,907.4V920.1M472.5,907.4V920.5M473.5,908.5V920.9M474.5,908.2V919.9M475.5,907.6V921.2M476.5,907.1V919.6M477.5,907.4V919.4M478.5,907.5V920.4M479.5,907.4V920.1M480.5,907.1V921.6M481.5,906.3V919.4M482.5,905.8V921.3M483.5,905.5V918.3M484.5,903.2V918.4M485.5,904.0V918.7M486.5,902.9V915.4M487.5,901.6V916.4M488.5,899.9V912.8M489.5,899.0V912.1M490.5,897.1V910.5M491.5,897.2V909.7M492.5,896.2V908.0M493.5,895.3V907.1M494.5,894.5V909.4M495.5,894.0V906.1M496.5,890.8V905.4M497.5,892.4V905.2M498.5,889.1V905.1M499.5,891.0V905.2M500.5,890.5V905.5M501.5,889.5V906.3M502.5,889.3V903.1M503.5,888.4V903.0M504.5,888.4V903.7M505.5,887.5V903.2M506.5,884.7V902.2M507.5,886.6V902.2M508.5,885.8V901.7M509.5,885.0V902.5M510.5,886.0V901.8M511.5,885.5V901.3M512.5,885.8V901.8M513.5,885.6V901.3M514.5,885.8V902.4M515.5,887.2V902.6M516.5,887.8V903.3M517.5,888.6V903.5M518.5,888.2V905.8M519.5,892.1V906.3M520.5,892.7V906.4M521.5,895.2V907.7M522.5,897.0V908.4M523.5,898.3V909.9M524.5,899.7V913.0M525.5,901.8V912.0M526.5,903.2V914.7M527.5,905.0V914.9M528.5,905.9V916.6M529.5,908.3V918.9M530.5,909.5V920.9M531.5,911.7V923.0M532.5,913.6V926.7M533.5,913.2V926.9M534.5,917.2V930.2M535.5,917.6V930.9M536.5,920.3V932.3M537.5,921.7V934.6M538.5,922.1V936.2M539.5,924.0V938.1M540.5,926.0V939.7M541.5,925.9V941.2M542.5,928.6V943.1M543.5,928.9V945.1M544.5,931.6V946.5M545.5,932.8V949.7M546.5,933.2V950.1M547.5,935.0V953.6M548.5,935.8V952.9M549.5,938.3V955.2M550.5,939.0V955.8M551.5,940.2V957.3M552.5,942.5V959.6M553.5,944.2V961.7M554.5,946.5V962.5M555.5,947.5V963.4M556.5,948.9V964.6M557.5,951.2V966.0M558.5,952.5V967.6M559.5,952.7V968.5M560.5,955.7V970.8M561.5,956.2V970.7M562.5,957.2V970.8M563.5,957.9V971.2M564.5,958.1V972.0M565.5,957.4V971.8M566.5,958.9V972.5M567.5,958.7V972.7M568.5,959.0V973.2M569.5,959.6V973.2M570.5,960.1V973.2M571.5,959.8V974.0M572.5,959.9V973.7M573.5,960.6V973.9M574.5,960.3V974.5M575.5,960.4V974.8M576.5,960.6V977.3M577.5,958.3V974.2M578.5,959.2V974.9M579.5,956.4V976.2M580.5,960.6V974.0M581.5,960.3V974.9M582.5,959.6V973.5M583.5,955.1V974.4M584.5,957.9V973.4M585.5,958.1V973.0M586.5,957.1V972.8M587.5,957.2V974.6M588.5,956.7V972.3M589.5,956.5V974.4M590.5,955.9V971.7M591.5,954.4V972.0M592.5,954.6V971.3M593.5,954.2V971.5M594.5,953.6V970.0M595.5,952.9V969.5M596.5,950.6V968.8M597.5,950.9V968.2M598.5,950.1V967.4M599.5,949.2V966.1M600.5,948.3V965.6M601.5,947.7V963.9M602.5,946.4V963.2M603.5,944.9V961.5M604.5,944.1V961.6M605.5,943.5V959.6M606.5,942.6V958.2M607.5,941.2V956.6M608.5,938.4V957.6M609.5,938.4V954.2M610.5,937.5V953.3M611.5,936.0V951.6M612.5,934.7V950.6M613.5,934.6V949.8M614.5,932.8V949.0M615.5,930.0V947.0M616.5,930.4V945.6M617.5,928.9V946.4M618.5,927.4V942.4M619.5,923.3V940.7M620.5,922.9V939.4M621.5,922.4V937.8M622.5,920.1V936.9M623.5,917.5V934.2M624.5,915.4V932.7M625.5,916.0V931.6M626.5,914.0V929.9M627.5,910.9V931.1M628.5,911.0V926.8M629.5,909.9V925.7M630.5,907.8V924.2M631.5,907.5V923.7M632.5,904.3V921.7M633.5,904.5V921.6M634.5,901.0V921.0M635.5,903.9V918.7M636.5,902.7V917.9M637.5,902.5V917.3M638.5,901.5V916.8M639.5,900.7V915.4M640.5,900.6V914.4M641.5,899.9V915.7M642.5,899.6V913.4M643.5,898.9V913.1M644.5,897.9V911.7M645.5,897.9V911.5M646.5,897.6V912.7M647.5,896.7V910.1M648.5,896.5V911.6M649.5,896.0V909.3M650.5,894.7V909.0M651.5,895.3V909.5M652.5,895.3V908.9M653.5,895.1V908.1M654.5,893.5V908.0M655.5,894.7V908.9M656.5,893.5V907.6M657.5,893.9V907.6M658.5,892.8V907.7M659.5,893.6V907.5M660.5,892.0V907.3M661.5,893.2V907.4M662.5,892.0V907.0M663.5,892.8V908.4M664.5,892.0V906.7M665.5,892.3V907.0M666.5,892.1V906.8M667.5,892.1V907.2M668.5,892.4V908.5M669.5,888.8V906.8M670.5,891.8V907.1M671.5,892.3V906.6M672.5,892.2V906.4M673.5,892.0V908.5M674.5,891.9V909.0M675.5,891.7V907.2M676.5,892.2V906.4M677.5,892.2V906.4M678.5,889.7V906.6M679.5,891.6V906.6M680.5,892.0V906.6M681.5,892.2V906.4M682.5,892.4V907.9M683.5,890.1V906.3M684.5,892.5V906.4M685.5,890.8V907.8M686.5,891.2V906.7M687.5,892.7V907.7M688.5,892.6V906.5M689.5,892.5V906.6M690.5,892.8V906.6M691.5,891.9V906.3M692.5,892.6V909.7M693.5,892.7V910.1M694.5,892.9V906.7M695.5,893.0V907.1M696.5,892.7V908.0M697.5,892.8V906.6M698.5,893.0V906.7M699.5,892.0V906.5M700.5,891.9V907.5M701.5,891.7V906.8M702.5,892.6V906.4M703.5,891.7V906.3M704.5,893.1V906.9M705.5,892.0V906.9M706.5,892.7V907.1M707.5,892.8V906.5M708.5,891.2V906.2M709.5,893.1V906.5M710.5,893.1V906.3M711.5,892.2V906.1M712.5,892.0V906.7M713.5,892.7V907.0M714.5,892.6V905.9M715.5,892.5V907.4M716.5,891.6V905.9M717.5,892.4V905.9M718.5,892.9V906.0M719.5,892.8V906.8M720.5,891.2V905.7M721.5,892.2V906.2M722.5,892.5V905.9M723.5,892.8V906.1M724.5,892.8V905.6M725.5,892.7V905.4M726.5,892.2V906.9M727.5,891.1V905.5M728.5,891.9V905.4M729.5,892.5V905.9M730.5,891.8V905.3M731.5,892.5V905.5M732.5,891.2V905.7M733.5,890.4V905.2M734.5,892.3V905.9M735.5,892.2V905.0M736.5,892.3V904.8M737.5,892.2V904.9M738.5,891.9V905.0M739.5,891.8V905.2M740.5,892.0V905.1M741.5,891.0V905.1M742.5,891.2V905.0M743.5,891.9V905.2M744.5,891.7V904.4M745.5,891.4V904.4M746.5,891.8V905.8M747.5,891.5V904.3M748.5,890.0V905.5M749.5,891.3V904.0M750.5,890.8V905.0M751.5,890.4V906.7M752.5,890.8V904.3M753.5,890.1V904.4M754.5,891.1V906.1M755.5,891.3V903.4M756.5,891.2V903.4M757.5,890.4V903.2M758.5,891.0V903.1M759.5,890.9V903.8M760.5,890.6V904.3M761.5,890.2V902.8M762.5,890.0V902.7M763.5,890.6V902.8M764.5,890.3V903.2M765.5,890.4V902.6M766.5,890.4V902.5M767.5,890.2V902.6M768.5,890.2V902.2M769.5,889.7V901.8M770.5,889.6V901.7M771.5,889.5V903.7M772.5,889.8V901.7M773.5,888.6V904.7M774.5,889.4V901.7M775.5,888.7V901.9M776.5,889.2V901.7M777.5,889.2V901.5M778.5,889.2V901.2M779.5,888.9V901.1M780.5,889.2V900.7M781.5,889.0V900.6M782.5,888.8V901.0M783.5,888.7V900.3M784.5,888.0V901.4M785.5,887.5V900.5M786.5,888.3V900.2M787.5,888.2V900.2M788.5,887.8V900.6M789.5,887.9V899.7M790.5,888.0V901.9M791.5,886.2V899.4M792.5,887.1V899.4M793.5,887.0V899.3M794.5,887.3V902.3M795.5,887.5V899.3M796.5,887.1V899.4M797.5,887.3V900.1M798.5,887.5V899.2M799.5,887.1V899.5M800.5,887.1V899.2M801.5,887.1V900.1M802.5,886.3V899.6M803.5,887.3V899.1M804.5,886.7V900.3M805.5,886.9V900.1M806.5,887.3V899.6M807.5,887.4V899.6M808.5,886.7V899.3M809.5,885.2V900.0M810.5,886.4V899.7M811.5,886.4V899.5M812.5,887.4V899.1M813.5,887.5V899.4M814.5,887.7V901.1M815.5,887.4V899.2M816.5,887.9V900.0M817.5,887.1V900.2M818.5,887.8V900.0M819.5,888.1V899.2M820.5,888.0V899.4M821.5,887.6V899.7M822.5,887.1V899.1M823.5,887.8V899.3M824.5,887.2V900.2M825.5,886.2V899.7M826.5,888.4V899.2M827.5,887.2V899.9M828.5,888.4V900.7M829.5,888.1V899.1M830.5,888.5V899.1M831.5,888.4V899.2M832.5,888.4V899.6M833.5,888.6V899.4M834.5,886.2V899.3M835.5,887.9V900.5M836.5,888.9V899.7M837.5,888.9V900.8M838.5,889.0V900.4M839.5,888.2V899.5M840.5,888.8V899.7M841.5,887.2V899.5M842.5,888.3V899.2M843.5,888.1V902.2M844.5,888.9V899.2M845.5,888.3V901.6M846.5,888.9V900.6M847.5,887.5V900.8M848.5,888.1V899.3M849.5,888.3V899.4M850.5,888.6V899.1M851.5,888.0V899.4M852.5,888.0V899.7M853.5,887.9V899.5M854.5,888.1V899.4M855.5,887.5V899.3M856.5,887.5V899.8M857.5,887.5V900.1M858.5,885.6V899.6M859.5,886.9V900.3M860.5,886.8V900.4M861.5,887.0V900.1M862.5,885.7V899.7M863.5,886.9V899.9M864.5,886.3V899.8M865.5,887.4V900.2M866.5,887.2V900.8M867.5,884.8V899.7M868.5,887.3V900.4M869.5,887.2V899.8M870.5,886.2V899.9M871.5,886.5V902.0M872.5,887.2V901.4M873.5,886.3V900.2M874.5,886.6V900.2M875.5,887.3V900.2M876.5,886.1V900.8M877.5,887.6V900.9M878.5,887.8V900.7M879.5,887.9V900.6M880.5,887.5V901.1M881.5,886.2V901.4M882.5,884.8V903.5M883.5,888.6V902.4M884.5,888.8V902.1M885.5,888.7V902.2M886.5,888.4V902.2M887.5,888.9V902.8M888.5,888.2V903.0M889.5,888.1V902.9M890.5,888.4V902.2M891.5,889.2V902.4M892.5,890.0V902.5M893.5,890.0V902.5M894.5,887.9V902.7M895.5,889.3V902.8M896.5,890.1V902.7M897.5,890.1V902.9M898.5,890.3V903.1M899.5,889.4V903.1M900.5,890.2V903.5M901.5,889.8V903.1M902.5,890.1V903.7M903.5,890.1V903.1M904.5,888.6V903.8M905.5,889.7V903.0M906.5,889.7V903.6M907.5,889.6V904.2M908.5,889.3V906.1M909.5,889.6V903.3M910.5,886.8V903.1M911.5,889.5V903.9M912.5,888.7V903.6M913.5,888.4V903.1M914.5,888.6V903.3M915.5,888.7V903.2M916.5,889.0V904.8M917.5,888.9V903.4M918.5,888.2V904.0M919.5,888.7V905.2M920.5,888.2V904.0M921.5,888.4V903.4M922.5,887.5V903.3M923.5,888.2V903.5M924.5,887.5V903.7M925.5,888.2V903.4M926.5,887.7V903.7M927.5,887.8V904.9M928.5,887.2V904.0M929.5,887.2V904.1M930.5,886.4V903.6M931.5,887.3V904.2M932.5,887.8V904.4M933.5,885.7V903.3M934.5,884.7V903.5M935.5,885.9V903.2M936.5,886.9V904.5M937.5,887.7V903.2M938.5,887.1V903.7M939.5,886.4V903.3M940.5,887.6V903.6M941.5,887.2V903.2M942.5,887.7V903.2M943.5,887.7V904.7M944.5,887.3V903.4M945.5,887.7V903.6M946.5,887.6V903.2M947.5,887.4V902.9M948.5,886.6V903.0M949.5,886.7V902.8M950.5,886.5V903.3M951.5,887.3V902.7M952.5,887.0V902.9M953.5,887.4V902.9M954.5,887.5V903.9M955.5,887.0V903.2M956.5,887.3V902.7M957.5,887.1V902.6M958.5,886.7V902.8M959.5,885.9V903.1M960.5,886.8V903.4M961.5,886.4V902.3M962.5,886.4V903.5M963.5,886.9V903.7M964.5,886.9V902.6M965.5,886.5V902.8M966.5,886.3V903.9M967.5,886.5V901.8M968.5,886.5V901.8M969.5,886.1V903.1M970.5,886.1V903.4M971.5,883.4V901.5M972.5,886.3V901.5M973.5,885.4V901.4M974.5,885.1V901.6M975.5,886.0V901.6M976.5,883.9V902.0M977.5,885.7V901.9M978.5,884.7V901.3M979.5,886.1V902.1M980.5,885.8V901.6M981.5,884.6V902.0M982.5,883.6V901.4M983.5,885.9V901.5M984.5,884.4V901.6M985.5,886.2V901.3M986.5,886.3V901.5M987.5,886.0V901.6M988.5,885.9V901.8M989.5,885.5V901.5M990.5,886.5V901.5M991.5,884.5V902.7M992.5,885.0V905.2M993.5,885.6V904.6M994.5,885.5V902.3M995.5,886.8V901.8M996.5,887.2V901.9M997.5,886.8V902.3M998.5,887.5V902.2M999.5,887.6V902.3M1000.5,887.5V903.0M1001.5,887.4V904.0M1002.5,887.1V902.8M1003.5,888.2V903.6M1004.5,888.0V903.0M1005.5,887.2V903.1M1006.5,887.0V903.1M1007.5,888.7V904.2M1008.5,888.8V904.1M1009.5,889.9V904.0M1010.5,890.8V905.2M1011.5,891.7V906.0M1012.5,893.4V907.1M1013.5,894.9V908.1M1014.5,895.7V909.5M1015.5,895.4V909.1M1016.5,893.8V909.5M1017.5,895.3V909.6M1018.5,895.8V909.1M1019.5,894.6V911.6M1020.5,895.6V908.9M1021.5,894.7V909.3M1022.5,894.6V909.2M1023.5,894.4V908.7M1024.5,894.9V908.6M1025.5,894.7V909.3M1026.5,894.2V909.3M1027.5,894.1V908.3M1028.5,893.6V908.5M1029.5,893.3V908.2M1030.5,893.6V908.1M1031.5,893.3V907.9M1032.5,892.7V909.5M1033.5,890.6V907.7M1034.5,892.6V907.4M1035.5,891.8V907.7M1036.5,890.0V907.7M1037.5,892.1V909.4M1038.5,891.5V907.7M1039.5,891.7V907.1M1040.5,891.0V906.9M1041.5,890.7V907.1M1042.5,891.7V907.0M1043.5,890.9V907.1M1044.5,891.6V907.2M1045.5,889.8V907.2M1046.5,891.9V907.6M1047.5,891.7V910.3M1048.5,888.2V907.4M1049.5,892.5V908.1M1050.5,892.2V908.3M1051.5,892.7V908.1M1052.5,892.8V908.6M1053.5,893.3V908.6M1054.5,891.5V909.7M1055.5,893.9V909.3M1056.5,893.6V912.1M1057.5,890.7V909.9M1058.5,894.8V911.1M1059.5,895.0V911.3M1060.5,894.5V911.1M1061.5,895.8V911.2M1062.5,895.4V911.5M1063.5,896.1V911.7M1064.5,896.4V912.4M1065.5,895.9V913.1M1066.5,897.1V912.9M1067.5,897.3V913.1M1068.5,897.0V912.9M1069.5,896.0V913.4M1070.5,897.9V914.2M1071.5,897.9V915.4M1072.5,898.4V914.0M1073.5,898.3V914.4M1074.5,898.6V915.3M1075.5,898.0V915.1M1076.5,898.1V915.1M1077.5,899.0V915.5M1078.5,897.4V920.3M1079.5,899.4V916.0M1080.5,900.0V916.5M1081.5,900.1V918.3M1082.5,900.2V917.5M1083.5,899.5V918.1M1084.5,900.1V919.9M1085.5,899.6V917.9M1086.5,900.7V918.8M1087.5,901.9V918.5M1088.5,902.0V918.8M1089.5,902.6V919.1M1090.5,901.4V920.1M1091.5,903.3V919.8M1092.5,903.3V921.1M1093.5,903.3V920.6M1094.5,900.7V920.8M1095.5,902.4V922.4M1096.5,905.3V922.3M1097.5,905.6V922.0M1098.5,906.2V922.6M1099.5,907.1V923.3M1100.5,906.7V923.5M1101.5,907.6V923.8M1102.5,908.6V924.5M1103.5,908.1V925.6M1104.5,910.0V927.6M1105.5,910.4V925.8M1106.5,910.8V926.1M1107.5,911.9V926.4M1108.5,912.4V926.5M1109.5,912.7V927.9M1110.5,913.1V927.1M1111.5,913.7V928.3M1112.5,913.3V929.1M1113.5,914.2V928.2M1114.5,914.1V928.4M1115.5,914.8V928.9M1116.5,914.2V928.9M1117.5,914.6V929.4M1118.5,914.1V929.7M1119.5,915.3V930.7M1120.5,913.3V930.2M1121.5,916.1V930.5M1122.5,915.8V930.0M1123.5,916.0V930.1M1124.5,916.1V930.1M1125.5,916.0V930.3M1126.5,914.7V931.3M1127.5,915.7V930.8M1128.5,915.7V929.7M1129.5,915.3V929.8M1130.5,915.0V928.6M1131.5,914.9V928.6M1132.5,914.0V927.3M1133.5,911.9V926.5M1134.5,910.9V927.8M1135.5,911.4V926.3M1136.5,911.8V923.6M1137.5,909.9V923.7M1138.5,910.5V922.3M1139.5,909.7V922.7M1140.5,909.2V920.5M1141.5,909.1V920.0M1142.5,906.7V918.8M1143.5,907.3V918.6M1144.5,906.1V917.8M1145.5,906.8V917.2M1146.5,904.2V916.2M1147.5,904.7V915.9M1148.5,905.0V916.8M1149.5,904.4V914.3M1150.5,902.4V914.7M1151.5,902.9V913.0M1152.5,902.4V912.2M1153.5,898.5V911.9" stroke="#00ff00" stroke-width="1.05" fill="none"/>
<rect x="165.5" y="835.5" width="989" height="163.89999999999998" fill="none" stroke="#262626" stroke-width="1.3"/>
<text x="156.68" y="856.20" text-anchor="end" style="font-size:22.08px;fill:#262626" textLength="26.51" lengthAdjust="spacingAndGlyphs">50</text>
<text x="156.68" y="906.20" text-anchor="end" style="font-size:22.08px;fill:#262626" textLength="13.25" lengthAdjust="spacingAndGlyphs">0</text>
<text x="156.68" y="956.20" text-anchor="end" style="font-size:22.08px;fill:#262626" textLength="34.02" lengthAdjust="spacingAndGlyphs">-50</text>
<text x="156.68" y="1006.20" text-anchor="end" style="font-size:22.08px;fill:#262626" textLength="47.27" lengthAdjust="spacingAndGlyphs">-100</text>
<text class="b" transform="translate(72.00,916.82) rotate(-90)" text-anchor="middle" style="font-size:19.88px;fill:#262626" textLength="188.86" lengthAdjust="spacingAndGlyphs">Model - Measured</text>
<text class="b" transform="translate(98.00,918.13) rotate(-90)" text-anchor="middle" style="font-size:19.88px;fill:#262626" textLength="77.79" lengthAdjust="spacingAndGlyphs">|B| (nT)</text>
<line x1="383.4" y1="1072.4" x2="383.4" y2="1233.5" stroke="#dcdcdc" stroke-width="1"/>
<line x1="670.4" y1="1072.4" x2="670.4" y2="1233.5" stroke="#dcdcdc" stroke-width="1"/>
<line x1="957.4" y1="1072.4" x2="957.4" y2="1233.5" stroke="#dcdcdc" stroke-width="1"/>
<line x1="165" y1="1075.5" x2="1154" y2="1075.5" stroke="#dcdcdc" stroke-width="1"/>
<line x1="165" y1="1128.165" x2="1154" y2="1128.165" stroke="#dcdcdc" stroke-width="1"/>
<line x1="165" y1="1180.83" x2="1154" y2="1180.83" stroke="#dcdcdc" stroke-width="1"/>
<line x1="165" y1="1233.495" x2="1154" y2="1233.495" stroke="#dcdcdc" stroke-width="1"/>
<line x1="383.4" y1="1072.4" x2="383.4" y2="1082.4" stroke="#262626" stroke-width="1.3"/>
<line x1="383.4" y1="1233.5" x2="383.4" y2="1223.5" stroke="#262626" stroke-width="1.3"/>
<line x1="670.4" y1="1072.4" x2="670.4" y2="1082.4" stroke="#262626" stroke-width="1.3"/>
<line x1="670.4" y1="1233.5" x2="670.4" y2="1223.5" stroke="#262626" stroke-width="1.3"/>
<line x1="957.4" y1="1072.4" x2="957.4" y2="1082.4" stroke="#262626" stroke-width="1.3"/>
<line x1="957.4" y1="1233.5" x2="957.4" y2="1223.5" stroke="#262626" stroke-width="1.3"/>
<line x1="165" y1="1075.5" x2="175" y2="1075.5" stroke="#262626" stroke-width="1.3"/>
<line x1="1154" y1="1075.5" x2="1144" y2="1075.5" stroke="#262626" stroke-width="1.3"/>
<line x1="165" y1="1128.165" x2="175" y2="1128.165" stroke="#262626" stroke-width="1.3"/>
<line x1="1154" y1="1128.165" x2="1144" y2="1128.165" stroke="#262626" stroke-width="1.3"/>
<line x1="165" y1="1180.83" x2="175" y2="1180.83" stroke="#262626" stroke-width="1.3"/>
<line x1="1154" y1="1180.83" x2="1144" y2="1180.83" stroke="#262626" stroke-width="1.3"/>
<line x1="165" y1="1233.495" x2="175" y2="1233.495" stroke="#262626" stroke-width="1.3"/>
<line x1="1154" y1="1233.495" x2="1144" y2="1233.495" stroke="#262626" stroke-width="1.3"/>
<path d="M165.5,1140.6V1142.2M166.5,1140.6V1142.2M167.5,1138.0V1142.2M168.5,1138.0V1142.2M169.5,1138.0V1139.6M170.5,1138.0V1139.6M171.5,1135.4V1137.0M172.5,1135.4V1139.6M173.5,1135.4V1139.6M174.5,1135.4V1139.6M175.5,1135.4V1139.6M176.5,1135.4V1139.6M177.5,1135.4V1137.0M178.5,1135.4V1137.0M179.5,1135.4V1137.0M180.5,1135.4V1137.0M181.5,1132.7V1137.0M182.5,1132.7V1137.0M183.5,1132.7V1137.0M184.5,1130.1V1134.3M185.5,1130.1V1134.3M186.5,1130.1V1134.3M187.5,1130.1V1134.3M188.5,1130.1V1134.3M189.5,1130.1V1134.3M190.5,1130.1V1131.7M191.5,1130.1V1131.7M192.5,1127.5V1129.1M193.5,1127.5V1129.1M194.5,1127.5V1131.7M195.5,1127.5V1131.7M196.5,1127.5V1131.7M197.5,1127.5V1131.7M198.5,1127.5V1131.7M199.5,1127.5V1131.7M200.5,1130.1V1131.7M201.5,1130.1V1131.7M202.5,1127.5V1129.1M203.5,1124.8V1129.1M204.5,1124.8V1129.1M205.5,1124.8V1129.1M206.5,1124.8V1129.1M207.5,1124.8V1129.1M208.5,1124.8V1129.1M209.5,1127.5V1129.1M210.5,1127.5V1129.1M211.5,1127.5V1129.1M212.5,1127.5V1129.1M213.5,1124.8V1126.4M214.5,1124.8V1126.4M215.5,1122.2V1126.4M216.5,1119.6V1126.4M217.5,1122.2V1126.4M218.5,1122.2V1126.4M219.5,1122.2V1126.4M220.5,1122.2V1126.4M221.5,1122.2V1126.4M222.5,1122.2V1126.4M223.5,1122.2V1126.4M224.5,1122.2V1126.4M225.5,1122.2V1123.8M226.5,1122.2V1123.8M227.5,1122.2V1123.8M228.5,1122.2V1123.8M229.5,1122.2V1123.8M230.5,1119.6V1123.8M231.5,1119.6V1123.8M232.5,1119.6V1123.8M233.5,1119.6V1123.8M234.5,1119.6V1123.8M235.5,1119.6V1123.8M236.5,1119.6V1123.8M237.5,1119.6V1123.8M238.5,1119.6V1123.8M239.5,1119.6V1123.8M240.5,1119.6V1123.8M241.5,1119.6V1123.8M242.5,1119.6V1123.8M243.5,1119.6V1123.8M244.5,1119.6V1123.8M245.5,1119.6V1123.8M246.5,1119.6V1123.8M247.5,1117.0V1121.2M248.5,1117.0V1121.2M249.5,1117.0V1121.2M250.5,1117.0V1121.2M251.5,1117.0V1121.2M252.5,1117.0V1121.2M253.5,1117.0V1121.2M254.5,1117.0V1121.2M255.5,1117.0V1121.2M256.5,1117.0V1121.2M257.5,1117.0V1121.2M258.5,1117.0V1123.8M259.5,1117.0V1121.2M260.5,1114.3V1121.2M261.5,1117.0V1121.2M262.5,1117.0V1121.2M263.5,1117.0V1118.5M264.5,1117.0V1118.5M265.5,1117.0V1118.5M266.5,1114.3V1115.9M267.5,1117.0V1118.5M268.5,1117.0V1118.5M269.5,1117.0V1118.5M270.5,1114.3V1118.5M271.5,1114.3V1118.5M272.5,1114.3V1118.5M273.5,1114.3V1118.5M274.5,1114.3V1118.5M275.5,1111.7V1118.5M276.5,1114.3V1118.5M277.5,1114.3V1118.5M278.5,1114.3V1118.5M279.5,1114.3V1118.5M280.5,1114.3V1115.9M281.5,1114.3V1115.9M282.5,1114.3V1115.9M283.5,1114.3V1115.9M284.5,1114.3V1115.9M285.5,1114.3V1115.9M286.5,1111.7V1115.9M287.5,1111.7V1115.9M288.5,1111.7V1115.9M289.5,1111.7V1115.9M290.5,1111.7V1115.9M291.5,1111.7V1115.9M292.5,1111.7V1115.9M293.5,1111.7V1115.9M294.5,1111.7V1115.9M295.5,1111.7V1115.9M296.5,1111.7V1115.9M297.5,1111.7V1115.9M298.5,1111.7V1113.3M299.5,1109.1V1110.7M300.5,1109.1V1113.3M301.5,1109.1V1113.3M302.5,1109.1V1113.3M303.5,1109.1V1113.3M304.5,1109.1V1113.3M305.5,1109.1V1113.3M306.5,1109.1V1113.3M307.5,1109.1V1113.3M308.5,1109.1V1113.3M309.5,1109.1V1113.3M310.5,1109.1V1113.3M311.5,1109.1V1113.3M312.5,1109.1V1113.3M313.5,1109.1V1113.3M314.5,1109.1V1110.7M315.5,1109.1V1110.7M316.5,1109.1V1110.7M317.5,1109.1V1110.7M318.5,1109.1V1110.7M319.5,1106.4V1110.7M320.5,1109.1V1110.7M321.5,1109.1V1110.7M322.5,1109.1V1110.7M323.5,1109.1V1110.7M324.5,1106.4V1110.7M325.5,1103.8V1110.7M326.5,1106.4V1110.7M327.5,1106.4V1110.7M328.5,1106.4V1110.7M329.5,1106.4V1110.7M330.5,1106.4V1110.7M331.5,1106.4V1110.7M332.5,1106.4V1108.0M333.5,1106.4V1108.0M334.5,1106.4V1108.0M335.5,1106.4V1108.0M336.5,1106.4V1108.0M337.5,1106.4V1108.0M338.5,1106.4V1108.0M339.5,1106.4V1110.7M340.5,1103.8V1108.0M341.5,1103.8V1108.0M342.5,1103.8V1108.0M343.5,1106.4V1108.0M344.5,1103.8V1108.0M345.5,1103.8V1108.0M346.5,1106.4V1108.0M347.5,1106.4V1108.0M348.5,1106.4V1108.0M349.5,1103.8V1108.0M350.5,1103.8V1108.0M351.5,1103.8V1108.0M352.5,1103.8V1108.0M353.5,1103.8V1108.0M354.5,1103.8V1108.0M355.5,1103.8V1108.0M356.5,1103.8V1108.0M357.5,1103.8V1108.0M358.5,1103.8V1108.0M359.5,1103.8V1108.0M360.5,1103.8V1108.0M361.5,1103.8V1108.0M362.5,1103.8V1108.0M363.5,1103.8V1108.0M364.5,1101.2V1105.4M365.5,1103.8V1105.4M366.5,1103.8V1105.4M367.5,1103.8V1105.4M368.5,1103.8V1105.4M369.5,1103.8V1105.4M370.5,1103.8V1105.4M371.5,1101.2V1105.4M372.5,1101.2V1105.4M373.5,1101.2V1105.4M374.5,1101.2V1105.4M375.5,1101.2V1105.4M376.5,1101.2V1105.4M377.5,1101.2V1105.4M378.5,1101.2V1105.4M379.5,1101.2V1105.4M380.5,1101.2V1105.4M381.5,1101.2V1105.4M382.5,1101.2V1105.4M383.5,1101.2V1105.4M384.5,1101.2V1105.4M385.5,1101.2V1105.4M386.5,1101.2V1105.4M387.5,1101.2V1105.4M388.5,1101.2V1105.4M389.5,1101.2V1105.4M390.5,1101.2V1102.8M391.5,1101.2V1102.8M392.5,1101.2V1102.8M393.5,1098.5V1100.1M394.5,1098.5V1102.8M395.5,1098.5V1102.8M396.5,1098.5V1102.8M397.5,1098.5V1102.8M398.5,1098.5V1102.8M399.5,1098.5V1102.8M400.5,1101.2V1102.8M401.5,1098.5V1102.8M402.5,1098.5V1102.8M403.5,1098.5V1105.4M404.5,1101.2V1102.8M405.5,1101.2V1102.8M406.5,1101.2V1102.8M407.5,1098.5V1102.8M408.5,1098.5V1102.8M409.5,1098.5V1102.8M410.5,1098.5V1102.8M411.5,1098.5V1102.8M412.5,1098.5V1102.8M413.5,1098.5V1102.8M414.5,1098.5V1102.8M415.5,1098.5V1102.8M416.5,1101.2V1102.8M417.5,1101.2V1102.8M418.5,1098.5V1102.8M419.5,1098.5V1102.8M420.5,1098.5V1100.1M421.5,1098.5V1100.1M422.5,1098.5V1100.1M423.5,1098.5V1100.1M424.5,1098.5V1100.1M425.5,1098.5V1100.1M426.5,1098.5V1100.1M427.5,1098.5V1100.1M428.5,1098.5V1100.1M429.5,1098.5V1100.1M430.5,1098.5V1100.1M431.5,1098.5V1100.1M432.5,1098.5V1100.1M433.5,1095.9V1100.1M434.5,1095.9V1100.1M435.5,1095.9V1100.1M436.5,1095.9V1100.1M437.5,1095.9V1100.1M438.5,1095.9V1100.1M439.5,1095.9V1100.1M440.5,1098.5V1100.1M441.5,1098.5V1100.1M442.5,1098.5V1100.1M443.5,1098.5V1102.8M444.5,1095.9V1100.1M445.5,1095.9V1100.1M446.5,1095.9V1100.1M447.5,1095.9V1100.1M448.5,1095.9V1100.1M449.5,1095.9V1100.1M450.5,1095.9V1100.1M451.5,1095.9V1100.1M452.5,1095.9V1100.1M453.5,1095.9V1100.1M454.5,1095.9V1097.5M455.5,1095.9V1097.5M456.5,1095.9V1097.5M457.5,1095.9V1097.5M458.5,1095.9V1097.5M459.5,1095.9V1097.5M460.5,1095.9V1097.5M461.5,1093.3V1097.5M462.5,1093.3V1097.5M463.5,1093.3V1097.5M464.5,1093.3V1097.5M465.5,1093.3V1097.5M466.5,1093.3V1097.5M467.5,1093.3V1097.5M468.5,1093.3V1097.5M469.5,1093.3V1097.5M470.5,1093.3V1097.5M471.5,1093.3V1094.9M472.5,1093.3V1094.9M473.5,1093.3V1094.9M474.5,1093.3V1094.9M475.5,1093.3V1094.9M476.5,1090.6V1094.9M477.5,1093.3V1094.9M478.5,1093.3V1097.5M479.5,1093.3V1097.5M480.5,1093.3V1094.9M481.5,1093.3V1094.9M482.5,1093.3V1094.9M483.5,1090.7V1092.2M484.5,1090.7V1092.2M485.5,1090.7V1092.2M486.5,1093.3V1094.9M487.5,1093.3V1094.9M488.5,1093.3V1094.9M489.5,1093.3V1094.9M490.5,1090.7V1094.9M491.5,1090.7V1094.9M492.5,1090.7V1094.9M493.5,1090.7V1094.9M494.5,1090.7V1094.9M495.5,1090.7V1094.9M496.5,1090.7V1094.9M497.5,1090.7V1094.9M498.5,1090.7V1094.9M499.5,1090.7V1094.9M500.5,1090.7V1094.9M501.5,1090.7V1094.9M502.5,1090.7V1094.9M503.5,1090.7V1094.9M504.5,1090.7V1094.9M505.5,1090.7V1092.2M506.5,1090.7V1092.2M507.5,1088.0V1092.2M508.5,1090.7V1092.2M509.5,1090.7V1094.9M510.5,1090.7V1094.9M511.5,1090.7V1094.9M512.5,1090.7V1094.9M513.5,1090.7V1092.2M514.5,1090.7V1092.2M515.5,1090.7V1092.2M516.5,1088.0V1089.6M517.5,1090.7V1092.2M518.5,1090.7V1092.2M519.5,1090.7V1092.2M520.5,1090.7V1092.2M521.5,1090.7V1092.2M522.5,1090.7V1092.2M523.5,1088.0V1092.2M524.5,1088.0V1092.2M525.5,1088.0V1092.2M526.5,1088.0V1094.9M527.5,1088.0V1092.2M528.5,1088.0V1092.2M529.5,1088.0V1092.2M530.5,1088.0V1092.2M531.5,1088.0V1092.2M532.5,1088.0V1092.2M533.5,1088.0V1092.2M534.5,1088.0V1092.2M535.5,1088.0V1092.2M536.5,1088.0V1092.2M537.5,1088.0V1092.2M538.5,1088.0V1092.2M539.5,1088.0V1092.2M540.5,1088.0V1092.2M541.5,1088.0V1092.2M542.5,1088.0V1092.2M543.5,1088.0V1092.2M544.5,1088.0V1092.2M545.5,1088.0V1092.2M546.5,1088.0V1092.2M547.5,1088.0V1092.2M548.5,1088.0V1092.2M549.5,1088.0V1092.2M550.5,1088.0V1092.2M551.5,1088.0V1092.2M552.5,1088.0V1092.2M553.5,1088.0V1092.2M554.5,1088.0V1089.6M555.5,1088.0V1089.6M556.5,1088.0V1092.2M557.5,1088.0V1089.6M558.5,1088.0V1092.2M559.5,1088.0V1092.2M560.5,1088.0V1092.2M561.5,1088.0V1092.2M562.5,1088.0V1092.2M563.5,1088.0V1092.2M564.5,1088.0V1092.2M565.5,1088.0V1092.2M566.5,1088.0V1092.2M567.5,1088.0V1089.6M568.5,1088.0V1089.6M569.5,1088.0V1089.6M570.5,1085.4V1087.0M571.5,1085.4V1089.6M572.5,1085.4V1089.6M573.5,1085.4V1089.6M574.5,1085.4V1089.6M575.5,1085.4V1092.3M576.5,1085.4V1089.6M577.5,1085.4V1089.6M578.5,1088.0V1089.6M579.5,1088.0V1089.6M580.5,1088.0V1089.6M581.5,1088.0V1089.6M582.5,1088.0V1089.6M583.5,1088.0V1089.6M584.5,1088.0V1089.6M585.5,1085.4V1089.6M586.5,1088.0V1089.6M587.5,1088.0V1089.6M588.5,1088.0V1089.6M589.5,1088.0V1089.6M590.5,1085.4V1089.6M591.5,1085.4V1089.6M592.5,1088.0V1089.6M593.5,1088.0V1089.6M594.5,1088.0V1089.6M595.5,1085.4V1089.6M596.5,1085.4V1089.6M597.5,1085.4V1089.6M598.5,1085.4V1089.6M599.5,1085.4V1089.6M600.5,1085.4V1089.6M601.5,1085.4V1089.6M602.5,1085.4V1089.6M603.5,1085.4V1089.6M604.5,1085.4V1089.6M605.5,1085.4V1089.6M606.5,1085.4V1089.6M607.5,1085.4V1089.6M608.5,1085.4V1087.0M609.5,1085.4V1087.0M610.5,1085.4V1087.0M611.5,1085.4V1089.6M612.5,1085.4V1089.6M613.5,1085.4V1089.6M614.5,1085.4V1089.6M615.5,1085.4V1089.6M616.5,1085.4V1089.6M617.5,1085.4V1089.6M618.5,1085.4V1089.6M619.5,1085.4V1092.3M620.5,1085.4V1089.6M621.5,1085.4V1089.6M622.5,1085.4V1089.6M623.5,1085.4V1087.0M624.5,1085.4V1089.6M625.5,1085.4V1087.0M626.5,1085.4V1089.6M627.5,1085.4V1089.6M628.5,1085.4V1089.6M629.5,1085.4V1089.6M630.5,1085.4V1089.6M631.5,1085.4V1089.6M632.5,1085.4V1089.6M633.5,1082.8V1089.6M634.5,1085.4V1087.0M635.5,1085.4V1087.0M636.5,1085.4V1089.6M637.5,1085.4V1089.6M638.5,1085.4V1089.6M639.5,1085.4V1089.6M640.5,1085.4V1089.6M641.5,1085.4V1087.0M642.5,1085.4V1089.6M643.5,1085.4V1089.6M644.5,1085.4V1087.0M645.5,1085.4V1087.0M646.5,1085.4V1087.0M647.5,1085.4V1087.0M648.5,1082.8V1084.4M649.5,1085.4V1087.0M650.5,1085.4V1087.0M651.5,1085.4V1087.0M652.5,1085.4V1087.0M653.5,1082.8V1087.0M654.5,1085.4V1087.0M655.5,1085.4V1087.0M656.5,1082.8V1087.0M657.5,1085.4V1087.0M658.5,1085.4V1087.0M659.5,1085.4V1087.0M660.5,1082.8V1087.0M661.5,1082.8V1089.6M662.5,1082.8V1087.0M663.5,1082.8V1087.0M664.5,1082.8V1087.0M665.5,1085.4V1087.0M666.5,1085.4V1087.0M667.5,1085.4V1087.0M668.5,1082.8V1087.0M669.5,1082.8V1087.0M670.5,1082.8V1087.0M671.5,1080.1V1087.0M672.5,1082.8V1087.0M673.5,1082.8V1087.0M674.5,1082.8V1087.0M675.5,1082.8V1087.0M676.5,1082.8V1087.0M677.5,1082.8V1087.0M678.5,1082.8V1087.0M679.5,1082.8V1087.0M680.5,1082.8V1087.0M681.5,1082.8V1087.0M682.5,1082.8V1087.0M683.5,1082.8V1087.0M684.5,1082.8V1087.0M685.5,1082.8V1087.0M686.5,1082.8V1087.0M687.5,1082.8V1087.0M688.5,1082.8V1087.0M689.5,1082.8V1087.0M690.5,1082.8V1087.0M691.5,1082.8V1087.0M692.5,1082.8V1087.0M693.5,1082.8V1087.0M694.5,1082.8V1087.0M695.5,1082.8V1087.0M696.5,1082.8V1087.0M697.5,1082.8V1087.0M698.5,1082.8V1084.4M699.5,1082.8V1084.4M700.5,1082.8V1084.4M701.5,1085.4V1087.0M702.5,1082.8V1087.0M703.5,1082.8V1087.0M704.5,1082.8V1087.0M705.5,1082.8V1087.0M706.5,1082.8V1087.0M707.5,1082.8V1087.0M708.5,1082.8V1087.0M709.5,1082.8V1087.0M710.5,1082.8V1087.0M711.5,1082.8V1087.0M712.5,1082.8V1087.0M713.5,1082.8V1087.0M714.5,1082.8V1087.0M715.5,1082.8V1084.4M716.5,1080.1V1081.7M717.5,1080.1V1081.7M718.5,1082.8V1084.4M719.5,1082.8V1084.4M720.5,1082.8V1084.4M721.5,1082.8V1087.0M722.5,1082.8V1084.4M723.5,1080.1V1084.4M724.5,1082.8V1084.4M725.5,1082.8V1084.4M726.5,1082.8V1084.4M727.5,1082.8V1084.4M728.5,1082.8V1084.4M729.5,1082.8V1084.4M730.5,1077.5V1084.4M731.5,1080.1V1084.4M732.5,1080.1V1084.4M733.5,1080.1V1084.4M734.5,1080.1V1084.4M735.5,1080.1V1084.4M736.5,1080.1V1084.4M737.5,1080.1V1084.4M738.5,1080.1V1087.0M739.5,1080.1V1084.4M740.5,1080.1V1084.4M741.5,1080.1V1084.4M742.5,1080.1V1084.4M743.5,1080.1V1084.4M744.5,1080.1V1084.4M745.5,1080.1V1084.4M746.5,1080.1V1084.4M747.5,1080.1V1084.4M748.5,1080.1V1084.4M749.5,1080.1V1084.4M750.5,1080.1V1081.7M751.5,1080.1V1081.7M752.5,1080.1V1081.7M753.5,1080.1V1084.4M754.5,1080.1V1084.4M755.5,1080.1V1084.4M756.5,1080.1V1084.4M757.5,1080.1V1081.7M758.5,1080.1V1081.7M759.5,1080.1V1087.0M760.5,1080.1V1084.4M761.5,1080.1V1084.4M762.5,1080.1V1084.4M763.5,1080.1V1084.4M764.5,1080.1V1084.4M765.5,1080.1V1084.4M766.5,1080.1V1084.4M767.5,1080.1V1084.4M768.5,1080.1V1084.4M769.5,1080.1V1084.4M770.5,1080.1V1084.4M771.5,1080.1V1084.4M772.5,1077.5V1084.4M773.5,1080.1V1084.4M774.5,1082.8V1084.4M775.5,1082.8V1084.4M776.5,1080.1V1081.7M777.5,1080.1V1081.7M778.5,1080.1V1081.7M779.5,1080.1V1081.7M780.5,1080.1V1081.7M781.5,1080.1V1084.4M782.5,1080.1V1081.7M783.5,1080.1V1081.7M784.5,1080.1V1081.7M785.5,1077.5V1081.7M786.5,1077.5V1081.7M787.5,1077.5V1081.7M788.5,1077.5V1081.7M789.5,1080.1V1081.7M790.5,1080.1V1081.7M791.5,1080.1V1081.7M792.5,1080.1V1081.7M793.5,1080.1V1081.7M794.5,1080.1V1081.7M795.5,1080.1V1081.7M796.5,1077.5V1081.7M797.5,1080.1V1081.7M798.5,1077.5V1081.7M799.5,1077.5V1081.7M800.5,1077.5V1081.7M801.5,1077.5V1081.7M802.5,1077.5V1081.7M803.5,1077.5V1081.7M804.5,1077.5V1081.7M805.5,1077.5V1081.7M806.5,1077.5V1081.7M807.5,1077.5V1081.7M808.5,1077.5V1081.7M809.5,1077.5V1081.7M810.5,1077.5V1081.7M811.5,1077.5V1081.7M812.5,1077.5V1081.7M813.5,1077.5V1081.7M814.5,1077.5V1081.7M815.5,1077.5V1081.7M816.5,1077.5V1081.7M817.5,1077.5V1081.7M818.5,1077.5V1081.7M819.5,1077.5V1081.7M820.5,1077.5V1081.7M821.5,1077.5V1081.7M822.5,1077.5V1081.7M823.5,1077.5V1081.7M824.5,1077.5V1081.7M825.5,1077.5V1081.7M826.5,1077.5V1081.7M827.5,1077.5V1081.7M828.5,1077.5V1079.1M829.5,1077.5V1079.1M830.5,1077.5V1079.1M831.5,1077.5V1079.1M832.5,1077.5V1081.7M833.5,1077.5V1081.7M834.5,1074.9V1079.1M835.5,1077.5V1079.1M836.5,1077.5V1079.1M837.5,1074.9V1079.1M838.5,1077.5V1079.1M839.5,1074.9V1079.1M840.5,1077.5V1079.1M841.5,1074.9V1079.1M842.5,1074.9V1079.1M843.5,1077.5V1079.1M844.5,1077.5V1079.1M845.5,1077.5V1079.1M846.5,1074.9V1079.1M847.5,1074.9V1079.1M848.5,1074.9V1079.1M849.5,1074.9V1079.1M850.5,1074.9V1079.1M851.5,1074.9V1079.1M852.5,1074.9V1079.1M853.5,1074.9V1079.1M854.5,1074.9V1079.1M855.5,1074.9V1079.1M856.5,1074.9V1079.1M857.5,1074.9V1079.1M858.5,1074.9V1079.1M859.5,1074.9V1079.1M860.5,1074.9V1079.1M861.5,1077.5V1079.1M862.5,1077.5V1079.1M863.5,1077.5V1079.1M864.5,1074.9V1076.5M865.5,1074.9V1076.5M866.5,1074.9V1079.1M867.5,1074.9V1079.1M868.5,1074.9V1079.1M869.5,1074.9V1079.1M870.5,1074.9V1079.1M871.5,1074.9V1079.1M872.5,1074.9V1079.1M873.5,1074.9V1079.1M874.5,1074.9V1079.1M875.5,1074.9V1079.1M876.5,1074.9V1079.1M877.5,1074.9V1079.1M878.5,1074.9V1079.1M879.5,1074.9V1076.5M880.5,1074.9V1076.5M881.5,1072.2V1076.5M882.5,1074.9V1079.1M883.5,1074.9V1079.1M884.5,1074.9V1079.1M885.5,1074.9V1079.1M886.5,1074.9V1079.1M887.5,1074.9V1079.1M888.5,1074.9V1079.1M889.5,1074.9V1079.1M890.5,1074.9V1079.1M891.5,1074.9V1079.1M892.5,1074.9V1079.1M893.5,1074.9V1079.1M894.5,1077.5V1079.1M895.5,1077.5V1079.1M896.5,1074.9V1079.1M897.5,1077.5V1079.1M898.5,1077.5V1079.1M899.5,1077.5V1079.1M900.5,1077.5V1079.1M901.5,1077.5V1081.7M902.5,1074.9V1076.5M903.5,1074.9V1076.5M904.5,1074.9V1079.1M905.5,1074.9V1079.1M906.5,1074.9V1079.1M907.5,1074.9V1079.1M908.5,1074.9V1079.1M909.5,1074.9V1076.5M910.5,1074.9V1076.5M911.5,1074.9V1076.5M912.5,1072.2V1079.1M913.5,1074.9V1079.1M914.5,1074.9V1079.1M915.5,1074.9V1079.1M916.5,1074.9V1079.1M917.5,1074.9V1079.1M918.5,1074.9V1076.5M919.5,1074.9V1076.5M920.5,1074.9V1079.1M921.5,1074.9V1076.5M922.5,1074.9V1076.5M923.5,1074.9V1076.5M924.5,1074.9V1076.5M925.5,1074.9V1079.1M926.5,1074.9V1076.5M927.5,1074.9V1079.1M928.5,1074.9V1079.1M929.5,1074.9V1079.1M930.5,1074.9V1079.1M931.5,1074.9V1076.5M932.5,1074.9V1076.5M933.5,1074.9V1076.5M934.5,1074.9V1079.1M935.5,1074.9V1079.1M936.5,1074.9V1079.1M937.5,1074.9V1079.1M938.5,1074.9V1079.1M939.5,1074.9V1076.5M940.5,1074.9V1076.5M941.5,1074.9V1076.5M942.5,1074.9V1076.5M943.5,1074.9V1079.1M944.5,1074.9V1079.1M945.5,1074.9V1079.1M946.5,1074.9V1079.1M947.5,1077.5V1079.1M948.5,1077.5V1079.1M949.5,1077.5V1079.1M950.5,1074.9V1079.1M951.5,1074.9V1079.1M952.5,1074.9V1079.1M953.5,1074.9V1079.1M954.5,1074.9V1079.1M955.5,1074.9V1076.5M956.5,1074.9V1076.5M957.5,1074.9V1076.5M958.5,1074.9V1079.1M959.5,1074.9V1079.1M960.5,1074.9V1079.1M961.5,1074.9V1079.1M962.5,1074.9V1079.1M963.5,1074.9V1079.1M964.5,1074.9V1076.5M965.5,1074.9V1076.5M966.5,1074.9V1076.5M967.5,1072.2V1076.5M968.5,1074.9V1076.5M969.5,1072.2V1076.5M970.5,1074.9V1079.1M971.5,1074.9V1079.1M972.5,1074.9V1079.1M973.5,1074.9V1079.1M974.5,1074.9V1079.1M975.5,1074.9V1076.5M976.5,1074.9V1076.5M977.5,1074.9V1076.5M978.5,1074.9V1076.5M979.5,1074.9V1079.1M980.5,1074.9V1079.1M981.5,1074.9V1079.1M982.5,1074.9V1079.1M983.5,1074.9V1079.1M984.5,1074.9V1079.1M985.5,1074.9V1079.1M986.5,1074.9V1079.1M987.5,1074.9V1076.5M988.5,1074.9V1076.5M989.5,1074.9V1076.5M990.5,1074.9V1076.5M991.5,1074.9V1079.1M992.5,1074.9V1079.1M993.5,1074.9V1079.1M994.5,1074.9V1079.1M995.5,1074.9V1079.1M996.5,1072.2V1079.1M997.5,1074.9V1079.1M998.5,1074.9V1079.1M999.5,1074.9V1079.1M1000.5,1074.9V1079.1M1001.5,1074.9V1079.1M1002.5,1074.9V1079.1M1003.5,1074.9V1079.1M1004.5,1074.9V1079.1M1005.5,1074.9V1079.1M1006.5,1074.9V1079.1M1007.5,1074.9V1079.1M1008.5,1074.9V1079.1M1009.5,1072.2V1079.1M1010.5,1074.9V1079.1M1011.5,1074.9V1079.1M1012.5,1074.9V1079.1M1013.5,1074.9V1079.1M1014.5,1074.9V1076.5M1015.5,1074.9V1079.1M1016.5,1074.9V1079.1M1017.5,1074.9V1079.1M1018.5,1074.9V1079.1M1019.5,1074.9V1079.1M1020.5,1074.9V1081.7M1021.5,1074.9V1079.1M1022.5,1074.9V1079.1M1023.5,1074.9V1079.1M1024.5,1074.9V1079.1M1025.5,1074.9V1079.1M1026.5,1074.9V1079.1M1027.5,1072.2V1079.1M1028.5,1074.9V1079.1M1029.5,1074.9V1079.1M1030.5,1074.9V1079.1M1031.5,1074.9V1079.1M1032.5,1074.9V1079.1M1033.5,1074.9V1079.1M1034.5,1074.9V1079.1M1035.5,1074.9V1079.1M1036.5,1074.9V1079.1M1037.5,1074.9V1079.1M1038.5,1074.9V1079.1M1039.5,1074.9V1079.1M1040.5,1074.9V1079.1M1041.5,1074.9V1079.1M1042.5,1074.9V1079.1M1043.5,1074.9V1079.1M1044.5,1074.9V1079.1M1045.5,1074.9V1079.1M1046.5,1074.9V1079.1M1047.5,1074.9V1079.1M1048.5,1074.9V1079.1M1049.5,1074.9V1079.1M1050.5,1074.9V1079.1M1051.5,1074.9V1079.1M1052.5,1074.9V1079.1M1053.5,1074.9V1079.1M1054.5,1074.9V1079.1M1055.5,1074.9V1079.1M1056.5,1074.9V1079.1M1057.5,1074.9V1079.1M1058.5,1074.9V1076.5M1059.5,1074.9V1076.5M1060.5,1074.9V1076.5M1061.5,1074.9V1079.1M1062.5,1074.9V1079.1M1063.5,1074.9V1079.1M1064.5,1074.9V1079.1M1065.5,1074.9V1079.1M1066.5,1074.9V1079.1M1067.5,1072.2V1079.1M1068.5,1074.9V1079.1M1069.5,1074.9V1079.1M1070.5,1074.9V1079.1M1071.5,1074.9V1079.1M1072.5,1074.9V1079.1M1073.5,1074.9V1079.1M1074.5,1074.9V1079.1M1075.5,1074.9V1079.1M1076.5,1074.9V1079.1M1077.5,1074.9V1079.1M1078.5,1074.9V1079.1M1079.5,1074.9V1079.1M1080.5,1074.9V1079.1M1081.5,1074.9V1079.1M1082.5,1074.9V1079.1M1083.5,1074.9V1079.1M1084.5,1074.9V1079.1M1085.5,1074.9V1076.5M1086.5,1074.9V1076.5M1087.5,1074.9V1076.5M1088.5,1074.9V1076.5M1089.5,1074.9V1079.1M1090.5,1074.9V1079.1M1091.5,1074.9V1079.1M1092.5,1074.9V1079.1M1093.5,1074.9V1079.1M1094.5,1074.9V1079.1M1095.5,1074.9V1079.1M1096.5,1074.9V1079.1M1097.5,1077.5V1079.1M1098.5,1077.5V1081.7M1099.5,1074.9V1079.1M1100.5,1074.9V1079.1M1101.5,1074.9V1079.1M1102.5,1074.9V1079.1M1103.5,1074.9V1079.1M1104.5,1074.9V1079.1M1105.5,1074.9V1079.1M1106.5,1074.9V1079.1M1107.5,1074.9V1079.1M1108.5,1074.9V1079.1M1109.5,1074.9V1079.1M1110.5,1074.9V1079.1M1111.5,1074.9V1079.1M1112.5,1074.9V1079.1M1113.5,1074.9V1076.5M1114.5,1074.9V1076.5M1115.5,1074.9V1079.1M1116.5,1074.9V1079.1M1117.5,1074.9V1079.1M1118.5,1074.9V1079.1M1119.5,1074.9V1079.1M1120.5,1074.9V1079.1M1121.5,1074.9V1079.1M1122.5,1074.9V1079.1M1123.5,1074.9V1079.1M1124.5,1074.9V1079.1M1125.5,1074.9V1079.1M1126.5,1074.9V1076.5M1127.5,1074.9V1076.5M1128.5,1074.9V1076.5M1129.5,1077.5V1079.1M1130.5,1074.9V1079.1M1131.5,1077.5V1079.1M1132.5,1077.5V1079.1M1133.5,1077.5V1079.1M1134.5,1077.5V1079.1M1135.5,1077.5V1079.1M1136.5,1077.5V1079.1M1137.5,1074.9V1079.1M1138.5,1077.5V1079.1M1139.5,1077.5V1079.1M1140.5,1077.5V1079.1M1141.5,1077.5V1079.1M1142.5,1074.9V1079.1M1143.5,1074.9V1079.1M1144.5,1074.9V1079.1M1145.5,1074.9V1079.1M1146.5,1074.9V1079.1M1147.5,1074.9V1079.1M1148.5,1074.9V1079.1M1149.5,1074.9V1079.1M1150.5,1077.5V1079.1M1151.5,1077.5V1079.1M1152.5,1077.5V1079.1M1153.5,1077.5V1079.1" stroke="#0000ff" stroke-width="1.05" fill="none"/>
<path d="M165.5,1172.2V1176.0M166.5,1172.2V1176.0M167.5,1172.2V1176.0M168.5,1172.2V1176.0M169.5,1172.2V1176.0M170.5,1172.2V1176.0M171.5,1172.2V1178.6M172.5,1172.2V1176.0M173.5,1172.2V1173.3M174.5,1172.2V1173.3M175.5,1172.2V1173.3M176.5,1172.2V1176.0M177.5,1172.2V1176.0M178.5,1169.6V1176.0M179.5,1172.2V1176.0M180.5,1172.2V1176.0M181.5,1172.2V1176.0M182.5,1172.2V1176.0M183.5,1172.2V1176.0M184.5,1174.9V1176.0M185.5,1174.9V1176.0M186.5,1174.9V1176.0M187.5,1174.9V1176.0M188.5,1172.2V1173.3M189.5,1172.2V1173.3M190.5,1172.2V1173.3M191.5,1172.2V1173.3M192.5,1172.2V1176.0M193.5,1172.2V1176.0M194.5,1172.2V1176.0M195.5,1172.2V1178.6M196.5,1169.6V1173.3M197.5,1169.6V1173.3M198.5,1172.2V1173.3M199.5,1172.2V1173.3M200.5,1172.2V1173.3M201.5,1172.2V1173.3M202.5,1172.2V1173.3M203.5,1172.2V1173.3M204.5,1169.6V1173.3M205.5,1169.6V1173.3M206.5,1169.6V1173.3M207.5,1169.6V1173.3M208.5,1169.6V1173.3M209.5,1167.0V1173.3M210.5,1169.6V1173.3M211.5,1169.6V1173.3M212.5,1169.6V1173.3M213.5,1169.6V1173.3M214.5,1169.6V1173.3M215.5,1169.6V1173.3M216.5,1169.6V1173.3M217.5,1169.6V1173.3M218.5,1169.6V1173.3M219.5,1169.6V1173.3M220.5,1169.6V1173.3M221.5,1169.6V1173.3M222.5,1169.6V1173.3M223.5,1169.6V1173.3M224.5,1169.6V1173.3M225.5,1169.6V1173.3M226.5,1169.6V1173.3M227.5,1169.6V1173.3M228.5,1169.6V1173.3M229.5,1169.6V1173.3M230.5,1169.6V1173.3M231.5,1169.6V1173.3M232.5,1169.6V1173.3M233.5,1169.6V1173.3M234.5,1169.6V1176.0M235.5,1169.6V1173.3M236.5,1169.6V1173.3M237.5,1169.6V1173.3M238.5,1169.6V1173.3M239.5,1169.6V1173.3M240.5,1169.6V1173.3M241.5,1169.6V1173.3M242.5,1169.6V1173.3M243.5,1169.6V1173.3M244.5,1169.6V1173.3M245.5,1169.6V1173.3M246.5,1169.6V1173.3M247.5,1169.6V1173.3M248.5,1169.6V1173.3M249.5,1169.6V1173.3M250.5,1169.6V1173.3M251.5,1169.6V1173.3M252.5,1169.6V1173.3M253.5,1169.6V1173.3M254.5,1169.6V1173.3M255.5,1169.6V1173.3M256.5,1169.6V1173.3M257.5,1169.6V1173.3M258.5,1169.6V1173.3M259.5,1169.6V1173.3M260.5,1169.6V1173.3M261.5,1169.6V1173.3M262.5,1169.6V1173.3M263.5,1169.6V1173.3M264.5,1169.6V1170.7M265.5,1169.6V1170.7M266.5,1169.6V1173.3M267.5,1169.6V1173.3M268.5,1169.6V1170.7M269.5,1169.6V1173.3M270.5,1169.6V1173.3M271.5,1169.6V1173.3M272.5,1169.6V1173.3M273.5,1169.6V1170.7M274.5,1169.6V1170.7M275.5,1169.6V1170.7M276.5,1169.6V1170.7M277.5,1169.6V1170.7M278.5,1169.6V1170.7M279.5,1169.6V1170.7M280.5,1169.6V1170.7M281.5,1169.6V1170.7M282.5,1169.6V1173.3M283.5,1169.6V1170.7M284.5,1169.6V1170.7M285.5,1169.6V1170.7M286.5,1169.6V1170.7M287.5,1169.6V1170.7M288.5,1169.6V1170.7M289.5,1169.6V1170.7M290.5,1169.6V1170.7M291.5,1167.0V1168.1M292.5,1167.0V1168.1M293.5,1167.0V1168.1M294.5,1169.6V1170.7M295.5,1169.6V1170.7M296.5,1169.6V1170.7M297.5,1169.6V1170.7M298.5,1169.6V1170.7M299.5,1169.6V1170.7M300.5,1169.6V1170.7M301.5,1169.6V1170.7M302.5,1167.0V1170.7M303.5,1164.3V1170.7M304.5,1167.0V1170.7M305.5,1167.0V1170.7M306.5,1169.6V1170.7M307.5,1169.6V1170.7M308.5,1169.6V1170.7M309.5,1169.6V1170.7M310.5,1169.6V1170.7M311.5,1167.0V1170.7M312.5,1167.0V1170.7M313.5,1167.0V1170.7M314.5,1167.0V1170.7M315.5,1169.6V1170.7M316.5,1169.6V1170.7M317.5,1169.6V1170.7M318.5,1167.0V1170.7M319.5,1167.0V1170.7M320.5,1167.0V1170.7M321.5,1167.0V1170.7M322.5,1167.0V1170.7M323.5,1167.0V1170.7M324.5,1167.0V1170.7M325.5,1167.0V1170.7M326.5,1167.0V1170.7M327.5,1167.0V1170.7M328.5,1167.0V1168.1M329.5,1167.0V1168.1M330.5,1167.0V1170.7M331.5,1169.6V1170.7M332.5,1167.0V1170.7M333.5,1167.0V1170.7M334.5,1169.6V1170.7M335.5,1167.0V1170.7M336.5,1167.0V1170.7M337.5,1167.0V1170.7M338.5,1167.0V1170.7M339.5,1167.0V1168.1M340.5,1167.0V1168.1M341.5,1167.0V1170.7M342.5,1167.0V1170.7M343.5,1167.0V1170.7M344.5,1167.0V1170.7M345.5,1167.0V1170.7M346.5,1167.0V1170.7M347.5,1167.0V1170.7M348.5,1167.0V1170.7M349.5,1167.0V1170.7M350.5,1164.3V1170.7M351.5,1167.0V1170.7M352.5,1167.0V1170.7M353.5,1167.0V1170.7M354.5,1167.0V1170.7M355.5,1167.0V1170.7M356.5,1167.0V1170.7M357.5,1167.0V1170.7M358.5,1167.0V1170.7M359.5,1167.0V1170.7M360.5,1167.0V1170.7M361.5,1167.0V1170.7M362.5,1167.0V1168.1M363.5,1167.0V1168.1M364.5,1167.0V1170.7M365.5,1167.0V1170.7M366.5,1167.0V1170.7M367.5,1167.0V1170.7M368.5,1167.0V1170.7M369.5,1167.0V1170.7M370.5,1167.0V1170.7M371.5,1167.0V1170.7M372.5,1167.0V1170.7M373.5,1167.0V1170.7M374.5,1167.0V1170.7M375.5,1167.0V1170.7M376.5,1167.0V1170.7M377.5,1167.0V1170.7M378.5,1167.0V1170.7M379.5,1167.0V1170.7M380.5,1167.0V1173.3M381.5,1167.0V1170.7M382.5,1164.3V1170.7M383.5,1167.0V1170.7M384.5,1167.0V1170.7M385.5,1167.0V1170.7M386.5,1167.0V1170.7M387.5,1167.0V1170.7M388.5,1167.0V1170.7M389.5,1167.0V1170.7M390.5,1167.0V1170.7M391.5,1167.0V1170.7M392.5,1167.0V1170.7M393.5,1167.0V1170.7M394.5,1167.0V1170.7M395.5,1167.0V1170.7M396.5,1167.0V1170.7M397.5,1167.0V1170.7M398.5,1167.0V1170.7M399.5,1169.6V1170.7M400.5,1169.6V1170.7M401.5,1169.6V1170.7M402.5,1167.0V1170.7M403.5,1167.0V1170.7M404.5,1167.0V1170.7M405.5,1167.0V1170.7M406.5,1167.0V1170.7M407.5,1167.0V1170.7M408.5,1167.0V1170.7M409.5,1167.0V1173.3M410.5,1167.0V1168.1M411.5,1167.0V1168.1M412.5,1167.0V1168.1M413.5,1167.0V1168.1M414.5,1167.0V1168.1M415.5,1167.0V1168.1M416.5,1167.0V1168.1M417.5,1167.0V1170.7M418.5,1167.0V1170.7M419.5,1167.0V1170.7M420.5,1167.0V1170.7M421.5,1167.0V1170.7M422.5,1167.0V1170.7M423.5,1167.0V1170.7M424.5,1167.0V1170.7M425.5,1167.0V1170.7M426.5,1167.0V1168.1M427.5,1167.0V1168.1M428.5,1167.0V1168.1M429.5,1167.0V1168.1M430.5,1167.0V1168.1M431.5,1167.0V1168.1M432.5,1167.0V1168.1M433.5,1167.0V1168.1M434.5,1167.0V1168.1M435.5,1164.3V1165.4M436.5,1167.0V1168.1M437.5,1167.0V1168.1M438.5,1167.0V1168.1M439.5,1167.0V1168.1M440.5,1164.3V1168.1M441.5,1167.0V1168.1M442.5,1167.0V1168.1M443.5,1167.0V1168.1M444.5,1167.0V1168.1M445.5,1167.0V1170.7M446.5,1167.0V1168.1M447.5,1167.0V1168.1M448.5,1167.0V1168.1M449.5,1167.0V1170.7M450.5,1167.0V1168.1M451.5,1167.0V1168.1M452.5,1167.0V1168.1M453.5,1164.3V1168.1M454.5,1164.3V1168.1M455.5,1164.3V1168.1M456.5,1164.3V1168.1M457.5,1164.3V1168.1M458.5,1164.3V1168.1M459.5,1164.3V1168.1M460.5,1164.3V1165.4M461.5,1164.3V1165.4M462.5,1164.3V1165.4M463.5,1164.3V1168.1M464.5,1164.3V1168.1M465.5,1164.3V1168.1M466.5,1164.3V1168.1M467.5,1164.3V1168.1M468.5,1164.3V1168.1M469.5,1164.3V1168.1M470.5,1164.3V1168.1M471.5,1164.3V1168.1M472.5,1167.0V1168.1M473.5,1164.3V1168.1M474.5,1164.3V1168.1M475.5,1164.3V1168.1M476.5,1164.3V1168.1M477.5,1164.3V1168.1M478.5,1164.3V1168.1M479.5,1164.3V1168.1M480.5,1167.0V1168.1M481.5,1167.0V1168.1M482.5,1167.0V1168.1M483.5,1167.0V1168.1M484.5,1164.3V1165.4M485.5,1164.3V1168.1M486.5,1164.3V1168.1M487.5,1164.3V1168.1M488.5,1164.3V1168.1M489.5,1164.3V1168.1M490.5,1164.3V1168.1M491.5,1164.3V1168.1M492.5,1164.3V1168.1M493.5,1164.3V1168.1M494.5,1164.3V1168.1M495.5,1164.3V1168.1M496.5,1164.3V1168.1M497.5,1161.7V1168.1M498.5,1164.3V1168.1M499.5,1164.3V1168.1M500.5,1164.3V1168.1M501.5,1164.3V1168.1M502.5,1164.3V1168.1M503.5,1164.3V1168.1M504.5,1164.3V1168.1M505.5,1167.0V1168.1M506.5,1167.0V1168.1M507.5,1167.0V1168.1M508.5,1167.0V1168.1M509.5,1164.3V1168.1M510.5,1164.3V1168.1M511.5,1164.3V1168.1M512.5,1164.3V1168.1M513.5,1164.3V1168.1M514.5,1164.3V1168.1M515.5,1164.3V1168.1M516.5,1164.3V1168.1M517.5,1164.3V1168.1M518.5,1164.3V1168.1M519.5,1164.3V1168.1M520.5,1164.3V1168.1M521.5,1164.3V1168.1M522.5,1164.3V1170.7M523.5,1164.3V1168.1M524.5,1164.3V1168.1M525.5,1164.3V1168.1M526.5,1164.3V1165.4M527.5,1164.3V1165.4M528.5,1164.3V1168.1M529.5,1164.3V1168.1M530.5,1167.0V1168.1M531.5,1167.0V1168.1M532.5,1167.0V1168.1M533.5,1167.0V1168.1M534.5,1164.3V1168.1M535.5,1164.3V1168.1M536.5,1164.3V1168.1M537.5,1164.3V1168.1M538.5,1164.3V1170.7M539.5,1164.3V1168.1M540.5,1164.3V1168.1M541.5,1167.0V1168.1M542.5,1167.0V1168.1M543.5,1167.0V1168.1M544.5,1167.0V1168.1M545.5,1164.3V1168.1M546.5,1164.3V1168.1M547.5,1164.3V1168.1M548.5,1164.3V1168.1M549.5,1164.3V1165.4M550.5,1164.3V1165.4M551.5,1164.3V1165.4M552.5,1164.3V1168.1M553.5,1164.3V1168.1M554.5,1164.3V1165.4M555.5,1167.0V1168.1M556.5,1167.0V1168.1M557.5,1167.0V1168.1M558.5,1167.0V1168.1M559.5,1164.3V1168.1M560.5,1164.3V1170.7M561.5,1164.3V1168.1M562.5,1164.3V1168.1M563.5,1164.3V1168.1M564.5,1164.3V1168.1M565.5,1161.7V1168.1M566.5,1164.3V1168.1M567.5,1164.3V1165.4M568.5,1164.3V1165.4M569.5,1164.3V1168.1M570.5,1164.3V1168.1M571.5,1164.3V1165.4M572.5,1164.3V1165.4M573.5,1164.3V1168.1M574.5,1164.3V1168.1M575.5,1164.3V1168.1M576.5,1164.3V1168.1M577.5,1164.3V1168.1M578.5,1164.3V1168.1M579.5,1164.3V1165.4M580.5,1164.3V1165.4M581.5,1164.3V1165.4M582.5,1164.3V1165.4M583.5,1164.3V1165.4M584.5,1164.3V1165.4M585.5,1164.3V1165.4M586.5,1164.3V1165.4M587.5,1164.3V1165.4M588.5,1164.3V1165.4M589.5,1164.3V1168.1M590.5,1164.3V1165.4M591.5,1164.3V1165.4M592.5,1164.3V1165.4M593.5,1164.3V1165.4M594.5,1164.3V1165.4M595.5,1164.3V1165.4M596.5,1164.3V1168.1M597.5,1164.3V1165.4M598.5,1164.3V1165.4M599.5,1164.3V1165.4M600.5,1164.3V1165.4M601.5,1164.3V1165.4M602.5,1164.3V1165.4M603.5,1161.7V1165.4M604.5,1161.7V1165.4M605.5,1164.3V1165.4M606.5,1164.3V1165.4M607.5,1164.3V1165.4M608.5,1164.3V1165.4M609.5,1164.3V1165.4M610.5,1161.7V1165.4M611.5,1161.7V1165.4M612.5,1161.7V1162.8M613.5,1161.7V1162.8M614.5,1161.7V1162.8M615.5,1161.7V1165.4M616.5,1161.7V1165.4M617.5,1164.3V1165.4M618.5,1164.3V1165.4M619.5,1164.3V1165.4M620.5,1161.7V1165.4M621.5,1164.3V1165.4M622.5,1164.3V1165.4M623.5,1161.7V1165.4M624.5,1161.7V1165.4M625.5,1161.7V1165.4M626.5,1161.7V1165.4M627.5,1164.3V1168.1M628.5,1164.3V1165.4M629.5,1164.3V1165.4M630.5,1164.3V1165.4M631.5,1161.7V1165.4M632.5,1161.7V1165.4M633.5,1161.7V1165.4M634.5,1161.7V1165.4M635.5,1161.7V1165.4M636.5,1161.7V1165.4M637.5,1161.7V1165.4M638.5,1161.7V1165.4M639.5,1161.7V1165.4M640.5,1164.3V1165.4M641.5,1161.7V1165.4M642.5,1164.3V1165.4M643.5,1161.7V1165.4M644.5,1161.7V1165.4M645.5,1161.7V1165.4M646.5,1161.7V1165.4M647.5,1161.7V1165.4M648.5,1161.7V1165.4M649.5,1161.7V1165.4M650.5,1161.7V1165.4M651.5,1161.7V1165.4M652.5,1161.7V1165.4M653.5,1161.7V1165.4M654.5,1161.7V1165.4M655.5,1161.7V1165.4M656.5,1161.7V1165.4M657.5,1161.7V1165.4M658.5,1161.7V1165.4M659.5,1161.7V1165.4M660.5,1161.7V1165.4M661.5,1161.7V1165.4M662.5,1161.7V1165.4M663.5,1161.7V1165.4M664.5,1161.7V1165.4M665.5,1161.7V1165.4M666.5,1161.7V1168.1M667.5,1161.7V1165.4M668.5,1161.7V1165.4M669.5,1161.7V1165.4M670.5,1161.7V1165.4M671.5,1161.7V1165.4M672.5,1161.7V1165.4M673.5,1161.7V1168.1M674.5,1161.7V1165.4M675.5,1161.7V1165.4M676.5,1161.7V1165.4M677.5,1161.7V1165.4M678.5,1161.7V1165.4M679.5,1161.7V1165.4M680.5,1161.7V1165.4M681.5,1161.7V1165.4M682.5,1161.7V1165.4M683.5,1161.7V1165.4M684.5,1161.7V1165.4M685.5,1161.7V1165.4M686.5,1161.7V1165.4M687.5,1161.7V1165.4M688.5,1161.7V1165.4M689.5,1161.7V1165.4M690.5,1161.7V1165.4M691.5,1161.7V1165.4M692.5,1164.3V1165.4M693.5,1164.3V1165.4M694.5,1161.7V1165.4M695.5,1161.7V1165.4M696.5,1161.7V1165.4M697.5,1161.7V1165.4M698.5,1161.7V1165.4M699.5,1164.3V1165.4M700.5,1161.7V1165.4M701.5,1161.7V1165.4M702.5,1161.7V1165.4M703.5,1161.7V1165.4M704.5,1161.7V1165.4M705.5,1161.7V1165.4M706.5,1161.7V1165.4M707.5,1161.7V1165.4M708.5,1161.7V1165.4M709.5,1159.1V1165.4M710.5,1161.7V1162.8M711.5,1161.7V1162.8M712.5,1161.7V1162.8M713.5,1161.7V1162.8M714.5,1161.7V1162.8M715.5,1161.7V1162.8M716.5,1161.7V1162.8M717.5,1161.7V1162.8M718.5,1161.7V1165.4M719.5,1161.7V1165.4M720.5,1161.7V1165.4M721.5,1161.7V1165.4M722.5,1161.7V1165.4M723.5,1161.7V1162.8M724.5,1161.7V1162.8M725.5,1161.7V1162.8M726.5,1161.7V1162.8M727.5,1161.7V1162.8M728.5,1161.7V1162.8M729.5,1161.7V1162.8M730.5,1161.7V1162.8M731.5,1161.7V1162.8M732.5,1161.7V1162.8M733.5,1161.7V1162.8M734.5,1161.7V1162.8M735.5,1161.7V1162.8M736.5,1161.7V1162.8M737.5,1159.1V1162.8M738.5,1161.7V1162.8M739.5,1161.7V1162.8M740.5,1161.7V1162.8M741.5,1161.7V1162.8M742.5,1159.1V1162.8M743.5,1159.1V1162.8M744.5,1159.1V1160.2M745.5,1159.1V1160.2M746.5,1156.4V1162.8M747.5,1159.1V1162.8M748.5,1159.1V1162.8M749.5,1159.1V1162.8M750.5,1159.1V1162.8M751.5,1159.1V1165.4M752.5,1159.1V1162.8M753.5,1159.1V1162.8M754.5,1161.7V1162.8M755.5,1161.7V1162.8M756.5,1161.7V1162.8M757.5,1161.7V1162.8M758.5,1159.1V1162.8M759.5,1159.1V1162.8M760.5,1159.1V1162.8M761.5,1159.1V1162.8M762.5,1159.1V1162.8M763.5,1159.1V1162.8M764.5,1159.1V1162.8M765.5,1159.1V1165.4M766.5,1159.1V1162.8M767.5,1159.1V1162.8M768.5,1159.1V1162.8M769.5,1159.1V1162.8M770.5,1159.1V1162.8M771.5,1159.1V1162.8M772.5,1159.1V1162.8M773.5,1159.1V1162.8M774.5,1159.1V1162.8M775.5,1159.1V1165.4M776.5,1159.1V1162.8M777.5,1159.1V1162.8M778.5,1159.1V1162.8M779.5,1159.1V1162.8M780.5,1159.1V1160.2M781.5,1159.1V1160.2M782.5,1159.1V1160.2M783.5,1159.1V1160.2M784.5,1159.1V1162.8M785.5,1159.1V1162.8M786.5,1159.1V1162.8M787.5,1159.1V1162.8M788.5,1159.1V1162.8M789.5,1159.1V1162.8M790.5,1159.1V1162.8M791.5,1159.1V1162.8M792.5,1159.1V1162.8M793.5,1159.1V1162.8M794.5,1159.1V1162.8M795.5,1159.1V1162.8M796.5,1159.1V1162.8M797.5,1161.7V1162.8M798.5,1161.7V1162.8M799.5,1161.7V1162.8M800.5,1159.1V1162.8M801.5,1159.1V1162.8M802.5,1161.7V1165.4M803.5,1161.7V1162.8M804.5,1161.7V1162.8M805.5,1159.1V1162.8M806.5,1159.1V1162.8M807.5,1159.1V1162.8M808.5,1159.1V1162.8M809.5,1159.1V1162.8M810.5,1156.4V1162.8M811.5,1159.1V1160.2M812.5,1159.1V1160.2M813.5,1159.1V1160.2M814.5,1159.1V1162.8M815.5,1159.1V1162.8M816.5,1159.1V1162.8M817.5,1159.1V1162.8M818.5,1159.1V1160.2M819.5,1159.1V1160.2M820.5,1159.1V1160.2M821.5,1159.1V1160.2M822.5,1159.1V1162.8M823.5,1159.1V1162.8M824.5,1159.1V1162.8M825.5,1159.1V1160.2M826.5,1159.1V1160.2M827.5,1159.1V1160.2M828.5,1159.1V1160.2M829.5,1159.1V1162.8M830.5,1159.1V1162.8M831.5,1159.1V1162.8M832.5,1159.1V1162.8M833.5,1159.1V1160.2M834.5,1159.1V1160.2M835.5,1159.1V1160.2M836.5,1159.1V1160.2M837.5,1159.1V1160.2M838.5,1156.5V1157.5M839.5,1156.5V1160.2M840.5,1156.5V1157.5M841.5,1156.5V1160.2M842.5,1156.5V1160.2M843.5,1156.5V1160.2M844.5,1159.1V1160.2M845.5,1159.1V1160.2M846.5,1159.1V1162.8M847.5,1159.1V1160.2M848.5,1156.5V1160.2M849.5,1156.5V1160.2M850.5,1159.1V1160.2M851.5,1159.1V1160.2M852.5,1159.1V1160.2M853.5,1159.1V1160.2M854.5,1159.1V1160.2M855.5,1159.1V1160.2M856.5,1159.1V1160.2M857.5,1159.1V1160.2M858.5,1156.5V1160.2M859.5,1159.1V1160.2M860.5,1159.1V1160.2M861.5,1159.1V1160.2M862.5,1159.1V1160.2M863.5,1159.1V1160.2M864.5,1159.1V1160.2M865.5,1159.1V1160.2M866.5,1156.5V1162.8M867.5,1156.5V1160.2M868.5,1159.1V1160.2M869.5,1159.1V1160.2M870.5,1156.5V1160.2M871.5,1156.5V1160.2M872.5,1159.1V1160.2M873.5,1159.1V1160.2M874.5,1159.1V1160.2M875.5,1159.1V1160.2M876.5,1159.1V1160.2M877.5,1159.1V1160.2M878.5,1156.5V1157.5M879.5,1156.5V1157.5M880.5,1156.5V1160.2M881.5,1156.5V1160.2M882.5,1156.5V1160.2M883.5,1156.5V1160.2M884.5,1156.5V1160.2M885.5,1156.5V1160.2M886.5,1156.5V1160.2M887.5,1156.5V1160.2M888.5,1156.5V1160.2M889.5,1156.5V1160.2M890.5,1156.5V1160.2M891.5,1156.5V1160.2M892.5,1156.5V1160.2M893.5,1156.5V1160.2M894.5,1156.5V1160.2M895.5,1156.5V1160.2M896.5,1156.5V1160.2M897.5,1156.5V1160.2M898.5,1156.5V1160.2M899.5,1156.5V1160.2M900.5,1156.5V1160.2M901.5,1156.5V1160.2M902.5,1156.5V1160.2M903.5,1156.5V1160.2M904.5,1156.5V1160.2M905.5,1156.5V1160.2M906.5,1156.5V1160.2M907.5,1156.5V1160.2M908.5,1156.5V1160.2M909.5,1156.5V1160.2M910.5,1156.5V1160.2M911.5,1156.5V1160.2M912.5,1156.5V1160.2M913.5,1159.1V1160.2M914.5,1159.1V1160.2M915.5,1159.1V1160.2M916.5,1159.1V1160.2M917.5,1156.5V1162.8M918.5,1156.5V1160.2M919.5,1156.5V1160.2M920.5,1156.5V1160.2M921.5,1156.5V1160.2M922.5,1156.5V1160.2M923.5,1156.5V1160.2M924.5,1156.5V1160.2M925.5,1156.5V1160.2M926.5,1156.5V1160.2M927.5,1156.5V1160.2M928.5,1156.5V1160.2M929.5,1156.5V1160.2M930.5,1156.5V1160.2M931.5,1156.5V1160.2M932.5,1156.5V1160.2M933.5,1156.5V1160.2M934.5,1156.5V1160.2M935.5,1156.5V1160.2M936.5,1156.5V1160.2M937.5,1156.5V1157.5M938.5,1156.5V1160.2M939.5,1156.5V1160.2M940.5,1156.5V1160.2M941.5,1156.5V1160.2M942.5,1156.5V1160.2M943.5,1156.5V1160.2M944.5,1159.1V1160.2M945.5,1159.1V1160.2M946.5,1159.1V1160.2M947.5,1159.1V1160.2M948.5,1156.5V1160.2M949.5,1156.5V1160.2M950.5,1156.5V1157.5M951.5,1156.5V1157.5M952.5,1156.5V1157.5M953.5,1156.5V1160.2M954.5,1156.5V1160.2M955.5,1156.5V1157.5M956.5,1156.5V1160.2M957.5,1156.5V1160.2M958.5,1156.5V1160.2M959.5,1156.5V1160.2M960.5,1156.5V1160.2M961.5,1156.5V1160.2M962.5,1156.5V1162.8M963.5,1156.5V1160.2M964.5,1156.5V1160.2M965.5,1156.5V1160.2M966.5,1156.5V1160.2M967.5,1156.5V1157.5M968.5,1156.5V1157.5M969.5,1156.5V1157.5M970.5,1156.5V1157.5M971.5,1156.5V1157.5M972.5,1156.5V1157.5M973.5,1156.5V1157.5M974.5,1156.5V1157.5M975.5,1156.5V1160.2M976.5,1153.8V1154.9M977.5,1153.8V1154.9M978.5,1153.8V1154.9M979.5,1156.5V1157.5M980.5,1156.5V1157.5M981.5,1156.5V1157.5M982.5,1156.5V1157.5M983.5,1156.5V1157.5M984.5,1156.5V1157.5M985.5,1156.5V1157.5M986.5,1156.5V1157.5M987.5,1156.5V1157.5M988.5,1156.5V1157.5M989.5,1153.8V1157.5M990.5,1153.8V1157.5M991.5,1153.8V1157.5M992.5,1156.5V1157.5M993.5,1156.5V1157.5M994.5,1156.5V1157.5M995.5,1156.5V1157.5M996.5,1156.5V1157.5M997.5,1156.5V1157.5M998.5,1153.8V1157.5M999.5,1153.8V1157.5M1000.5,1153.8V1157.5M1001.5,1153.8V1157.5M1002.5,1153.8V1157.5M1003.5,1153.8V1157.5M1004.5,1153.8V1157.5M1005.5,1156.5V1157.5M1006.5,1156.5V1157.5M1007.5,1156.5V1157.5M1008.5,1156.5V1160.2M1009.5,1153.8V1157.5M1010.5,1153.8V1157.5M1011.5,1153.8V1157.5M1012.5,1153.8V1157.5M1013.5,1153.8V1157.5M1014.5,1153.8V1157.5M1015.5,1153.8V1157.5M1016.5,1153.8V1157.5M1017.5,1153.8V1157.5M1018.5,1153.8V1157.5M1019.5,1153.8V1157.5M1020.5,1153.8V1157.5M1021.5,1153.8V1157.5M1022.5,1153.8V1157.5M1023.5,1153.8V1157.5M1024.5,1153.8V1157.5M1025.5,1153.8V1157.5M1026.5,1153.8V1157.5M1027.5,1153.8V1157.5M1028.5,1153.8V1157.5M1029.5,1153.8V1157.5M1030.5,1153.8V1157.5M1031.5,1153.8V1157.5M1032.5,1153.8V1157.5M1033.5,1153.8V1157.5M1034.5,1153.8V1157.5M1035.5,1153.8V1157.5M1036.5,1153.8V1157.5M1037.5,1153.8V1157.5M1038.5,1153.8V1157.5M1039.5,1153.8V1157.5M1040.5,1153.8V1157.5M1041.5,1153.8V1157.5M1042.5,1153.8V1157.5M1043.5,1153.8V1157.5M1044.5,1153.8V1157.5M1045.5,1153.8V1157.5M1046.5,1153.8V1157.5M1047.5,1153.8V1157.5M1048.5,1153.8V1157.5M1049.5,1153.8V1157.5M1050.5,1153.8V1157.5M1051.5,1153.8V1157.5M1052.5,1153.8V1157.5M1053.5,1153.8V1157.5M1054.5,1153.8V1157.5M1055.5,1153.8V1157.5M1056.5,1153.8V1154.9M1057.5,1153.8V1154.9M1058.5,1151.2V1154.9M1059.5,1156.5V1157.5M1060.5,1153.8V1154.9M1061.5,1153.8V1154.9M1062.5,1153.8V1154.9M1063.5,1153.8V1154.9M1064.5,1153.8V1154.9M1065.5,1151.2V1152.3M1066.5,1151.2V1154.9M1067.5,1151.2V1154.9M1068.5,1153.8V1154.9M1069.5,1153.8V1154.9M1070.5,1153.8V1154.9M1071.5,1153.8V1154.9M1072.5,1153.8V1154.9M1073.5,1153.8V1154.9M1074.5,1153.8V1154.9M1075.5,1151.2V1154.9M1076.5,1151.2V1154.9M1077.5,1153.8V1154.9M1078.5,1151.2V1154.9M1079.5,1151.2V1154.9M1080.5,1151.2V1154.9M1081.5,1151.2V1154.9M1082.5,1151.2V1154.9M1083.5,1151.2V1154.9M1084.5,1151.2V1154.9M1085.5,1151.2V1154.9M1086.5,1148.6V1154.9M1087.5,1151.2V1154.9M1088.5,1151.2V1154.9M1089.5,1151.2V1154.9M1090.5,1151.2V1154.9M1091.5,1151.2V1154.9M1092.5,1151.2V1154.9M1093.5,1151.2V1154.9M1094.5,1151.2V1154.9M1095.5,1153.8V1154.9M1096.5,1153.8V1154.9M1097.5,1153.8V1154.9M1098.5,1153.8V1154.9M1099.5,1153.8V1154.9M1100.5,1153.8V1154.9M1101.5,1153.8V1154.9M1102.5,1151.2V1154.9M1103.5,1151.2V1154.9M1104.5,1151.2V1154.9M1105.5,1153.8V1154.9M1106.5,1151.2V1154.9M1107.5,1153.8V1154.9M1108.5,1153.8V1154.9M1109.5,1151.2V1154.9M1110.5,1151.2V1154.9M1111.5,1151.2V1154.9M1112.5,1151.2V1154.9M1113.5,1151.2V1152.3M1114.5,1151.2V1152.3M1115.5,1151.2V1154.9M1116.5,1151.2V1154.9M1117.5,1151.2V1154.9M1118.5,1151.2V1154.9M1119.5,1151.2V1154.9M1120.5,1151.2V1154.9M1121.5,1151.2V1154.9M1122.5,1151.2V1154.9M1123.5,1151.2V1154.9M1124.5,1151.2V1152.3M1125.5,1151.2V1152.3M1126.5,1151.2V1154.9M1127.5,1148.6V1152.3M1128.5,1148.6V1152.3M1129.5,1148.6V1152.3M1130.5,1148.6V1152.3M1131.5,1151.2V1152.3M1132.5,1151.2V1152.3M1133.5,1151.2V1152.3M1134.5,1151.2V1152.3M1135.5,1148.6V1152.3M1136.5,1148.6V1152.3M1137.5,1148.6V1152.3M1138.5,1151.2V1152.3M1139.5,1151.2V1152.3M1140.5,1148.6V1152.3M1141.5,1148.6V1152.3M1142.5,1148.6V1152.3M1143.5,1148.6V1152.3M1144.5,1148.6V1152.3M1145.5,1148.6V1152.3M1146.5,1145.9V1152.3M1147.5,1148.6V1152.3M1148.5,1148.6V1152.3M1149.5,1148.6V1152.3M1150.5,1148.6V1152.3M1151.5,1148.6V1152.3M1152.5,1148.6V1152.3M1153.5,1148.6V1152.3" stroke="#00ffff" stroke-width="1.05" fill="none"/>
<path d="M165.5,1132.7V1139.6M166.5,1132.7V1137.0M167.5,1132.7V1137.0M168.5,1132.7V1137.0M169.5,1132.7V1134.3M170.5,1132.7V1134.3M171.5,1132.7V1134.3M172.5,1132.7V1134.3M173.5,1130.1V1134.3M174.5,1130.1V1134.3M175.5,1127.5V1134.3M176.5,1130.1V1131.7M177.5,1130.1V1131.7M178.5,1127.5V1131.7M179.5,1127.5V1131.7M180.5,1127.5V1131.7M181.5,1127.5V1131.7M182.5,1127.5V1131.7M183.5,1127.5V1131.7M184.5,1124.8V1129.1M185.5,1124.8V1129.1M186.5,1124.8V1131.7M187.5,1124.8V1129.1M188.5,1124.8V1129.1M189.5,1124.8V1129.1M190.5,1124.8V1129.1M191.5,1124.8V1129.1M192.5,1124.8V1129.1M193.5,1122.2V1123.8M194.5,1122.2V1123.8M195.5,1122.2V1123.8M196.5,1124.8V1126.4M197.5,1124.8V1126.4M198.5,1124.8V1126.4M199.5,1124.8V1126.4M200.5,1122.2V1126.4M201.5,1122.2V1126.4M202.5,1122.2V1126.4M203.5,1119.6V1126.4M204.5,1122.2V1123.8M205.5,1119.6V1121.2M206.5,1119.6V1123.8M207.5,1119.6V1123.8M208.5,1119.6V1123.8M209.5,1122.2V1123.8M210.5,1122.2V1123.8M211.5,1122.2V1123.8M212.5,1119.6V1123.8M213.5,1119.6V1123.8M214.5,1119.6V1123.8M215.5,1119.6V1123.8M216.5,1119.6V1123.8M217.5,1119.6V1123.8M218.5,1119.6V1123.8M219.5,1119.6V1121.2M220.5,1119.6V1121.2M221.5,1117.0V1121.2M222.5,1117.0V1121.2M223.5,1117.0V1121.2M224.5,1117.0V1121.2M225.5,1117.0V1121.2M226.5,1117.0V1121.2M227.5,1117.0V1121.2M228.5,1119.6V1121.2M229.5,1117.0V1121.2M230.5,1117.0V1118.5M231.5,1117.0V1118.5M232.5,1117.0V1118.5M233.5,1117.0V1118.5M234.5,1117.0V1118.5M235.5,1117.0V1118.5M236.5,1114.3V1118.5M237.5,1117.0V1118.5M238.5,1117.0V1118.5M239.5,1114.3V1118.5M240.5,1114.3V1118.5M241.5,1114.3V1121.2M242.5,1114.3V1118.5M243.5,1114.3V1118.5M244.5,1114.3V1118.5M245.5,1114.3V1118.5M246.5,1114.3V1118.5M247.5,1114.3V1118.5M248.5,1114.3V1118.5M249.5,1114.3V1118.5M250.5,1114.3V1118.5M251.5,1114.3V1118.5M252.5,1114.3V1118.5M253.5,1114.3V1118.5M254.5,1111.7V1115.9M255.5,1114.3V1115.9M256.5,1114.3V1115.9M257.5,1114.3V1115.9M258.5,1111.7V1115.9M259.5,1111.7V1115.9M260.5,1109.1V1115.9M261.5,1111.7V1115.9M262.5,1111.7V1115.9M263.5,1111.7V1115.9M264.5,1111.7V1115.9M265.5,1111.7V1115.9M266.5,1111.7V1115.9M267.5,1111.7V1115.9M268.5,1111.7V1115.9M269.5,1111.7V1113.3M270.5,1109.1V1110.7M271.5,1109.1V1110.7M272.5,1109.1V1113.3M273.5,1109.1V1113.3M274.5,1109.1V1113.3M275.5,1109.1V1113.3M276.5,1109.1V1113.3M277.5,1109.1V1113.3M278.5,1109.1V1113.3M279.5,1109.1V1113.3M280.5,1109.1V1113.3M281.5,1109.1V1113.3M282.5,1109.1V1113.3M283.5,1109.1V1110.7M284.5,1109.1V1110.7M285.5,1106.4V1108.0M286.5,1106.4V1108.0M287.5,1106.4V1108.0M288.5,1106.4V1110.7M289.5,1109.1V1110.7M290.5,1109.1V1110.7M291.5,1109.1V1110.7M292.5,1109.1V1110.7M293.5,1106.4V1110.7M294.5,1106.4V1110.7M295.5,1106.4V1110.7M296.5,1106.4V1110.7M297.5,1106.4V1110.7M298.5,1106.4V1110.7M299.5,1106.4V1108.0M300.5,1106.4V1108.0M301.5,1106.4V1108.0M302.5,1103.8V1108.0M303.5,1103.8V1108.0M304.5,1103.8V1108.0M305.5,1103.8V1108.0M306.5,1103.8V1108.0M307.5,1103.8V1108.0M308.5,1103.8V1108.0M309.5,1103.8V1108.0M310.5,1103.8V1108.0M311.5,1103.8V1108.0M312.5,1103.8V1108.0M313.5,1103.8V1108.0M314.5,1103.8V1108.0M315.5,1103.8V1108.0M316.5,1103.8V1108.0M317.5,1103.8V1108.0M318.5,1103.8V1105.4M319.5,1101.2V1102.8M320.5,1101.2V1102.8M321.5,1101.2V1102.8M322.5,1101.2V1105.4M323.5,1101.2V1105.4M324.5,1101.2V1105.4M325.5,1101.2V1105.4M326.5,1101.2V1105.4M327.5,1101.2V1105.4M328.5,1101.2V1105.4M329.5,1101.2V1105.4M330.5,1101.2V1105.4M331.5,1101.2V1105.4M332.5,1101.2V1105.4M333.5,1101.2V1105.4M334.5,1101.2V1105.4M335.5,1101.2V1105.4M336.5,1101.2V1105.4M337.5,1101.2V1102.8M338.5,1101.2V1102.8M339.5,1101.2V1105.4M340.5,1101.2V1102.8M341.5,1101.2V1102.8M342.5,1101.2V1102.8M343.5,1101.2V1102.8M344.5,1101.2V1102.8M345.5,1101.2V1102.8M346.5,1101.2V1102.8M347.5,1101.2V1102.8M348.5,1101.2V1102.8M349.5,1098.5V1102.8M350.5,1098.5V1102.8M351.5,1098.5V1102.8M352.5,1098.5V1102.8M353.5,1098.5V1102.8M354.5,1098.5V1102.8M355.5,1098.5V1102.8M356.5,1098.5V1102.8M357.5,1098.5V1102.8M358.5,1098.5V1102.8M359.5,1098.5V1102.8M360.5,1098.5V1100.1M361.5,1098.5V1100.1M362.5,1098.5V1100.1M363.5,1098.5V1102.8M364.5,1098.5V1102.8M365.5,1095.9V1100.1M366.5,1095.9V1100.1M367.5,1095.9V1100.1M368.5,1095.9V1100.1M369.5,1098.5V1100.1M370.5,1098.5V1100.1M371.5,1098.5V1100.1M372.5,1098.5V1100.1M373.5,1095.9V1100.1M374.5,1095.9V1100.1M375.5,1095.9V1100.1M376.5,1095.9V1100.1M377.5,1095.9V1102.8M378.5,1095.9V1100.1M379.5,1095.9V1100.1M380.5,1095.9V1100.1M381.5,1095.9V1100.1M382.5,1095.9V1100.1M383.5,1095.9V1100.1M384.5,1095.9V1100.1M385.5,1095.9V1100.1M386.5,1095.9V1100.1M387.5,1095.9V1100.1M388.5,1095.9V1100.1M389.5,1098.5V1100.1M390.5,1095.9V1100.1M391.5,1098.5V1100.1M392.5,1095.9V1097.5M393.5,1095.9V1097.5M394.5,1095.9V1097.5M395.5,1095.9V1097.5M396.5,1095.9V1097.5M397.5,1093.3V1094.9M398.5,1095.9V1097.5M399.5,1095.9V1097.5M400.5,1095.9V1097.5M401.5,1095.9V1097.5M402.5,1095.9V1097.5M403.5,1095.9V1097.5M404.5,1095.9V1097.5M405.5,1093.3V1097.5M406.5,1093.3V1097.5M407.5,1093.3V1097.5M408.5,1093.3V1097.5M409.5,1095.9V1097.5M410.5,1095.9V1097.5M411.5,1095.9V1097.5M412.5,1093.3V1097.5M413.5,1093.3V1097.5M414.5,1093.3V1097.5M415.5,1093.3V1097.5M416.5,1093.3V1097.5M417.5,1093.3V1097.5M418.5,1093.3V1097.5M419.5,1093.3V1097.5M420.5,1090.6V1097.5M421.5,1093.3V1097.5M422.5,1093.3V1097.5M423.5,1093.3V1097.5M424.5,1093.3V1097.5M425.5,1093.3V1097.5M426.5,1093.3V1097.5M427.5,1093.3V1097.5M428.5,1093.3V1097.5M429.5,1093.3V1097.5M430.5,1093.3V1097.5M431.5,1093.3V1094.9M432.5,1093.3V1094.9M433.5,1093.3V1094.9M434.5,1090.7V1092.2M435.5,1090.7V1092.2M436.5,1090.7V1092.2M437.5,1090.7V1092.2M438.5,1090.7V1092.2M439.5,1090.7V1092.2M440.5,1090.7V1092.2M441.5,1090.7V1094.9M442.5,1090.7V1094.9M443.5,1090.7V1094.9M444.5,1090.7V1094.9M445.5,1090.7V1094.9M446.5,1093.3V1094.9M447.5,1090.7V1094.9M448.5,1090.7V1094.9M449.5,1090.7V1094.9M450.5,1090.7V1094.9M451.5,1090.7V1092.2M452.5,1090.7V1092.2M453.5,1090.7V1092.2M454.5,1090.7V1092.2M455.5,1090.7V1094.9M456.5,1090.7V1094.9M457.5,1090.7V1094.9M458.5,1090.7V1092.2M459.5,1090.7V1092.2M460.5,1090.7V1092.2M461.5,1088.0V1089.6M462.5,1088.0V1089.6M463.5,1088.0V1089.6M464.5,1088.0V1092.2M465.5,1088.0V1092.2M466.5,1088.0V1092.2M467.5,1090.7V1092.2M468.5,1088.0V1092.2M469.5,1088.0V1092.2M470.5,1088.0V1092.2M471.5,1088.0V1092.2M472.5,1088.0V1092.2M473.5,1088.0V1092.2M474.5,1088.0V1092.2M475.5,1088.0V1092.2M476.5,1088.0V1092.2M477.5,1088.0V1092.2M478.5,1088.0V1092.2M479.5,1088.0V1092.2M480.5,1088.0V1092.2M481.5,1088.0V1092.2M482.5,1088.0V1089.6M483.5,1088.0V1089.6M484.5,1088.0V1089.6M485.5,1088.0V1089.6M486.5,1088.0V1089.6M487.5,1085.4V1087.0M488.5,1088.0V1089.6M489.5,1088.0V1089.6M490.5,1088.0V1089.6M491.5,1088.0V1089.6M492.5,1085.4V1089.6M493.5,1085.4V1089.6M494.5,1085.4V1087.0M495.5,1085.4V1087.0M496.5,1085.4V1089.6M497.5,1085.4V1089.6M498.5,1085.4V1087.0M499.5,1085.4V1087.0M500.5,1085.4V1087.0M501.5,1085.4V1089.6M502.5,1085.4V1089.6M503.5,1085.4V1089.6M504.5,1085.4V1089.6M505.5,1088.0V1089.6M506.5,1088.0V1089.6M507.5,1085.4V1089.6M508.5,1085.4V1089.6M509.5,1085.4V1087.0M510.5,1085.4V1089.6M511.5,1085.4V1089.6M512.5,1085.4V1089.6M513.5,1082.8V1087.0M514.5,1085.4V1087.0M515.5,1085.4V1087.0M516.5,1082.8V1087.0M517.5,1085.4V1089.6M518.5,1082.8V1084.4M519.5,1082.8V1087.0M520.5,1082.8V1089.6M521.5,1082.8V1087.0M522.5,1085.4V1087.0M523.5,1085.4V1087.0M524.5,1085.4V1087.0M525.5,1085.4V1087.0M526.5,1082.8V1087.0M527.5,1082.8V1087.0M528.5,1082.8V1087.0M529.5,1082.8V1087.0M530.5,1082.8V1087.0M531.5,1082.8V1087.0M532.5,1082.8V1087.0M533.5,1082.8V1087.0M534.5,1082.8V1087.0M535.5,1082.8V1087.0M536.5,1082.8V1087.0M537.5,1082.8V1087.0M538.5,1082.8V1087.0M539.5,1082.8V1087.0M540.5,1082.8V1087.0M541.5,1082.8V1087.0M542.5,1082.8V1087.0M543.5,1082.8V1087.0M544.5,1082.8V1087.0M545.5,1082.8V1087.0M546.5,1082.8V1087.0M547.5,1082.8V1087.0M548.5,1082.8V1087.0M549.5,1082.8V1087.0M550.5,1082.8V1087.0M551.5,1082.8V1087.0M552.5,1082.8V1087.0M553.5,1082.8V1087.0M554.5,1082.8V1087.0M555.5,1082.8V1087.0M556.5,1082.8V1087.0M557.5,1085.4V1087.0M558.5,1085.4V1087.0M559.5,1085.4V1087.0M560.5,1082.8V1087.0M561.5,1082.8V1087.0M562.5,1082.8V1084.4M563.5,1082.8V1084.4M564.5,1082.8V1087.0M565.5,1082.8V1087.0M566.5,1082.8V1087.0M567.5,1082.8V1084.4M568.5,1082.8V1084.4M569.5,1082.8V1084.4M570.5,1082.8V1084.4M571.5,1082.8V1087.0M572.5,1082.8V1087.0M573.5,1082.8V1087.0M574.5,1082.8V1084.4M575.5,1082.8V1084.4M576.5,1082.8V1084.4M577.5,1082.8V1084.4M578.5,1082.8V1084.4M579.5,1082.8V1084.4M580.5,1082.8V1084.4M581.5,1082.8V1084.4M582.5,1082.8V1084.4M583.5,1085.4V1087.0M584.5,1085.4V1087.0M585.5,1082.8V1084.4M586.5,1082.8V1084.4M587.5,1082.8V1084.4M588.5,1082.8V1084.4M589.5,1080.1V1084.4M590.5,1080.1V1084.4M591.5,1080.1V1084.4M592.5,1080.1V1084.4M593.5,1080.1V1084.4M594.5,1080.1V1084.4M595.5,1082.8V1084.4M596.5,1080.1V1084.4M597.5,1080.1V1084.4M598.5,1080.1V1084.4M599.5,1080.1V1081.7M600.5,1080.1V1081.7M601.5,1080.1V1081.7M602.5,1080.1V1084.4M603.5,1080.1V1084.4M604.5,1080.1V1084.4M605.5,1080.1V1087.0M606.5,1080.1V1084.4M607.5,1080.1V1084.4M608.5,1080.1V1081.7M609.5,1080.1V1081.7M610.5,1080.1V1081.7M611.5,1080.1V1084.4M612.5,1080.1V1084.4M613.5,1080.1V1084.4M614.5,1080.1V1084.4M615.5,1080.1V1084.4M616.5,1080.1V1084.4M617.5,1080.1V1084.4M618.5,1080.1V1084.4M619.5,1080.1V1084.4M620.5,1080.1V1084.4M621.5,1080.1V1084.4M622.5,1080.1V1084.4M623.5,1080.1V1084.4M624.5,1082.8V1084.4M625.5,1082.8V1084.4M626.5,1082.8V1084.4M627.5,1082.8V1084.4M628.5,1082.8V1084.4M629.5,1080.1V1084.4M630.5,1080.1V1084.4M631.5,1080.1V1084.4M632.5,1080.1V1084.4M633.5,1080.1V1084.4M634.5,1080.1V1084.4M635.5,1080.1V1084.4M636.5,1080.1V1084.4M637.5,1080.1V1084.4M638.5,1080.1V1084.4M639.5,1080.1V1084.4M640.5,1080.1V1084.4M641.5,1080.1V1084.4M642.5,1080.1V1084.4M643.5,1080.1V1084.4M644.5,1080.1V1084.4M645.5,1080.1V1084.4M646.5,1080.1V1084.4M647.5,1080.1V1084.4M648.5,1080.1V1084.4M649.5,1080.1V1084.4M650.5,1080.1V1084.4M651.5,1080.1V1084.4M652.5,1080.1V1084.4M653.5,1080.1V1084.4M654.5,1080.1V1084.4M655.5,1080.1V1081.7M656.5,1080.1V1081.7M657.5,1080.1V1081.7M658.5,1080.1V1081.7M659.5,1080.1V1084.4M660.5,1080.1V1084.4M661.5,1080.1V1084.4M662.5,1080.1V1084.4M663.5,1082.8V1084.4M664.5,1082.8V1084.4M665.5,1082.8V1084.4M666.5,1080.1V1084.4M667.5,1080.1V1084.4M668.5,1080.1V1084.4M669.5,1080.1V1084.4M670.5,1080.1V1084.4M671.5,1080.1V1084.4M672.5,1080.1V1084.4M673.5,1080.1V1084.4M674.5,1080.1V1084.4M675.5,1080.1V1084.4M676.5,1080.1V1084.4M677.5,1080.1V1081.7M678.5,1080.1V1081.7M679.5,1080.1V1081.7M680.5,1080.1V1081.7M681.5,1080.1V1081.7M682.5,1080.1V1081.7M683.5,1080.1V1081.7M684.5,1080.1V1081.7M685.5,1080.1V1081.7M686.5,1080.1V1081.7M687.5,1080.1V1081.7M688.5,1080.1V1081.7M689.5,1080.1V1081.7M690.5,1080.1V1081.7M691.5,1077.5V1079.1M692.5,1077.5V1081.7M693.5,1080.1V1081.7M694.5,1077.5V1081.7M695.5,1077.5V1081.7M696.5,1074.9V1081.7M697.5,1077.5V1079.1M698.5,1077.5V1079.1M699.5,1077.5V1079.1M700.5,1077.5V1079.1M701.5,1077.5V1081.7M702.5,1077.5V1081.7M703.5,1077.5V1081.7M704.5,1077.5V1081.7M705.5,1077.5V1081.7M706.5,1077.5V1081.7M707.5,1077.5V1081.7M708.5,1077.5V1081.7M709.5,1077.5V1081.7M710.5,1077.5V1081.7M711.5,1077.5V1081.7M712.5,1077.5V1081.7M713.5,1077.5V1081.7M714.5,1077.5V1081.7M715.5,1077.5V1081.7M716.5,1077.5V1081.7M717.5,1077.5V1081.7M718.5,1077.5V1081.7M719.5,1077.5V1081.7M720.5,1077.5V1081.7M721.5,1077.5V1081.7M722.5,1077.5V1081.7M723.5,1077.5V1081.7M724.5,1077.5V1081.7M725.5,1077.5V1081.7M726.5,1077.5V1081.7M727.5,1077.5V1081.7M728.5,1077.5V1081.7M729.5,1077.5V1081.7M730.5,1077.5V1084.4M731.5,1077.5V1081.7M732.5,1077.5V1081.7M733.5,1074.9V1081.7M734.5,1077.5V1079.1M735.5,1077.5V1079.1M736.5,1074.9V1081.7M737.5,1077.5V1081.7M738.5,1077.5V1081.7M739.5,1077.5V1081.7M740.5,1077.5V1081.7M741.5,1077.5V1079.1M742.5,1077.5V1079.1M743.5,1077.5V1081.7M744.5,1077.5V1079.1M745.5,1077.5V1079.1M746.5,1077.5V1079.1M747.5,1077.5V1079.1M748.5,1077.5V1079.1M749.5,1077.5V1079.1M750.5,1074.9V1076.5M751.5,1077.5V1079.1M752.5,1077.5V1079.1M753.5,1077.5V1079.1M754.5,1077.5V1079.1M755.5,1077.5V1079.1M756.5,1077.5V1079.1M757.5,1077.5V1079.1M758.5,1077.5V1079.1M759.5,1077.5V1079.1M760.5,1077.5V1079.1M761.5,1077.5V1079.1M762.5,1077.5V1079.1M763.5,1074.9V1079.1M764.5,1074.9V1079.1M765.5,1074.9V1079.1M766.5,1074.9V1079.1M767.5,1074.9V1079.1M768.5,1074.9V1079.1M769.5,1072.2V1079.1M770.5,1074.9V1079.1M771.5,1074.9V1079.1M772.5,1074.9V1079.1M773.5,1074.9V1079.1M774.5,1074.9V1079.1M775.5,1074.9V1079.1M776.5,1074.9V1079.1M777.5,1074.9V1079.1M778.5,1074.9V1079.1M779.5,1074.9V1079.1M780.5,1074.9V1079.1M781.5,1074.9V1079.1M782.5,1074.9V1079.1M783.5,1074.9V1079.1M784.5,1074.9V1079.1M785.5,1074.9V1081.7M786.5,1074.9V1079.1M787.5,1074.9V1079.1M788.5,1074.9V1079.1M789.5,1074.9V1079.1M790.5,1074.9V1079.1M791.5,1074.9V1079.1M792.5,1074.9V1079.1M793.5,1074.9V1079.1M794.5,1074.9V1079.1M795.5,1074.9V1079.1M796.5,1074.9V1079.1M797.5,1074.9V1079.1M798.5,1074.9V1079.1M799.5,1074.9V1079.1M800.5,1074.9V1079.1M801.5,1074.9V1079.1M802.5,1074.9V1079.1M803.5,1074.9V1079.1M804.5,1074.9V1079.1M805.5,1074.9V1079.1M806.5,1074.9V1076.5M807.5,1074.9V1076.5M808.5,1074.9V1076.5M809.5,1074.9V1079.1M810.5,1074.9V1079.1M811.5,1074.9V1079.1M812.5,1074.9V1079.1M813.5,1077.5V1079.1M814.5,1077.5V1079.1M815.5,1077.5V1079.1M816.5,1074.9V1079.1M817.5,1074.9V1079.1M818.5,1074.9V1079.1M819.5,1074.9V1079.1M820.5,1074.9V1076.5M821.5,1074.9V1079.1M822.5,1074.9V1076.5M823.5,1074.9V1076.5M824.5,1074.9V1076.5M825.5,1074.9V1076.5M826.5,1074.9V1076.5M827.5,1074.9V1076.5M828.5,1072.2V1073.8M829.5,1072.2V1073.8M830.5,1074.9V1076.5M831.5,1074.9V1076.5M832.5,1074.9V1076.5M833.5,1074.9V1076.5M834.5,1074.9V1076.5M835.5,1074.9V1076.5M836.5,1074.9V1076.5M837.5,1074.9V1076.5M838.5,1074.9V1076.5M839.5,1074.9V1076.5M840.5,1074.9V1076.5M841.5,1072.2V1076.5M842.5,1072.2V1076.5M843.5,1072.2V1076.5M844.5,1072.2V1076.5M845.5,1072.2V1076.5M846.5,1072.2V1076.5M847.5,1072.2V1076.5M848.5,1072.2V1076.5M849.5,1072.2V1076.5M850.5,1072.2V1076.5M851.5,1072.2V1076.5M852.5,1072.2V1076.5M853.5,1072.2V1076.5M854.5,1072.2V1076.5M855.5,1072.2V1076.5M856.5,1072.2V1076.5M857.5,1072.2V1076.5M858.5,1072.2V1076.5M859.5,1072.2V1076.5M860.5,1072.2V1076.5M861.5,1069.6V1076.5M862.5,1072.2V1076.5M863.5,1072.2V1076.5M864.5,1072.2V1076.5M865.5,1072.2V1076.5M866.5,1072.2V1076.5M867.5,1072.2V1076.5M868.5,1072.2V1073.8M869.5,1072.2V1076.5M870.5,1072.2V1076.5M871.5,1072.2V1076.5M872.5,1072.2V1076.5M873.5,1069.6V1076.5M874.5,1072.2V1076.5M875.5,1072.2V1076.5M876.5,1072.2V1076.5M877.5,1072.2V1076.5M878.5,1072.2V1076.5M879.5,1069.6V1076.5M880.5,1072.2V1076.5M881.5,1072.2V1076.5M882.5,1072.2V1076.5M883.5,1072.2V1076.5M884.5,1072.2V1076.5M885.5,1072.2V1076.5M886.5,1072.2V1076.5M887.5,1072.2V1076.5M888.5,1072.2V1076.5M889.5,1072.2V1076.5M890.5,1072.2V1076.5M891.5,1072.2V1076.5M892.5,1074.9V1076.5M893.5,1074.9V1076.5M894.5,1072.2V1076.5M895.5,1072.2V1076.5M896.5,1072.2V1076.5M897.5,1072.2V1076.5M898.5,1072.2V1076.5M899.5,1072.2V1076.5M900.5,1072.2V1076.5M901.5,1072.2V1076.5M902.5,1072.2V1076.5M903.5,1072.2V1076.5M904.5,1072.2V1076.5M905.5,1072.2V1076.5M906.5,1072.2V1076.5M907.5,1072.2V1076.5M908.5,1072.2V1076.5M909.5,1072.2V1076.5M910.5,1072.2V1076.5M911.5,1072.2V1076.5M912.5,1072.2V1076.5M913.5,1072.2V1076.5M914.5,1072.2V1076.5M915.5,1072.2V1076.5M916.5,1072.2V1076.5M917.5,1072.2V1076.5M918.5,1072.2V1076.5M919.5,1072.2V1076.5M920.5,1072.2V1076.5M921.5,1072.2V1076.5M922.5,1072.2V1076.5M923.5,1072.2V1076.5M924.5,1072.2V1076.5M925.5,1072.2V1076.5M926.5,1072.2V1076.5M927.5,1072.2V1076.5M928.5,1072.2V1076.5M929.5,1072.2V1076.5M930.5,1072.2V1076.5M931.5,1072.2V1076.5M932.5,1072.2V1076.5M933.5,1072.2V1076.5M934.5,1072.2V1076.5M935.5,1072.2V1076.5M936.5,1072.2V1076.5M937.5,1072.2V1076.5M938.5,1072.2V1076.5M939.5,1072.2V1076.5M940.5,1072.2V1076.5M941.5,1072.2V1076.5M942.5,1072.2V1076.5M943.5,1069.6V1076.5M944.5,1072.2V1076.5M945.5,1072.2V1076.5M946.5,1072.2V1076.5M947.5,1072.2V1076.5M948.5,1072.2V1076.5M949.5,1072.2V1073.8M950.5,1072.2V1076.5M951.5,1072.2V1076.5M952.5,1072.2V1076.5M953.5,1072.2V1076.5M954.5,1072.2V1076.5M955.5,1072.2V1076.5M956.5,1072.2V1076.5M957.5,1072.2V1076.5M958.5,1072.2V1076.5M959.5,1072.2V1076.5M960.5,1072.2V1076.5M961.5,1072.2V1076.5M962.5,1072.2V1076.5M963.5,1072.2V1076.5M964.5,1072.2V1076.5M965.5,1072.2V1076.5M966.5,1072.2V1079.1M967.5,1072.2V1076.5M968.5,1072.2V1076.5M969.5,1072.2V1076.5M970.5,1072.2V1076.5M971.5,1072.2V1076.5M972.5,1072.2V1076.5M973.5,1072.2V1076.5M974.5,1072.2V1076.5M975.5,1072.2V1076.5M976.5,1072.2V1076.5M977.5,1072.2V1076.5M978.5,1072.2V1076.5M979.5,1072.2V1076.5M980.5,1072.2V1076.5M981.5,1072.2V1076.5M982.5,1072.2V1076.5M983.5,1072.2V1076.5M984.5,1072.2V1076.5M985.5,1072.2V1076.5M986.5,1072.2V1076.5M987.5,1072.2V1076.5M988.5,1072.2V1076.5M989.5,1072.2V1076.5M990.5,1072.2V1076.5M991.5,1072.2V1076.5M992.5,1072.2V1076.5M993.5,1072.2V1076.5M994.5,1072.2V1076.5M995.5,1072.2V1076.5M996.5,1072.2V1076.5M997.5,1072.2V1076.5M998.5,1072.2V1076.5M999.5,1072.2V1076.5M1000.5,1072.2V1076.5M1001.5,1072.2V1076.5M1002.5,1072.2V1076.5M1003.5,1072.2V1076.5M1004.5,1072.2V1076.5M1005.5,1072.2V1076.5M1006.5,1074.9V1076.5M1007.5,1072.2V1076.5M1008.5,1072.2V1076.5M1009.5,1072.2V1076.5M1010.5,1072.2V1076.5M1011.5,1072.2V1076.5M1012.5,1072.2V1076.5M1013.5,1072.2V1076.5M1014.5,1072.2V1076.5M1015.5,1072.2V1076.5M1016.5,1072.2V1076.5M1017.5,1072.2V1076.5M1018.5,1072.2V1076.5M1019.5,1072.2V1076.5M1020.5,1072.2V1076.5M1021.5,1072.2V1076.5M1022.5,1072.2V1076.5M1023.5,1072.2V1076.5M1024.5,1072.2V1076.5M1025.5,1072.2V1076.5M1026.5,1072.2V1076.5M1027.5,1072.2V1076.5M1028.5,1072.2V1076.5M1029.5,1072.2V1076.5M1030.5,1072.2V1076.5M1031.5,1072.2V1076.5M1032.5,1069.6V1076.5M1033.5,1072.2V1076.5M1034.5,1072.2V1076.5M1035.5,1072.2V1076.5M1036.5,1072.2V1076.5M1037.5,1072.2V1076.5M1038.5,1072.2V1076.5M1039.5,1072.2V1076.5M1040.5,1072.2V1076.5M1041.5,1072.2V1076.5M1042.5,1072.2V1076.5M1043.5,1072.2V1076.5M1044.5,1072.2V1076.5M1045.5,1072.2V1076.5M1046.5,1072.2V1076.5M1047.5,1072.2V1076.5M1048.5,1072.2V1076.5M1049.5,1072.2V1073.8M1050.5,1072.2V1073.8M1051.5,1072.2V1073.8M1052.5,1072.2V1073.8M1053.5,1072.2V1076.5M1054.5,1072.2V1076.5M1055.5,1072.2V1076.5M1056.5,1072.2V1076.5M1057.5,1072.2V1076.5M1058.5,1072.2V1076.5M1059.5,1072.2V1076.5M1060.5,1072.2V1076.5M1061.5,1072.2V1076.5M1062.5,1074.9V1076.5M1063.5,1074.9V1076.5M1064.5,1074.9V1076.5M1065.5,1074.9V1076.5M1066.5,1072.2V1076.5M1067.5,1072.2V1076.5M1068.5,1072.2V1076.5M1069.5,1072.2V1076.5M1070.5,1072.2V1076.5M1071.5,1072.2V1076.5M1072.5,1072.2V1076.5M1073.5,1072.2V1076.5M1074.5,1072.2V1076.5M1075.5,1072.2V1076.5M1076.5,1072.2V1076.5M1077.5,1072.2V1076.5M1078.5,1072.2V1076.5M1079.5,1072.2V1076.5M1080.5,1072.2V1073.8M1081.5,1072.2V1073.8M1082.5,1072.2V1073.8M1083.5,1072.2V1073.8M1084.5,1072.2V1076.5M1085.5,1072.2V1076.5M1086.5,1072.2V1076.5M1087.5,1069.6V1076.5M1088.5,1072.2V1076.5M1089.5,1072.2V1076.5M1090.5,1072.2V1076.5M1091.5,1072.2V1076.5M1092.5,1072.2V1076.5M1093.5,1072.2V1076.5M1094.5,1072.2V1076.5M1095.5,1072.2V1076.5M1096.5,1072.2V1076.5M1097.5,1072.2V1076.5M1098.5,1072.2V1076.5M1099.5,1072.2V1076.5M1100.5,1072.2V1076.5M1101.5,1072.2V1076.5M1102.5,1072.2V1076.5M1103.5,1072.2V1076.5M1104.5,1072.2V1076.5M1105.5,1072.2V1073.8M1106.5,1072.2V1073.8M1107.5,1072.2V1073.8M1108.5,1072.2V1076.5M1109.5,1072.2V1076.5M1110.5,1072.2V1076.5M1111.5,1072.2V1076.5M1112.5,1072.2V1076.5M1113.5,1072.2V1076.5M1114.5,1072.2V1076.5M1115.5,1072.2V1076.5M1116.5,1072.2V1076.5M1117.5,1072.2V1076.5M1118.5,1072.2V1076.5M1119.5,1072.2V1076.5M1120.5,1072.2V1076.5M1121.5,1072.2V1076.5M1122.5,1072.2V1076.5M1123.5,1072.2V1076.5M1124.5,1072.2V1076.5M1125.5,1072.2V1073.8M1126.5,1072.2V1076.5M1127.5,1072.2V1076.5M1128.5,1072.2V1076.5M1129.5,1072.2V1076.5M1130.5,1072.2V1076.5M1131.5,1072.2V1076.5M1132.5,1069.6V1076.5M1133.5,1072.2V1076.5M1134.5,1072.2V1076.5M1135.5,1072.2V1076.5M1136.5,1072.2V1073.8M1137.5,1072.2V1073.8M1138.5,1072.2V1073.8M1139.5,1072.2V1073.8M1140.5,1072.2V1076.5M1141.5,1072.2V1076.5M1142.5,1072.2V1076.5M1143.5,1072.2V1076.5M1144.5,1072.2V1076.5M1145.5,1072.2V1076.5M1146.5,1072.2V1076.5M1147.5,1072.2V1076.5M1148.5,1074.9V1076.5M1149.5,1074.9V1076.5M1150.5,1074.9V1076.5M1151.5,1074.9V1076.5M1152.5,1074.9V1076.5M1153.5,1074.9V1076.5" stroke="#00ff00" stroke-width="1.05" fill="none"/>
<path d="M165.5,1201.1V1202.7M166.5,1201.1V1202.7M167.5,1201.1V1202.7M168.5,1201.1V1202.7M169.5,1198.5V1200.1M170.5,1198.5V1202.7M171.5,1198.5V1202.7M172.5,1198.5V1202.7M173.5,1198.5V1200.1M174.5,1198.5V1200.1M175.5,1198.5V1200.1M176.5,1195.8V1197.4M177.5,1195.8V1197.4M178.5,1195.8V1197.4M179.5,1195.8V1197.4M180.5,1198.5V1200.1M181.5,1198.5V1200.1M182.5,1195.8V1197.4M183.5,1195.8V1200.1M184.5,1195.8V1200.1M185.5,1195.8V1200.1M186.5,1195.8V1200.1M187.5,1193.2V1200.1M188.5,1195.8V1200.1M189.5,1195.8V1200.1M190.5,1195.8V1200.1M191.5,1195.8V1200.1M192.5,1195.8V1200.1M193.5,1195.8V1200.1M194.5,1195.8V1200.1M195.5,1195.8V1200.1M196.5,1195.8V1200.1M197.5,1195.8V1200.1M198.5,1195.8V1200.1M199.5,1195.8V1200.1M200.5,1195.8V1200.1M201.5,1195.8V1200.1M202.5,1195.8V1200.1M203.5,1195.8V1200.1M204.5,1195.8V1200.1M205.5,1195.8V1200.1M206.5,1195.8V1200.1M207.5,1195.8V1200.1M208.5,1195.8V1197.4M209.5,1195.8V1200.1M210.5,1195.8V1197.4M211.5,1195.8V1197.4M212.5,1195.8V1197.4M213.5,1195.8V1197.4M214.5,1195.8V1197.4M215.5,1195.8V1202.7M216.5,1195.8V1202.7M217.5,1195.9V1197.5M218.5,1195.9V1197.5M219.5,1195.9V1197.5M220.5,1195.9V1197.5M221.5,1193.2V1197.5M222.5,1193.2V1197.5M223.5,1193.2V1197.5M224.5,1193.2V1197.5M225.5,1193.2V1197.5M226.5,1193.2V1197.5M227.5,1193.2V1197.5M228.5,1193.2V1200.1M229.5,1193.2V1197.5M230.5,1193.2V1197.5M231.5,1193.2V1197.5M232.5,1193.2V1197.5M233.5,1193.2V1197.5M234.5,1193.2V1197.5M235.5,1193.2V1197.5M236.5,1193.2V1197.5M237.5,1193.2V1197.5M238.5,1193.2V1197.5M239.5,1193.2V1197.5M240.5,1193.2V1197.5M241.5,1193.2V1197.5M242.5,1193.2V1197.5M243.5,1193.2V1197.5M244.5,1193.2V1197.5M245.5,1193.2V1197.5M246.5,1193.2V1197.5M247.5,1193.2V1197.5M248.5,1193.2V1197.5M249.5,1193.2V1197.5M250.5,1193.2V1200.1M251.5,1193.2V1197.5M252.5,1193.2V1197.5M253.5,1193.2V1197.5M254.5,1193.2V1197.5M255.5,1193.2V1194.8M256.5,1193.2V1194.8M257.5,1193.2V1194.8M258.5,1195.9V1197.5M259.5,1193.2V1197.5M260.5,1190.6V1194.8M261.5,1193.2V1194.8M262.5,1193.2V1194.8M263.5,1193.2V1194.8M264.5,1193.2V1194.8M265.5,1190.6V1192.2M266.5,1190.6V1192.2M267.5,1190.6V1192.2M268.5,1190.6V1192.2M269.5,1193.2V1194.8M270.5,1193.2V1194.8M271.5,1193.2V1194.8M272.5,1193.2V1194.8M273.5,1193.2V1194.8M274.5,1193.2V1194.8M275.5,1190.6V1194.8M276.5,1190.6V1194.8M277.5,1190.6V1194.8M278.5,1190.6V1194.8M279.5,1190.6V1192.2M280.5,1190.6V1192.2M281.5,1190.6V1192.2M282.5,1190.6V1194.8M283.5,1190.6V1194.8M284.5,1190.6V1194.8M285.5,1190.6V1194.8M286.5,1190.6V1192.2M287.5,1190.6V1192.2M288.5,1190.6V1192.2M289.5,1190.6V1194.8M290.5,1190.6V1194.8M291.5,1190.6V1194.8M292.5,1190.6V1194.8M293.5,1190.6V1194.8M294.5,1190.6V1194.8M295.5,1190.6V1194.8M296.5,1190.6V1194.8M297.5,1190.6V1194.8M298.5,1190.6V1194.8M299.5,1190.6V1194.8M300.5,1190.6V1194.8M301.5,1190.6V1194.8M302.5,1190.6V1194.8M303.5,1190.6V1194.8M304.5,1190.6V1194.8M305.5,1190.6V1194.8M306.5,1190.6V1194.8M307.5,1190.6V1192.2M308.5,1188.0V1189.6M309.5,1190.6V1192.2M310.5,1190.6V1192.2M311.5,1190.6V1192.2M312.5,1190.6V1192.2M313.5,1190.6V1192.2M314.5,1190.6V1192.2M315.5,1190.6V1192.2M316.5,1190.6V1192.2M317.5,1188.0V1189.6M318.5,1185.3V1189.6M319.5,1188.0V1189.6M320.5,1188.0V1192.2M321.5,1188.0V1192.2M322.5,1188.0V1192.2M323.5,1188.0V1192.2M324.5,1188.0V1192.2M325.5,1188.0V1192.2M326.5,1188.0V1189.6M327.5,1188.0V1189.6M328.5,1188.0V1192.2M329.5,1188.0V1192.2M330.5,1188.0V1192.2M331.5,1188.0V1192.2M332.5,1188.0V1192.2M333.5,1188.0V1192.2M334.5,1188.0V1192.2M335.5,1188.0V1192.2M336.5,1188.0V1192.2M337.5,1188.0V1192.2M338.5,1188.0V1192.2M339.5,1188.0V1192.2M340.5,1188.0V1192.2M341.5,1188.0V1192.2M342.5,1188.0V1192.2M343.5,1188.0V1192.2M344.5,1188.0V1192.2M345.5,1188.0V1192.2M346.5,1188.0V1192.2M347.5,1188.0V1192.2M348.5,1188.0V1192.2M349.5,1188.0V1192.2M350.5,1188.0V1189.6M351.5,1188.0V1192.2M352.5,1188.0V1192.2M353.5,1188.0V1189.6M354.5,1188.0V1189.6M355.5,1188.0V1189.6M356.5,1188.0V1189.6M357.5,1188.0V1189.6M358.5,1188.0V1189.6M359.5,1188.0V1189.6M360.5,1188.0V1189.6M361.5,1188.0V1189.6M362.5,1188.0V1189.6M363.5,1188.0V1189.6M364.5,1188.0V1189.6M365.5,1188.0V1189.6M366.5,1188.0V1189.6M367.5,1188.0V1189.6M368.5,1185.3V1189.6M369.5,1185.3V1189.6M370.5,1185.3V1189.6M371.5,1185.3V1189.6M372.5,1185.3V1189.6M373.5,1185.3V1189.6M374.5,1185.3V1189.6M375.5,1185.3V1189.6M376.5,1185.3V1189.6M377.5,1185.3V1189.6M378.5,1185.3V1189.6M379.5,1185.3V1189.6M380.5,1185.3V1189.6M381.5,1185.3V1189.6M382.5,1185.3V1189.6M383.5,1185.3V1189.6M384.5,1185.3V1189.6M385.5,1185.3V1189.6M386.5,1185.3V1189.6M387.5,1185.3V1186.9M388.5,1185.3V1189.6M389.5,1185.3V1189.6M390.5,1185.3V1189.6M391.5,1185.3V1189.6M392.5,1185.3V1189.6M393.5,1185.3V1186.9M394.5,1185.3V1186.9M395.5,1185.3V1186.9M396.5,1185.3V1186.9M397.5,1185.3V1186.9M398.5,1185.3V1186.9M399.5,1185.3V1186.9M400.5,1185.3V1186.9M401.5,1185.3V1186.9M402.5,1185.3V1186.9M403.5,1185.3V1186.9M404.5,1182.7V1184.3M405.5,1182.7V1184.3M406.5,1185.3V1186.9M407.5,1185.3V1186.9M408.5,1185.3V1186.9M409.5,1185.3V1186.9M410.5,1182.7V1186.9M411.5,1182.7V1186.9M412.5,1182.7V1186.9M413.5,1182.7V1186.9M414.5,1182.7V1186.9M415.5,1182.7V1186.9M416.5,1182.7V1186.9M417.5,1182.7V1186.9M418.5,1182.7V1186.9M419.5,1182.7V1186.9M420.5,1182.7V1186.9M421.5,1182.7V1186.9M422.5,1182.7V1186.9M423.5,1182.7V1186.9M424.5,1182.7V1186.9M425.5,1182.7V1186.9M426.5,1182.7V1186.9M427.5,1182.7V1186.9M428.5,1182.7V1186.9M429.5,1182.7V1184.3M430.5,1182.7V1184.3M431.5,1182.7V1184.3M432.5,1182.7V1184.3M433.5,1182.7V1186.9M434.5,1182.7V1186.9M435.5,1182.7V1186.9M436.5,1182.7V1186.9M437.5,1182.7V1186.9M438.5,1182.7V1186.9M439.5,1182.7V1186.9M440.5,1182.7V1186.9M441.5,1182.7V1184.3M442.5,1182.7V1184.3M443.5,1182.7V1186.9M444.5,1182.7V1184.3M445.5,1182.7V1186.9M446.5,1182.7V1184.3M447.5,1182.7V1184.3M448.5,1182.7V1184.3M449.5,1182.7V1184.3M450.5,1182.7V1186.9M451.5,1182.7V1186.9M452.5,1182.7V1184.3M453.5,1182.7V1184.3M454.5,1182.7V1184.3M455.5,1182.7V1184.3M456.5,1182.7V1184.3M457.5,1182.7V1184.3M458.5,1182.7V1184.3M459.5,1182.7V1184.3M460.5,1182.7V1184.3M461.5,1182.7V1184.3M462.5,1182.7V1184.3M463.5,1177.4V1184.3M464.5,1180.1V1184.3M465.5,1180.1V1184.3M466.5,1182.7V1184.3M467.5,1182.7V1184.3M468.5,1182.7V1184.3M469.5,1180.1V1184.3M470.5,1180.1V1184.3M471.5,1180.1V1184.3M472.5,1180.1V1184.3M473.5,1180.1V1184.3M474.5,1180.1V1184.3M475.5,1180.1V1184.3M476.5,1180.1V1184.3M477.5,1180.1V1184.3M478.5,1180.1V1184.3M479.5,1180.1V1184.3M480.5,1180.1V1184.3M481.5,1180.1V1184.3M482.5,1180.1V1184.3M483.5,1180.1V1184.3M484.5,1180.1V1184.3M485.5,1180.1V1184.3M486.5,1180.1V1184.3M487.5,1180.1V1184.3M488.5,1180.1V1184.3M489.5,1180.1V1184.3M490.5,1182.7V1184.3M491.5,1182.7V1184.3M492.5,1182.7V1184.3M493.5,1180.1V1184.3M494.5,1180.1V1184.3M495.5,1182.7V1184.3M496.5,1182.7V1184.3M497.5,1180.1V1184.3M498.5,1180.1V1184.3M499.5,1180.1V1181.7M500.5,1180.1V1181.7M501.5,1180.1V1181.7M502.5,1180.1V1181.7M503.5,1180.1V1184.3M504.5,1180.1V1184.3M505.5,1180.1V1184.3M506.5,1180.1V1184.3M507.5,1180.1V1184.3M508.5,1180.1V1181.7M509.5,1180.1V1181.7M510.5,1180.1V1181.7M511.5,1180.1V1181.7M512.5,1180.1V1181.7M513.5,1180.1V1181.7M514.5,1177.4V1179.0M515.5,1177.4V1179.0M516.5,1180.1V1181.7M517.5,1180.1V1181.7M518.5,1180.1V1181.7M519.5,1177.4V1181.7M520.5,1177.4V1181.7M521.5,1177.4V1181.7M522.5,1177.4V1181.7M523.5,1180.1V1181.7M524.5,1180.1V1181.7M525.5,1180.1V1181.7M526.5,1177.4V1181.7M527.5,1177.4V1181.7M528.5,1177.4V1181.7M529.5,1177.4V1181.7M530.5,1177.4V1181.7M531.5,1177.4V1181.7M532.5,1177.4V1181.7M533.5,1177.4V1181.7M534.5,1177.4V1181.7M535.5,1180.1V1181.7M536.5,1180.1V1181.7M537.5,1180.1V1181.7M538.5,1177.4V1181.7M539.5,1177.4V1181.7M540.5,1177.4V1181.7M541.5,1177.4V1181.7M542.5,1177.4V1181.7M543.5,1177.4V1181.7M544.5,1177.4V1181.7M545.5,1177.4V1181.7M546.5,1177.4V1181.7M547.5,1177.4V1181.7M548.5,1177.4V1181.7M549.5,1180.1V1181.7M550.5,1180.1V1181.7M551.5,1180.1V1181.7M552.5,1180.1V1181.7M553.5,1177.4V1181.7M554.5,1177.4V1181.7M555.5,1177.4V1181.7M556.5,1177.4V1181.7M557.5,1177.4V1181.7M558.5,1177.4V1181.7M559.5,1177.4V1181.7M560.5,1177.4V1181.7M561.5,1177.4V1181.7M562.5,1177.4V1181.7M563.5,1177.4V1181.7M564.5,1177.4V1181.7M565.5,1177.4V1181.7M566.5,1177.4V1181.7M567.5,1177.4V1181.7M568.5,1177.4V1181.7M569.5,1177.4V1181.7M570.5,1177.4V1184.3M571.5,1177.4V1181.7M572.5,1177.4V1181.7M573.5,1177.4V1181.7M574.5,1177.4V1181.7M575.5,1177.4V1181.7M576.5,1180.1V1181.7M577.5,1180.1V1181.7M578.5,1180.1V1181.7M579.5,1180.1V1181.7M580.5,1177.4V1179.0M581.5,1177.4V1179.0M582.5,1177.4V1179.0M583.5,1177.4V1181.7M584.5,1177.4V1181.7M585.5,1177.4V1181.7M586.5,1177.4V1181.7M587.5,1177.4V1181.7M588.5,1177.4V1181.7M589.5,1177.4V1179.0M590.5,1177.4V1179.0M591.5,1177.4V1179.0M592.5,1177.4V1179.0M593.5,1177.4V1179.0M594.5,1177.4V1179.0M595.5,1177.4V1179.0M596.5,1177.4V1179.0M597.5,1177.4V1179.0M598.5,1177.4V1179.0M599.5,1177.4V1179.0M600.5,1177.4V1179.0M601.5,1177.4V1179.0M602.5,1177.4V1179.0M603.5,1177.4V1179.0M604.5,1177.4V1179.0M605.5,1174.8V1176.4M606.5,1174.8V1176.4M607.5,1174.8V1176.4M608.5,1177.4V1179.0M609.5,1177.4V1179.0M610.5,1177.4V1179.0M611.5,1174.8V1176.4M612.5,1174.8V1176.4M613.5,1174.8V1176.4M614.5,1174.8V1176.4M615.5,1177.4V1179.0M616.5,1174.8V1179.0M617.5,1174.8V1181.7M618.5,1174.8V1179.0M619.5,1174.8V1179.0M620.5,1174.8V1179.0M621.5,1174.8V1179.0M622.5,1174.8V1179.0M623.5,1174.8V1179.0M624.5,1174.8V1179.0M625.5,1174.8V1179.0M626.5,1174.8V1179.0M627.5,1177.4V1179.0M628.5,1177.4V1179.0M629.5,1177.4V1179.0M630.5,1174.8V1176.4M631.5,1174.8V1176.4M632.5,1174.8V1179.0M633.5,1174.8V1179.0M634.5,1174.8V1176.4M635.5,1172.2V1179.0M636.5,1174.8V1179.0M637.5,1174.8V1179.0M638.5,1174.8V1179.0M639.5,1174.8V1179.0M640.5,1174.8V1179.0M641.5,1174.8V1179.0M642.5,1174.8V1179.0M643.5,1174.8V1179.0M644.5,1174.8V1179.0M645.5,1174.8V1179.0M646.5,1174.8V1179.0M647.5,1174.8V1179.0M648.5,1174.8V1179.0M649.5,1174.8V1179.0M650.5,1174.8V1179.0M651.5,1174.8V1179.0M652.5,1174.8V1179.0M653.5,1174.8V1179.0M654.5,1174.8V1179.0M655.5,1174.8V1179.0M656.5,1174.8V1179.0M657.5,1174.8V1176.4M658.5,1174.8V1176.4M659.5,1174.8V1176.4M660.5,1174.8V1179.0M661.5,1174.8V1179.0M662.5,1172.2V1179.0M663.5,1174.8V1179.0M664.5,1174.8V1181.7M665.5,1174.8V1179.0M666.5,1174.8V1179.0M667.5,1174.8V1179.0M668.5,1174.8V1179.0M669.5,1174.8V1179.0M670.5,1174.8V1179.0M671.5,1174.8V1179.0M672.5,1174.8V1179.0M673.5,1174.8V1176.4M674.5,1174.8V1179.0M675.5,1174.8V1176.4M676.5,1174.8V1176.4M677.5,1174.8V1176.4M678.5,1174.8V1176.4M679.5,1174.8V1176.4M680.5,1174.8V1176.4M681.5,1174.8V1179.0M682.5,1174.8V1179.0M683.5,1172.2V1176.4M684.5,1174.8V1176.4M685.5,1174.8V1176.4M686.5,1174.8V1176.4M687.5,1174.8V1176.4M688.5,1174.8V1176.4M689.5,1172.2V1176.4M690.5,1174.8V1176.4M691.5,1174.8V1176.4M692.5,1174.8V1176.4M693.5,1174.8V1176.4M694.5,1174.8V1176.4M695.5,1174.8V1179.0M696.5,1172.2V1176.4M697.5,1172.2V1176.4M698.5,1172.2V1176.4M699.5,1172.2V1179.0M700.5,1172.2V1176.4M701.5,1172.2V1176.4M702.5,1172.2V1176.4M703.5,1172.2V1176.4M704.5,1172.2V1176.4M705.5,1172.2V1176.4M706.5,1172.2V1176.4M707.5,1172.2V1176.4M708.5,1172.2V1173.8M709.5,1172.2V1173.8M710.5,1172.2V1173.8M711.5,1172.2V1173.8M712.5,1172.2V1176.4M713.5,1172.2V1176.4M714.5,1172.2V1176.4M715.5,1172.2V1176.4M716.5,1172.2V1176.4M717.5,1172.2V1176.4M718.5,1172.2V1176.4M719.5,1172.2V1176.4M720.5,1172.2V1176.4M721.5,1172.2V1176.4M722.5,1172.2V1176.4M723.5,1172.2V1176.4M724.5,1172.2V1176.4M725.5,1172.2V1176.4M726.5,1172.2V1176.4M727.5,1172.2V1176.4M728.5,1172.2V1176.4M729.5,1172.2V1173.8M730.5,1172.2V1173.8M731.5,1172.2V1173.8M732.5,1172.2V1176.4M733.5,1172.2V1176.4M734.5,1172.2V1176.4M735.5,1172.2V1176.4M736.5,1172.2V1176.4M737.5,1172.2V1176.4M738.5,1172.2V1176.4M739.5,1172.2V1173.8M740.5,1169.5V1173.8M741.5,1172.2V1173.8M742.5,1172.2V1173.8M743.5,1172.2V1173.8M744.5,1169.5V1173.8M745.5,1169.5V1173.8M746.5,1169.5V1173.8M747.5,1172.2V1173.8M748.5,1169.5V1173.8M749.5,1169.5V1173.8M750.5,1169.5V1173.8M751.5,1169.5V1173.8M752.5,1169.5V1173.8M753.5,1169.5V1173.8M754.5,1169.5V1173.8M755.5,1169.5V1173.8M756.5,1169.5V1173.8M757.5,1169.5V1173.8M758.5,1169.5V1173.8M759.5,1169.5V1173.8M760.5,1169.5V1173.8M761.5,1169.5V1176.4M762.5,1169.5V1173.8M763.5,1169.5V1173.8M764.5,1169.5V1173.8M765.5,1169.5V1173.8M766.5,1169.5V1173.8M767.5,1169.5V1173.8M768.5,1169.5V1173.8M769.5,1169.5V1173.8M770.5,1169.5V1173.8M771.5,1169.5V1173.8M772.5,1169.5V1173.8M773.5,1169.5V1173.8M774.5,1169.5V1173.8M775.5,1169.5V1173.8M776.5,1169.5V1173.8M777.5,1169.5V1173.8M778.5,1169.5V1173.8M779.5,1169.5V1173.8M780.5,1169.5V1173.8M781.5,1169.5V1173.8M782.5,1169.5V1173.8M783.5,1169.5V1176.4M784.5,1169.5V1171.1M785.5,1169.5V1173.8M786.5,1169.5V1171.1M787.5,1169.5V1171.1M788.5,1169.5V1171.1M789.5,1169.5V1173.8M790.5,1169.5V1173.8M791.5,1169.5V1173.8M792.5,1169.5V1171.1M793.5,1169.5V1171.1M794.5,1169.5V1173.8M795.5,1169.5V1171.1M796.5,1169.5V1171.1M797.5,1166.9V1168.5M798.5,1169.6V1171.2M799.5,1169.6V1171.2M800.5,1169.6V1171.2M801.5,1166.9V1171.2M802.5,1164.3V1171.2M803.5,1169.6V1171.2M804.5,1169.6V1171.2M805.5,1166.9V1171.2M806.5,1169.6V1171.2M807.5,1166.9V1171.2M808.5,1169.6V1171.2M809.5,1169.6V1171.2M810.5,1169.6V1171.2M811.5,1169.6V1171.2M812.5,1169.6V1171.2M813.5,1166.9V1171.2M814.5,1166.9V1171.2M815.5,1166.9V1171.2M816.5,1166.9V1171.2M817.5,1166.9V1171.2M818.5,1166.9V1171.2M819.5,1166.9V1171.2M820.5,1166.9V1171.2M821.5,1166.9V1171.2M822.5,1166.9V1171.2M823.5,1166.9V1171.2M824.5,1166.9V1171.2M825.5,1166.9V1171.2M826.5,1166.9V1171.2M827.5,1166.9V1171.2M828.5,1166.9V1171.2M829.5,1166.9V1168.5M830.5,1166.9V1168.5M831.5,1166.9V1168.5M832.5,1166.9V1168.5M833.5,1166.9V1168.5M834.5,1166.9V1168.5M835.5,1166.9V1168.5M836.5,1166.9V1171.2M837.5,1166.9V1171.2M838.5,1166.9V1171.2M839.5,1166.9V1171.2M840.5,1166.9V1171.2M841.5,1166.9V1171.2M842.5,1166.9V1168.5M843.5,1166.9V1168.5M844.5,1166.9V1168.5M845.5,1166.9V1168.5M846.5,1166.9V1171.2M847.5,1169.6V1171.2M848.5,1169.6V1171.2M849.5,1169.6V1171.2M850.5,1166.9V1171.2M851.5,1166.9V1171.2M852.5,1166.9V1171.2M853.5,1166.9V1171.2M854.5,1166.9V1168.5M855.5,1166.9V1168.5M856.5,1166.9V1168.5M857.5,1164.3V1165.9M858.5,1166.9V1168.5M859.5,1166.9V1168.5M860.5,1164.3V1168.5M861.5,1166.9V1168.5M862.5,1166.9V1168.5M863.5,1166.9V1168.5M864.5,1166.9V1168.5M865.5,1166.9V1168.5M866.5,1166.9V1168.5M867.5,1166.9V1168.5M868.5,1164.3V1168.5M869.5,1164.3V1168.5M870.5,1164.3V1168.5M871.5,1164.3V1168.5M872.5,1164.3V1165.9M873.5,1164.3V1165.9M874.5,1164.3V1165.9M875.5,1164.3V1165.9M876.5,1164.3V1165.9M877.5,1164.3V1165.9M878.5,1164.3V1165.9M879.5,1166.9V1168.5M880.5,1166.9V1168.5M881.5,1166.9V1168.5M882.5,1166.9V1168.5M883.5,1164.3V1168.5M884.5,1164.3V1168.5M885.5,1166.9V1168.5M886.5,1166.9V1168.5M887.5,1164.3V1165.9M888.5,1164.3V1165.9M889.5,1164.3V1165.9M890.5,1164.3V1165.9M891.5,1164.3V1165.9M892.5,1164.3V1168.5M893.5,1164.3V1168.5M894.5,1164.3V1168.5M895.5,1164.3V1168.5M896.5,1164.3V1168.5M897.5,1164.3V1168.5M898.5,1164.3V1168.5M899.5,1161.7V1168.5M900.5,1164.3V1168.5M901.5,1161.7V1168.5M902.5,1164.3V1168.5M903.5,1164.3V1168.5M904.5,1164.3V1168.5M905.5,1164.3V1168.5M906.5,1164.3V1168.5M907.5,1164.3V1168.5M908.5,1164.3V1168.5M909.5,1164.3V1168.5M910.5,1164.3V1168.5M911.5,1164.3V1168.5M912.5,1164.3V1168.5M913.5,1164.3V1168.5M914.5,1164.3V1168.5M915.5,1164.3V1168.5M916.5,1164.3V1168.5M917.5,1164.3V1168.5M918.5,1164.3V1168.5M919.5,1164.3V1168.5M920.5,1164.3V1168.5M921.5,1164.3V1168.5M922.5,1164.3V1168.5M923.5,1164.3V1168.5M924.5,1164.3V1168.5M925.5,1164.3V1168.5M926.5,1164.3V1168.5M927.5,1164.3V1168.5M928.5,1164.3V1168.5M929.5,1164.3V1168.5M930.5,1164.3V1168.5M931.5,1166.9V1168.5M932.5,1166.9V1168.5M933.5,1166.9V1168.5M934.5,1164.3V1168.5M935.5,1164.3V1165.9M936.5,1164.3V1165.9M937.5,1164.3V1165.9M938.5,1164.3V1165.9M939.5,1164.3V1165.9M940.5,1164.3V1168.5M941.5,1164.3V1168.5M942.5,1164.3V1168.5M943.5,1164.3V1168.5M944.5,1164.3V1165.9M945.5,1164.3V1165.9M946.5,1164.3V1165.9M947.5,1161.7V1165.9M948.5,1166.9V1168.5M949.5,1166.9V1168.5M950.5,1166.9V1168.5M951.5,1164.3V1168.5M952.5,1164.3V1168.5M953.5,1164.3V1168.5M954.5,1164.3V1168.5M955.5,1164.3V1168.5M956.5,1164.3V1168.5M957.5,1164.3V1168.5M958.5,1164.3V1165.9M959.5,1164.3V1165.9M960.5,1164.3V1165.9M961.5,1164.3V1165.9M962.5,1164.3V1165.9M963.5,1161.7V1165.9M964.5,1164.3V1165.9M965.5,1164.3V1165.9M966.5,1164.3V1165.9M967.5,1164.3V1165.9M968.5,1164.3V1168.5M969.5,1164.3V1168.5M970.5,1164.3V1168.5M971.5,1164.3V1168.5M972.5,1164.3V1165.9M973.5,1164.3V1165.9M974.5,1161.7V1163.3M975.5,1161.7V1163.3M976.5,1164.3V1165.9M977.5,1164.3V1165.9M978.5,1164.3V1165.9M979.5,1164.3V1165.9M980.5,1164.3V1165.9M981.5,1164.3V1165.9M982.5,1164.3V1165.9M983.5,1164.3V1165.9M984.5,1164.3V1165.9M985.5,1159.0V1163.3M986.5,1161.7V1163.3M987.5,1164.3V1165.9M988.5,1164.3V1165.9M989.5,1164.3V1165.9M990.5,1164.3V1165.9M991.5,1164.3V1165.9M992.5,1164.3V1165.9M993.5,1164.3V1165.9M994.5,1164.3V1165.9M995.5,1164.3V1165.9M996.5,1164.3V1165.9M997.5,1164.3V1165.9M998.5,1164.3V1165.9M999.5,1164.3V1165.9M1000.5,1164.3V1165.9M1001.5,1164.3V1165.9M1002.5,1164.3V1165.9M1003.5,1164.3V1165.9M1004.5,1164.3V1165.9M1005.5,1164.3V1165.9M1006.5,1164.3V1165.9M1007.5,1164.3V1165.9M1008.5,1164.3V1165.9M1009.5,1164.3V1165.9M1010.5,1161.7V1163.3M1011.5,1161.7V1165.9M1012.5,1161.7V1165.9M1013.5,1164.3V1165.9M1014.5,1164.3V1165.9M1015.5,1164.3V1165.9M1016.5,1161.7V1165.9M1017.5,1161.7V1165.9M1018.5,1161.7V1165.9M1019.5,1161.7V1165.9M1020.5,1161.7V1165.9M1021.5,1161.7V1165.9M1022.5,1161.7V1165.9M1023.5,1161.7V1165.9M1024.5,1161.7V1165.9M1025.5,1161.7V1165.9M1026.5,1161.7V1165.9M1027.5,1161.7V1165.9M1028.5,1161.7V1165.9M1029.5,1161.7V1165.9M1030.5,1161.7V1165.9M1031.5,1161.7V1165.9M1032.5,1161.7V1163.3M1033.5,1161.7V1165.9M1034.5,1161.7V1165.9M1035.5,1161.7V1165.9M1036.5,1161.7V1165.9M1037.5,1161.7V1165.9M1038.5,1161.7V1165.9M1039.5,1161.7V1165.9M1040.5,1161.7V1165.9M1041.5,1161.7V1165.9M1042.5,1161.7V1165.9M1043.5,1161.7V1165.9M1044.5,1161.7V1165.9M1045.5,1161.7V1165.9M1046.5,1161.7V1165.9M1047.5,1161.7V1165.9M1048.5,1161.7V1165.9M1049.5,1161.7V1163.3M1050.5,1161.7V1163.3M1051.5,1161.7V1163.3M1052.5,1161.7V1165.9M1053.5,1161.7V1165.9M1054.5,1161.7V1165.9M1055.5,1161.7V1165.9M1056.5,1161.7V1165.9M1057.5,1161.7V1165.9M1058.5,1161.7V1165.9M1059.5,1161.7V1165.9M1060.5,1161.7V1165.9M1061.5,1161.7V1165.9M1062.5,1161.7V1165.9M1063.5,1161.7V1165.9M1064.5,1161.7V1165.9M1065.5,1161.7V1165.9M1066.5,1161.7V1165.9M1067.5,1161.7V1165.9M1068.5,1161.7V1163.3M1069.5,1161.7V1163.3M1070.5,1161.7V1163.3M1071.5,1161.7V1163.3M1072.5,1161.7V1163.3M1073.5,1161.7V1163.3M1074.5,1161.7V1163.3M1075.5,1161.7V1163.3M1076.5,1161.7V1163.3M1077.5,1161.7V1163.3M1078.5,1161.7V1163.3M1079.5,1161.7V1163.3M1080.5,1161.7V1163.3M1081.5,1161.7V1163.3M1082.5,1161.7V1163.3M1083.5,1161.7V1163.3M1084.5,1161.7V1163.3M1085.5,1161.7V1163.3M1086.5,1159.0V1160.6M1087.5,1159.0V1160.6M1088.5,1159.0V1160.6M1089.5,1159.0V1160.6M1090.5,1159.0V1160.6M1091.5,1159.0V1160.6M1092.5,1159.0V1163.3M1093.5,1159.0V1163.3M1094.5,1159.0V1163.3M1095.5,1161.7V1163.3M1096.5,1161.7V1165.9M1097.5,1159.0V1163.3M1098.5,1161.7V1163.3M1099.5,1161.7V1163.3M1100.5,1159.0V1163.3M1101.5,1159.0V1163.3M1102.5,1159.0V1163.3M1103.5,1159.0V1163.3M1104.5,1159.0V1163.3M1105.5,1159.0V1163.3M1106.5,1159.0V1163.3M1107.5,1159.0V1163.3M1108.5,1159.0V1160.6M1109.5,1159.0V1163.3M1110.5,1159.0V1163.3M1111.5,1159.0V1163.3M1112.5,1159.0V1163.3M1113.5,1159.0V1160.6M1114.5,1159.0V1160.6M1115.5,1159.0V1160.6M1116.5,1159.0V1160.6M1117.5,1159.0V1163.3M1118.5,1159.0V1163.3M1119.5,1159.0V1163.3M1120.5,1159.0V1163.3M1121.5,1159.0V1163.3M1122.5,1159.0V1163.3M1123.5,1159.0V1163.3M1124.5,1159.0V1163.3M1125.5,1159.0V1163.3M1126.5,1159.0V1163.3M1127.5,1159.0V1163.3M1128.5,1159.0V1160.6M1129.5,1159.0V1160.6M1130.5,1159.0V1160.6M1131.5,1159.0V1160.6M1132.5,1159.0V1160.6M1133.5,1159.0V1163.3M1134.5,1159.0V1163.3M1135.5,1159.0V1163.3M1136.5,1159.0V1160.6M1137.5,1159.0V1160.6M1138.5,1159.0V1160.6M1139.5,1159.0V1160.6M1140.5,1156.4V1160.6M1141.5,1156.4V1160.6M1142.5,1156.4V1160.6M1143.5,1156.4V1160.6M1144.5,1159.0V1160.6M1145.5,1159.0V1160.6M1146.5,1156.4V1160.6M1147.5,1156.4V1160.6M1148.5,1156.4V1160.6M1149.5,1156.4V1160.6M1150.5,1156.4V1158.0M1151.5,1156.4V1160.6M1152.5,1156.4V1160.6M1153.5,1156.4V1160.6" stroke="#ffff00" stroke-width="1.05" fill="none"/>
<rect x="165.5" y="1072.4" width="989" height="161.0999999999999" fill="none" stroke="#262626" stroke-width="1.3"/>
<text x="157.12" y="1082.30" text-anchor="end" style="font-size:22.08px;fill:#262626" textLength="13.25" lengthAdjust="spacingAndGlyphs">5</text>
<text x="156.68" y="1134.96" text-anchor="end" style="font-size:22.08px;fill:#262626" textLength="13.25" lengthAdjust="spacingAndGlyphs">0</text>
<text x="157.12" y="1187.63" text-anchor="end" style="font-size:22.08px;fill:#262626" textLength="20.77" lengthAdjust="spacingAndGlyphs">-5</text>
<text x="156.68" y="1240.29" text-anchor="end" style="font-size:22.08px;fill:#262626" textLength="34.02" lengthAdjust="spacingAndGlyphs">-10</text>
<text class="b" transform="translate(85.40,1152.09) rotate(-90)" text-anchor="middle" style="font-size:19.88px;fill:#262626" textLength="137.36" lengthAdjust="spacingAndGlyphs">Temperature</text>
<text class="b" transform="translate(110.60,1152.00) rotate(-90)" text-anchor="middle" style="font-size:19.88px;fill:#262626" textLength="40.27" lengthAdjust="spacingAndGlyphs">(°C)</text>
<line x1="412.25" y1="1306.5" x2="412.25" y2="1469.4" stroke="#dcdcdc" stroke-width="1"/>
<line x1="659.5" y1="1306.5" x2="659.5" y2="1469.4" stroke="#dcdcdc" stroke-width="1"/>
<line x1="906.75" y1="1306.5" x2="906.75" y2="1469.4" stroke="#dcdcdc" stroke-width="1"/>
<line x1="412.25" y1="1306.5" x2="412.25" y2="1316.5" stroke="#262626" stroke-width="1.3"/>
<line x1="412.25" y1="1469.4" x2="412.25" y2="1459.4" stroke="#262626" stroke-width="1.3"/>
<line x1="659.5" y1="1306.5" x2="659.5" y2="1316.5" stroke="#262626" stroke-width="1.3"/>
<line x1="659.5" y1="1469.4" x2="659.5" y2="1459.4" stroke="#262626" stroke-width="1.3"/>
<line x1="906.75" y1="1306.5" x2="906.75" y2="1316.5" stroke="#262626" stroke-width="1.3"/>
<line x1="906.75" y1="1469.4" x2="906.75" y2="1459.4" stroke="#262626" stroke-width="1.3"/>
<line x1="165" y1="1306.5" x2="175" y2="1306.5" stroke="#262626" stroke-width="1.3"/>
<line x1="1154" y1="1306.5" x2="1144" y2="1306.5" stroke="#262626" stroke-width="1.3"/>
<line x1="165" y1="1388.0" x2="175" y2="1388.0" stroke="#262626" stroke-width="1.3"/>
<line x1="1154" y1="1388.0" x2="1144" y2="1388.0" stroke="#262626" stroke-width="1.3"/>
<line x1="165" y1="1469.5" x2="175" y2="1469.5" stroke="#262626" stroke-width="1.3"/>
<line x1="1154" y1="1469.5" x2="1144" y2="1469.5" stroke="#262626" stroke-width="1.3"/>
<path d="M165,1423.1H410 M410,1426.6H1154" stroke="#5a5af5" stroke-width="1.3" fill="none"/>
<path d="M167.5,1419.0V1423.8M168.5,1419.0V1423.8M170.5,1419.4V1423.8M172.5,1419.2V1423.8M173.5,1419.3V1423.8M174.5,1418.9V1423.8M175.5,1418.8V1423.8M176.5,1418.9V1423.8M177.5,1418.6V1423.8M178.5,1419.0V1423.8M180.5,1418.8V1423.8M181.5,1419.3V1423.8M183.5,1419.1V1423.8M184.5,1418.6V1423.8M185.5,1418.5V1423.8M186.5,1419.2V1423.8M187.5,1418.7V1423.8M188.5,1418.7V1423.8M189.5,1419.2V1423.8M190.5,1419.4V1423.8M192.5,1419.3V1423.8M194.5,1418.9V1423.8M195.5,1418.7V1423.8M197.5,1419.5V1423.8M198.5,1418.5V1423.8M199.5,1418.5V1423.8M200.5,1419.1V1423.8M201.5,1419.1V1423.8M202.5,1419.4V1423.8M203.5,1418.7V1423.8M204.5,1418.9V1423.8M205.5,1419.1V1423.8M206.5,1418.5V1423.8M207.5,1418.6V1423.8M208.5,1418.7V1423.8M209.5,1418.9V1423.8M210.5,1418.6V1423.8M211.5,1418.7V1423.8M212.5,1418.9V1423.8M213.5,1419.3V1423.8M214.5,1418.5V1423.8M215.5,1419.5V1423.8M216.5,1418.9V1423.8M218.5,1419.1V1423.8M223.5,1418.9V1423.8M226.5,1418.9V1423.8M229.5,1419.5V1423.8M408.5,1422.6V1427.8M410.5,1422.3V1427.8M411.5,1422.8V1427.8M412.5,1422.4V1427.8M413.5,1422.9V1427.8M414.5,1422.5V1427.8M415.5,1422.5V1427.8M416.5,1422.6V1427.8M417.5,1422.2V1427.8M419.5,1423.0V1427.8M420.5,1422.5V1427.8M421.5,1422.8V1427.8M422.5,1422.2V1427.8M423.5,1422.7V1427.8M424.5,1422.7V1427.8M426.5,1422.8V1427.8M427.5,1422.8V1427.8M428.5,1422.3V1427.8M429.5,1422.4V1427.8M431.5,1422.9V1427.8M432.5,1422.2V1427.8M433.5,1422.5V1427.8M434.5,1422.6V1427.8M435.5,1422.3V1427.8M436.5,1422.5V1427.8M437.5,1422.9V1427.8M438.5,1422.3V1427.8M439.5,1422.6V1427.8M440.5,1422.3V1427.8M442.5,1422.6V1427.8M443.5,1422.6V1427.8M444.5,1422.3V1427.8M445.5,1422.4V1427.8M446.5,1422.8V1427.8M447.5,1422.9V1427.8M448.5,1422.3V1427.8M449.5,1422.2V1427.8M450.5,1422.7V1427.8M451.5,1422.6V1427.8M452.5,1422.3V1427.8M453.5,1422.6V1427.8M454.5,1422.3V1427.8M455.5,1422.3V1427.8M456.5,1422.5V1427.8M457.5,1422.6V1427.8M458.5,1422.4V1427.8M460.5,1422.5V1427.8M461.5,1422.7V1427.8M462.5,1422.3V1427.8M463.5,1423.0V1427.8M464.5,1422.4V1427.8M466.5,1422.8V1427.8M467.5,1422.5V1427.8M468.5,1422.4V1427.8M470.5,1422.6V1427.8M471.5,1422.3V1427.8M472.5,1422.7V1427.8M473.5,1422.3V1427.8M474.5,1422.5V1427.8M475.5,1422.3V1427.8M476.5,1422.3V1427.8M477.5,1422.3V1427.8M478.5,1422.7V1427.8M479.5,1422.9V1427.8M480.5,1422.8V1427.8M481.5,1422.6V1427.8M482.5,1422.8V1427.8M483.5,1422.8V1427.8M484.5,1422.8V1427.8M485.5,1422.8V1427.8M486.5,1422.8V1427.8M487.5,1422.9V1427.8M488.5,1422.7V1427.8M490.5,1422.5V1427.8M491.5,1422.3V1427.8M492.5,1422.6V1427.8M494.5,1422.4V1427.8M496.5,1422.4V1427.8M497.5,1422.6V1427.8M498.5,1422.3V1427.8M499.5,1422.9V1427.8M500.5,1423.0V1427.8M501.5,1422.4V1427.8M502.5,1422.6V1427.8M503.5,1422.9V1427.8M504.5,1422.4V1427.8M505.5,1422.9V1427.8M506.5,1422.6V1427.8M507.5,1422.8V1427.8M508.5,1422.8V1427.8M509.5,1422.8V1427.8M510.5,1422.8V1427.8M511.5,1422.2V1427.8M512.5,1422.8V1427.8M513.5,1422.9V1427.8M514.5,1422.7V1427.8M515.5,1422.8V1427.8M516.5,1422.4V1427.8M517.5,1422.7V1427.8M518.5,1422.7V1427.8M519.5,1422.3V1427.8M523.5,1422.6V1427.8M525.5,1422.4V1427.8M539.5,1422.8V1427.8M544.5,1422.8V1427.8M550.5,1422.7V1427.8M556.5,1422.4V1427.8M561.5,1422.8V1427.8M573.5,1422.5V1427.8M574.5,1422.3V1427.8M575.5,1423.0V1427.8M576.5,1422.2V1427.8M577.5,1422.2V1427.8M578.5,1422.8V1427.8M580.5,1422.9V1427.8M581.5,1423.0V1427.8M582.5,1422.5V1427.8M583.5,1422.7V1427.8M584.5,1422.3V1427.8M585.5,1422.7V1427.8M586.5,1422.6V1427.8M587.5,1422.2V1427.8M588.5,1422.8V1427.8M589.5,1422.4V1427.8M590.5,1422.5V1427.8M591.5,1422.3V1427.8M592.5,1422.9V1427.8M595.5,1422.8V1427.8M596.5,1422.3V1427.8M597.5,1422.9V1427.8M598.5,1422.4V1427.8M599.5,1422.9V1427.8M600.5,1422.2V1427.8M601.5,1423.0V1427.8M602.5,1422.9V1427.8M604.5,1422.9V1427.8M605.5,1423.0V1427.8M606.5,1422.4V1427.8M607.5,1422.5V1427.8M608.5,1422.2V1427.8M609.5,1422.3V1427.8M610.5,1422.6V1427.8M611.5,1422.7V1427.8M612.5,1422.5V1427.8M613.5,1422.8V1427.8M614.5,1422.6V1427.8M618.5,1422.8V1427.8M619.5,1423.0V1427.8M620.5,1422.3V1427.8M621.5,1422.7V1427.8M622.5,1422.5V1427.8M623.5,1422.8V1427.8M624.5,1422.8V1427.8M625.5,1422.5V1427.8M626.5,1422.3V1427.8M627.5,1422.8V1427.8M628.5,1422.4V1427.8M629.5,1422.4V1427.8M630.5,1422.7V1427.8M631.5,1422.9V1427.8M632.5,1422.8V1427.8M634.5,1422.4V1427.8M635.5,1422.2V1427.8M636.5,1422.6V1427.8M637.5,1422.5V1427.8M638.5,1422.9V1427.8M639.5,1422.2V1427.8M640.5,1422.5V1427.8M641.5,1422.8V1427.8M642.5,1422.8V1427.8M643.5,1423.0V1427.8M644.5,1422.2V1427.8M645.5,1422.8V1427.8M646.5,1422.7V1427.8M647.5,1422.9V1427.8M648.5,1422.4V1427.8M649.5,1422.8V1427.8M650.5,1422.9V1427.8M651.5,1422.2V1427.8M653.5,1422.8V1427.8M654.5,1422.4V1427.8M655.5,1422.2V1427.8M656.5,1422.4V1427.8M657.5,1422.3V1427.8M658.5,1422.2V1427.8M659.5,1422.5V1427.8M660.5,1422.5V1427.8M661.5,1422.7V1427.8M662.5,1422.5V1427.8M663.5,1423.0V1427.8M664.5,1422.4V1427.8M665.5,1422.6V1427.8M666.5,1422.3V1427.8M667.5,1422.3V1427.8M668.5,1423.0V1427.8M669.5,1422.6V1427.8M670.5,1422.6V1427.8M671.5,1422.2V1427.8M672.5,1422.3V1427.8M673.5,1422.7V1427.8M674.5,1422.3V1427.8M675.5,1422.6V1427.8M676.5,1422.5V1427.8M677.5,1422.6V1427.8M678.5,1422.8V1427.8M679.5,1422.7V1427.8M680.5,1422.8V1427.8M681.5,1422.9V1427.8M682.5,1422.3V1427.8M683.5,1422.5V1427.8M684.5,1422.4V1427.8M685.5,1422.9V1427.8M686.5,1422.6V1427.8M687.5,1422.8V1427.8M689.5,1422.6V1427.8M690.5,1422.4V1427.8M691.5,1422.5V1427.8M692.5,1422.5V1427.8M693.5,1422.4V1427.8M694.5,1422.9V1427.8M695.5,1422.8V1427.8M696.5,1423.0V1427.8M697.5,1422.2V1427.8M699.5,1422.4V1427.8M700.5,1422.9V1427.8M701.5,1422.6V1427.8M702.5,1422.2V1427.8M704.5,1422.7V1427.8M705.5,1423.0V1427.8M706.5,1422.2V1427.8M707.5,1422.7V1427.8M708.5,1422.9V1427.8M709.5,1422.5V1427.8M710.5,1422.5V1427.8M711.5,1422.5V1427.8M712.5,1422.4V1427.8M713.5,1422.3V1427.8M714.5,1422.6V1427.8M715.5,1422.4V1427.8M716.5,1422.6V1427.8M717.5,1422.2V1427.8M718.5,1422.9V1427.8M719.5,1422.7V1427.8M720.5,1422.3V1427.8M721.5,1422.4V1427.8M722.5,1422.9V1427.8M723.5,1422.9V1427.8M725.5,1422.9V1427.8M726.5,1422.2V1427.8M727.5,1422.9V1427.8M728.5,1422.9V1427.8M729.5,1422.3V1427.8M730.5,1422.4V1427.8M731.5,1422.4V1427.8M732.5,1422.4V1427.8M733.5,1422.7V1427.8M734.5,1422.2V1427.8M735.5,1422.5V1427.8M736.5,1422.8V1427.8M737.5,1422.3V1427.8M738.5,1422.9V1427.8M739.5,1422.8V1427.8M740.5,1422.7V1427.8M741.5,1422.7V1427.8M742.5,1422.9V1427.8M743.5,1422.7V1427.8M744.5,1422.8V1427.8M748.5,1422.6V1427.8M751.5,1422.2V1427.8M757.5,1422.9V1427.8M787.5,1422.2V1427.8M788.5,1422.6V1427.8" stroke="#0000ff" stroke-width="1.05" fill="none"/>
<path d="M165.5,1401.0V1403.2M166.5,1401.0V1403.2M167.5,1401.0V1403.2M168.5,1401.0V1403.2M169.5,1401.0V1403.2M170.5,1401.0V1403.2M171.5,1401.0V1403.2M172.5,1401.0V1403.2M173.5,1401.0V1403.2M174.5,1401.0V1403.2M175.5,1401.0V1403.2M176.5,1401.0V1403.2M177.5,1401.0V1403.2M178.5,1401.0V1403.2M179.5,1401.0V1403.2M180.5,1401.0V1403.2M181.5,1401.0V1403.2M182.5,1401.0V1403.2M183.5,1401.0V1403.2M184.5,1401.0V1403.2M185.5,1401.0V1403.2M186.5,1401.0V1403.2M187.5,1401.0V1403.2M188.5,1401.0V1403.2M189.5,1401.0V1403.2M190.5,1401.0V1403.2M191.5,1401.0V1403.2M192.5,1401.0V1403.2M193.5,1401.0V1403.2M194.5,1401.0V1403.2M195.5,1401.0V1403.2M196.5,1401.0V1403.2M197.5,1401.0V1403.2M198.5,1401.0V1403.2M199.5,1401.0V1403.2M200.5,1401.0V1403.2M201.5,1401.0V1403.2M202.5,1401.0V1403.2M203.5,1401.0V1403.2M204.5,1401.0V1403.2M205.5,1401.0V1403.2M206.5,1401.0V1403.2M207.5,1401.0V1403.2M208.5,1401.0V1403.2M209.5,1401.0V1403.2M210.5,1401.0V1403.2M211.5,1401.0V1403.2M212.5,1401.0V1403.2M213.5,1401.0V1403.2M214.5,1401.0V1403.2M215.5,1401.0V1403.2M216.5,1401.0V1403.2M217.5,1401.0V1403.2M218.5,1401.0V1403.2M219.5,1401.0V1403.2M220.5,1401.0V1403.2M221.5,1401.0V1403.2M222.5,1401.0V1403.2M223.5,1401.0V1403.2M224.5,1401.0V1403.2M225.5,1401.0V1403.2M226.5,1401.0V1403.2M227.5,1401.0V1403.2M228.5,1401.0V1403.2M229.5,1401.0V1403.2M230.5,1401.0V1403.2M231.5,1401.0V1403.2M232.5,1401.0V1403.2M233.5,1401.0V1403.2M234.5,1401.0V1403.2M235.5,1401.0V1403.2M236.5,1401.0V1403.2M237.5,1401.0V1403.2M238.5,1401.0V1403.2M239.5,1401.0V1403.2M240.5,1401.0V1403.2M241.5,1401.0V1403.2M242.5,1401.0V1403.2M243.5,1401.0V1403.2M244.5,1401.0V1403.2M245.5,1401.0V1403.2M246.5,1401.0V1403.2M247.5,1401.0V1403.2M248.5,1401.0V1403.2M249.5,1401.0V1403.2M250.5,1401.0V1403.2M251.5,1401.0V1403.2M252.5,1401.0V1403.2M253.5,1401.0V1403.2M254.5,1401.0V1403.2M255.5,1401.0V1403.2M256.5,1401.0V1403.2M257.5,1401.0V1403.2M258.5,1401.0V1403.2M259.5,1401.0V1403.2M260.5,1401.0V1403.2M261.5,1401.0V1403.2M262.5,1401.0V1403.2M263.5,1401.0V1403.2M264.5,1401.0V1403.2M265.5,1401.0V1403.2M266.5,1401.0V1403.2M267.5,1401.0V1403.2M268.5,1401.0V1403.2M269.5,1401.0V1403.2M270.5,1401.0V1403.2M271.5,1401.0V1403.2M272.5,1401.0V1403.2M273.5,1401.0V1403.2M274.5,1401.0V1403.2M275.5,1401.0V1403.2M276.5,1401.0V1403.2M277.5,1401.0V1403.2M278.5,1401.0V1403.2M279.5,1401.0V1403.2M280.5,1401.0V1403.2M281.5,1401.0V1403.2M282.5,1401.0V1403.2M283.5,1401.0V1403.2M284.5,1401.0V1403.2M285.5,1401.0V1403.2M286.5,1401.0V1403.2M287.5,1401.0V1403.2M288.5,1401.0V1403.2M289.5,1401.0V1403.2M290.5,1401.0V1403.2M291.5,1401.0V1403.2M292.5,1401.0V1403.2M293.5,1401.0V1403.2M294.5,1401.0V1403.2M295.5,1401.0V1403.2M296.5,1401.0V1403.2M297.5,1401.0V1403.2M298.5,1401.0V1403.2M299.5,1401.0V1403.2M300.5,1401.0V1403.2M301.5,1401.0V1403.2M302.5,1401.0V1403.2M303.5,1401.0V1403.2M304.5,1401.0V1403.2M305.5,1401.0V1403.2M306.5,1401.0V1403.2M307.5,1401.0V1403.2M308.5,1401.0V1403.2M309.5,1401.0V1403.2M310.5,1401.0V1403.2M311.5,1401.0V1403.2M312.5,1401.0V1403.2M313.5,1401.0V1403.2M314.5,1401.0V1403.2M315.5,1401.0V1403.2M316.5,1401.0V1403.2M317.5,1401.0V1403.2M318.5,1401.0V1403.2M319.5,1401.0V1403.2M320.5,1401.0V1403.2M321.5,1401.0V1403.2M322.5,1401.0V1403.2M323.5,1401.0V1403.2M324.5,1401.0V1403.2M325.5,1401.0V1403.2M326.5,1401.0V1403.2M327.5,1401.0V1403.2M328.5,1401.0V1403.2M329.5,1401.0V1403.2M330.5,1401.0V1403.2M331.5,1401.0V1403.2M332.5,1401.0V1403.2M333.5,1401.0V1403.2M334.5,1401.0V1403.2M335.5,1401.0V1403.2M336.5,1401.0V1403.2M337.5,1401.0V1403.2M338.5,1401.0V1403.2M339.5,1401.0V1403.2M340.5,1401.0V1403.2M341.5,1401.0V1403.2M342.5,1401.0V1403.2M343.5,1401.0V1403.2M344.5,1401.0V1403.2M345.5,1401.0V1403.2M346.5,1401.0V1403.2M347.5,1401.0V1403.2M348.5,1401.0V1403.2M349.5,1401.0V1403.2M350.5,1401.0V1403.2M351.5,1401.0V1403.2M352.5,1401.0V1403.2M353.5,1401.0V1403.2M354.5,1401.0V1403.2M355.5,1401.0V1403.2M356.5,1401.0V1403.2M357.5,1401.0V1403.2M358.5,1401.0V1403.2M359.5,1401.0V1403.2M360.5,1401.0V1403.2M361.5,1401.0V1403.2M362.5,1401.0V1403.2M363.5,1401.0V1403.2M364.5,1401.0V1403.2M365.5,1401.0V1403.2M366.5,1401.0V1403.2M367.5,1401.0V1403.2M368.5,1401.0V1403.2M369.5,1401.0V1403.2M370.5,1401.0V1403.2M371.5,1401.0V1403.2M372.5,1401.0V1403.2M373.5,1401.0V1403.2M374.5,1401.0V1403.2M375.5,1401.0V1403.2M376.5,1401.0V1403.2M377.5,1401.0V1403.2M378.5,1401.0V1403.2M379.5,1401.0V1403.2M380.5,1401.0V1403.2M381.5,1401.0V1403.2M382.5,1401.0V1403.2M383.5,1401.0V1403.2M384.5,1401.0V1403.2M385.5,1401.0V1403.2M386.5,1401.0V1403.2M387.5,1401.0V1403.2M388.5,1401.0V1403.2M389.5,1401.0V1403.2M390.5,1401.0V1403.2M391.5,1401.0V1403.2M392.5,1401.0V1403.2M393.5,1401.0V1403.2M394.5,1401.0V1403.2M395.5,1401.0V1403.2M396.5,1401.0V1403.2M397.5,1401.0V1403.2M398.5,1401.0V1403.2M399.5,1401.0V1403.2M400.5,1401.0V1403.2M401.5,1401.0V1403.2M402.5,1401.0V1403.2M403.5,1401.0V1403.2M404.5,1401.0V1403.2M405.5,1401.0V1403.2M406.5,1401.0V1403.2M407.5,1401.0V1403.2M408.5,1401.0V1403.2M409.5,1401.0V1403.2M410.5,1401.0V1403.2M411.5,1401.0V1403.2M412.5,1401.0V1403.2M413.5,1401.0V1403.2M414.5,1401.0V1403.2M415.5,1401.0V1403.2M416.5,1401.0V1403.2M417.5,1401.0V1403.2M418.5,1401.0V1403.2M419.5,1401.0V1403.2M420.5,1401.0V1403.2M421.5,1401.0V1403.2M422.5,1401.0V1403.2M423.5,1401.0V1403.2M424.5,1401.0V1403.2M425.5,1401.0V1403.2M426.5,1401.0V1403.2M427.5,1401.0V1403.2M428.5,1401.0V1403.2M429.5,1401.0V1403.2M430.5,1401.0V1403.2M431.5,1401.0V1403.2M432.5,1401.0V1403.2M433.5,1401.0V1403.2M434.5,1401.0V1403.2M435.5,1401.0V1403.2M436.5,1401.0V1403.2M437.5,1401.0V1403.2M438.5,1401.0V1403.2M439.5,1401.0V1403.2M440.5,1401.0V1403.2M441.5,1401.0V1403.2M442.5,1401.0V1403.2M443.5,1401.0V1403.2M444.5,1401.0V1403.2M445.5,1401.0V1403.2M446.5,1401.0V1403.2M447.5,1401.0V1403.2M448.5,1401.0V1403.2M449.5,1401.0V1403.2M450.5,1401.0V1403.2M451.5,1401.0V1403.2M452.5,1401.0V1403.2M453.5,1401.0V1403.2M454.5,1401.0V1403.2M455.5,1401.0V1403.2M456.5,1401.0V1403.2M457.5,1401.0V1403.2M458.5,1401.0V1403.2M459.5,1401.0V1403.2M460.5,1401.0V1403.2M461.5,1401.0V1403.2M462.5,1401.0V1403.2M463.5,1401.0V1403.2M464.5,1401.0V1403.2M465.5,1401.0V1403.2M466.5,1401.0V1403.2M467.5,1401.0V1403.2M468.5,1401.0V1403.2M469.5,1401.0V1403.2M470.5,1401.0V1403.2M471.5,1401.0V1403.2M472.5,1401.0V1403.2M473.5,1401.0V1403.2M474.5,1401.0V1403.2M475.5,1401.0V1403.2M476.5,1401.0V1403.2M477.5,1401.0V1403.2M478.5,1401.0V1403.2M479.5,1401.0V1403.2M480.5,1401.0V1403.2M481.5,1401.0V1403.2M482.5,1401.0V1403.2M483.5,1401.0V1403.2M484.5,1401.0V1403.2M485.5,1401.0V1403.2M486.5,1401.0V1403.2M487.5,1401.0V1403.2M488.5,1401.0V1403.2M489.5,1401.0V1403.2M490.5,1401.0V1403.2M491.5,1401.0V1403.2M492.5,1401.0V1403.2M493.5,1401.0V1403.2M494.5,1401.0V1403.2M495.5,1401.0V1403.2M496.5,1401.0V1403.2M497.5,1401.0V1403.2M498.5,1401.0V1403.2M499.5,1401.0V1403.2M500.5,1401.0V1403.2M501.5,1401.0V1403.2M502.5,1401.0V1403.2M503.5,1401.0V1403.2M504.5,1401.0V1403.2M505.5,1401.0V1403.2M506.5,1401.0V1403.2M507.5,1401.0V1403.2M508.5,1401.0V1403.2M509.5,1401.0V1403.2M510.5,1401.0V1403.2M511.5,1401.0V1403.2M512.5,1401.0V1403.2M513.5,1401.0V1403.2M514.5,1401.0V1403.2M515.5,1401.0V1403.2M516.5,1401.0V1403.2M517.5,1401.0V1403.2M518.5,1401.0V1403.2M519.5,1401.0V1403.2M520.5,1401.0V1403.2M521.5,1401.0V1403.2M522.5,1401.0V1403.2M523.5,1401.0V1403.2M524.5,1401.0V1403.2M525.5,1401.0V1403.2M526.5,1401.0V1403.2M527.5,1401.0V1403.2M528.5,1401.0V1403.2M529.5,1401.0V1403.2M530.5,1401.0V1403.2M531.5,1401.0V1403.2M532.5,1401.0V1403.2M533.5,1401.0V1403.2M534.5,1401.0V1403.2M535.5,1401.0V1403.2M536.5,1401.0V1403.2M537.5,1401.0V1403.2M538.5,1401.0V1403.2M539.5,1401.0V1403.2M540.5,1401.0V1403.2M541.5,1401.0V1403.2M542.5,1401.0V1403.2M543.5,1401.0V1403.2M544.5,1401.0V1403.2M545.5,1401.0V1403.2M546.5,1401.0V1403.2M547.5,1401.0V1403.2M548.5,1401.0V1403.2M549.5,1401.0V1403.2M550.5,1401.0V1403.2M551.5,1401.0V1403.2M552.5,1401.0V1403.2M553.5,1401.0V1403.2M554.5,1401.0V1403.2M555.5,1401.0V1403.2M556.5,1401.0V1403.2M557.5,1401.0V1403.2M558.5,1401.0V1403.2M559.5,1401.0V1403.2M560.5,1401.0V1403.2M561.5,1401.0V1403.2M562.5,1401.0V1403.2M563.5,1401.0V1403.2M564.5,1401.0V1403.2M565.5,1401.0V1403.2M566.5,1401.0V1403.2M567.5,1401.0V1403.2M568.5,1401.0V1403.2M569.5,1401.0V1403.2M570.5,1401.0V1403.2M571.5,1401.0V1403.2M572.5,1401.0V1403.2M573.5,1401.0V1403.2M574.5,1401.0V1406.9M575.5,1401.0V1406.9M576.5,1401.0V1406.9M577.5,1401.0V1406.9M578.5,1401.0V1406.9M579.5,1401.0V1406.9M580.5,1401.0V1406.9M581.5,1401.0V1406.9M582.5,1401.0V1406.9M583.5,1401.0V1406.9M584.5,1401.0V1406.9M585.5,1401.0V1406.9M586.5,1401.0V1406.9M587.5,1401.0V1406.9M588.5,1401.0V1406.9M589.5,1401.0V1406.9M590.5,1401.0V1406.9M591.5,1401.0V1406.9M592.5,1401.0V1406.9M593.5,1401.0V1406.9M594.5,1401.0V1406.9M595.5,1401.0V1406.9M596.5,1401.0V1406.9M597.5,1401.0V1406.9M598.5,1401.0V1406.9M599.5,1401.0V1406.9M600.5,1401.0V1406.9M601.5,1401.0V1406.9M602.5,1401.0V1406.9M603.5,1401.0V1406.9M604.5,1401.0V1406.9M605.5,1401.0V1406.9M606.5,1401.0V1406.9M607.5,1401.0V1406.9M608.5,1401.0V1406.9M609.5,1401.0V1403.2M610.5,1401.0V1406.9M611.5,1401.0V1406.9M612.5,1401.0V1406.9M613.5,1401.0V1406.9M614.5,1401.0V1406.9M615.5,1401.0V1406.9M616.5,1401.0V1406.9M617.5,1401.0V1406.9M618.5,1401.0V1406.9M619.5,1401.0V1406.9M620.5,1401.0V1406.9M621.5,1401.0V1406.9M622.5,1401.0V1406.9M623.5,1401.0V1406.9M624.5,1401.0V1406.9M625.5,1401.0V1406.9M626.5,1401.0V1406.9M627.5,1401.0V1406.9M628.5,1401.0V1406.9M629.5,1401.0V1406.9M630.5,1401.0V1406.9M631.5,1401.0V1406.9M632.5,1401.0V1406.9M633.5,1401.0V1406.9M634.5,1401.0V1406.9M635.5,1401.0V1406.9M636.5,1401.0V1406.9M637.5,1401.0V1406.9M638.5,1401.0V1403.2M639.5,1401.0V1406.9M640.5,1401.0V1406.9M641.5,1401.0V1406.9M642.5,1401.0V1406.9M643.5,1401.0V1406.9M644.5,1401.0V1406.9M645.5,1401.0V1406.9M646.5,1401.0V1406.9M647.5,1401.0V1406.9M648.5,1401.0V1406.9M649.5,1401.0V1406.9M650.5,1401.0V1406.9M651.5,1401.0V1406.9M652.5,1401.0V1406.9M653.5,1401.0V1403.2M654.5,1401.0V1406.9M655.5,1401.0V1406.9M656.5,1401.0V1406.9M657.5,1401.0V1406.9M658.5,1401.0V1406.9M659.5,1401.0V1406.9M660.5,1401.0V1406.9M661.5,1401.0V1406.9M662.5,1401.0V1403.2M663.5,1401.0V1406.9M664.5,1401.0V1406.9M665.5,1401.0V1406.9M666.5,1401.0V1406.9M667.5,1401.0V1406.9M668.5,1401.0V1406.9M669.5,1401.0V1406.9M670.5,1401.0V1406.9M671.5,1401.0V1406.9M672.5,1401.0V1406.9M673.5,1401.0V1403.2M674.5,1401.0V1406.9M675.5,1401.0V1406.9M676.5,1401.0V1406.9M677.5,1401.0V1406.9M678.5,1401.0V1406.9M679.5,1401.0V1406.9M680.5,1401.0V1406.9M681.5,1401.0V1406.9M682.5,1401.0V1406.9M683.5,1401.0V1406.9M684.5,1401.0V1406.9M685.5,1401.0V1406.9M686.5,1401.0V1406.9M687.5,1401.0V1406.9M688.5,1401.0V1406.9M689.5,1401.0V1406.9M690.5,1401.0V1406.9M691.5,1401.0V1406.9M692.5,1401.0V1406.9M693.5,1401.0V1406.9M694.5,1401.0V1406.9M695.5,1401.0V1406.9M696.5,1401.0V1406.9M697.5,1401.0V1406.9M698.5,1401.0V1406.9M699.5,1401.0V1406.9M700.5,1401.0V1406.9M701.5,1401.0V1406.9M702.5,1401.0V1406.9M703.5,1401.0V1406.9M704.5,1401.0V1406.9M705.5,1401.0V1406.9M706.5,1401.0V1406.9M707.5,1401.0V1406.9M708.5,1401.0V1406.9M709.5,1401.0V1406.9M710.5,1401.0V1406.9M711.5,1401.0V1406.9M712.5,1401.0V1406.9M713.5,1401.0V1406.9M714.5,1401.0V1406.9M715.5,1401.0V1406.9M716.5,1401.0V1406.9M717.5,1401.0V1406.9M718.5,1401.0V1406.9M719.5,1401.0V1406.9M720.5,1401.0V1406.9M721.5,1401.0V1406.9M722.5,1401.0V1406.9M723.5,1401.0V1406.9M724.5,1401.0V1406.9M725.5,1401.0V1406.9M726.5,1401.0V1406.9M727.5,1401.0V1406.9M728.5,1401.0V1406.9M729.5,1401.0V1406.9M730.5,1401.0V1406.9M731.5,1401.0V1406.9M732.5,1401.0V1406.9M733.5,1401.0V1406.9M734.5,1401.0V1406.9M735.5,1401.0V1406.9M736.5,1401.0V1406.9M737.5,1401.0V1406.9M738.5,1401.0V1406.9M739.5,1401.0V1406.9M740.5,1401.0V1406.9M741.5,1401.0V1406.9M742.5,1401.0V1406.9M743.5,1401.0V1406.9M744.5,1401.0V1406.9M745.5,1401.0V1406.9M746.5,1401.0V1406.9M747.5,1401.0V1406.9M748.5,1401.0V1406.9M749.5,1401.0V1406.9M750.5,1401.0V1406.9M751.5,1401.0V1406.9M752.5,1401.0V1406.9M753.5,1401.0V1406.9M754.5,1401.0V1406.9M755.5,1401.0V1406.9M756.5,1401.0V1406.9M757.5,1401.0V1406.9M758.5,1401.0V1406.9M759.5,1401.0V1406.9M760.5,1401.0V1406.9M761.5,1401.0V1406.9M762.5,1401.0V1406.9M763.5,1401.0V1403.2M764.5,1401.0V1406.9M765.5,1401.0V1406.9M766.5,1401.0V1406.9M767.5,1401.0V1406.9M768.5,1401.0V1406.9M769.5,1401.0V1406.9M770.5,1401.0V1406.9M771.5,1401.0V1406.9M772.5,1401.0V1406.9M773.5,1401.0V1406.9M774.5,1401.0V1406.9M775.5,1401.0V1406.9M776.5,1401.0V1406.9M777.5,1401.0V1406.9M778.5,1401.0V1406.9M779.5,1401.0V1406.9M780.5,1401.0V1406.9M781.5,1401.0V1403.2M782.5,1401.0V1406.9M783.5,1401.0V1406.9M784.5,1401.0V1406.9M785.5,1401.0V1406.9M786.5,1401.0V1406.9M787.5,1401.0V1406.9M788.5,1401.0V1406.9M789.5,1401.0V1406.9M790.5,1401.0V1406.9M791.5,1401.0V1406.9M792.5,1401.0V1406.9M793.5,1401.0V1406.9M794.5,1401.0V1406.9M795.5,1401.0V1406.9M796.5,1401.0V1406.9M797.5,1401.0V1406.9M798.5,1401.0V1406.9M799.5,1401.0V1406.9M800.5,1401.0V1406.9M801.5,1401.0V1406.9M802.5,1401.0V1406.9M803.5,1401.0V1406.9M804.5,1401.0V1406.9M805.5,1401.0V1403.2M806.5,1401.0V1406.9M807.5,1401.0V1406.9M808.5,1401.0V1403.2M809.5,1401.0V1406.9M810.5,1401.0V1406.9M811.5,1401.0V1406.9M812.5,1401.0V1406.9M813.5,1401.0V1406.9M814.5,1401.0V1406.9M815.5,1401.0V1406.9M816.5,1401.0V1406.9M817.5,1401.0V1406.9M818.5,1401.0V1406.9M819.5,1401.0V1406.9M820.5,1401.0V1406.9M821.5,1401.0V1406.9M822.5,1401.0V1406.9M823.5,1401.0V1406.9M824.5,1401.0V1406.9M825.5,1401.0V1406.9M826.5,1401.0V1406.9M827.5,1401.0V1406.9M828.5,1401.0V1406.9M829.5,1401.0V1403.2M830.5,1401.0V1406.9M831.5,1401.0V1406.9M832.5,1401.0V1406.9M833.5,1401.0V1406.9M834.5,1401.0V1406.9M835.5,1401.0V1406.9M836.5,1401.0V1406.9M837.5,1401.0V1406.9M838.5,1401.0V1406.9M839.5,1401.0V1406.9M840.5,1401.0V1406.9M841.5,1401.0V1406.9M842.5,1401.0V1406.9M843.5,1401.0V1406.9M844.5,1401.0V1406.9M845.5,1401.0V1406.9M846.5,1401.0V1406.9M847.5,1401.0V1406.9M848.5,1401.0V1406.9M849.5,1401.0V1406.9M850.5,1401.0V1406.9M851.5,1401.0V1406.9M852.5,1401.0V1406.9M853.5,1401.0V1406.9M854.5,1401.0V1406.9M855.5,1401.0V1406.9M856.5,1401.0V1406.9M857.5,1401.0V1406.9M858.5,1401.0V1406.9M859.5,1401.0V1406.9M860.5,1401.0V1406.9M861.5,1401.0V1406.9M862.5,1401.0V1406.9M863.5,1401.0V1406.9M864.5,1401.0V1406.9M865.5,1401.0V1406.9M866.5,1401.0V1406.9M867.5,1401.0V1406.9M868.5,1401.0V1406.9M869.5,1401.0V1406.9M870.5,1401.0V1406.9M871.5,1401.0V1406.9M872.5,1401.0V1406.9M873.5,1401.0V1406.9M874.5,1401.0V1406.9M875.5,1401.0V1406.9M876.5,1401.0V1406.9M877.5,1401.0V1406.9M878.5,1401.0V1406.9M879.5,1401.0V1406.9M880.5,1401.0V1406.9M881.5,1401.0V1406.9M882.5,1401.0V1406.9M883.5,1401.0V1406.9M884.5,1401.0V1406.9M885.5,1401.0V1406.9M886.5,1401.0V1406.9M887.5,1401.0V1406.9M888.5,1401.0V1406.9M889.5,1401.0V1403.2M890.5,1401.0V1406.9M891.5,1401.0V1406.9M892.5,1401.0V1406.9M893.5,1401.0V1406.9M894.5,1401.0V1406.9M895.5,1401.0V1406.9M896.5,1401.0V1406.9M897.5,1401.0V1406.9M898.5,1401.0V1406.9M899.5,1401.0V1406.9M900.5,1401.0V1406.9M901.5,1401.0V1406.9M902.5,1401.0V1406.9M903.5,1401.0V1406.9M904.5,1401.0V1406.9M905.5,1401.0V1406.9M906.5,1401.0V1406.9M907.5,1401.0V1406.9M908.5,1401.0V1406.9M909.5,1401.0V1406.9M910.5,1401.0V1406.9M911.5,1401.0V1406.9M912.5,1401.0V1406.9M913.5,1401.0V1406.9M914.5,1401.0V1406.9M915.5,1401.0V1406.9M916.5,1401.0V1406.9M917.5,1401.0V1406.9M918.5,1401.0V1406.9M919.5,1401.0V1406.9M920.5,1401.0V1406.9M921.5,1401.0V1406.9M922.5,1401.0V1406.9M923.5,1401.0V1406.9M924.5,1401.0V1406.9M925.5,1401.0V1406.9M926.5,1401.0V1406.9M927.5,1401.0V1406.9M928.5,1401.0V1406.9M929.5,1401.0V1406.9M930.5,1401.0V1406.9M931.5,1401.0V1406.9M932.5,1401.0V1406.9M933.5,1401.0V1406.9M934.5,1401.0V1406.9M935.5,1401.0V1406.9M936.5,1401.0V1406.9M937.5,1401.0V1406.9M938.5,1401.0V1406.9M939.5,1401.0V1406.9M940.5,1401.0V1403.2M941.5,1401.0V1406.9M942.5,1401.0V1406.9M943.5,1401.0V1406.9M944.5,1401.0V1406.9M945.5,1401.0V1406.9M946.5,1401.0V1406.9M947.5,1401.0V1406.9M948.5,1401.0V1406.9M949.5,1401.0V1406.9M950.5,1401.0V1406.9M951.5,1401.0V1406.9M952.5,1401.0V1406.9M953.5,1401.0V1406.9M954.5,1401.0V1406.9M955.5,1401.0V1406.9M956.5,1401.0V1406.9M957.5,1401.0V1406.9M958.5,1401.0V1406.9M959.5,1401.0V1406.9M960.5,1401.0V1406.9M961.5,1401.0V1406.9M962.5,1401.0V1403.2M963.5,1401.0V1406.9M964.5,1401.0V1406.9M965.5,1401.0V1406.9M966.5,1401.0V1406.9M967.5,1401.0V1406.9M968.5,1401.0V1406.9M969.5,1401.0V1406.9M970.5,1401.0V1406.9M971.5,1401.0V1406.9M972.5,1401.0V1406.9M973.5,1401.0V1406.9M974.5,1401.0V1403.2M975.5,1401.0V1406.9M976.5,1401.0V1406.9M977.5,1401.0V1406.9M978.5,1401.0V1406.9M979.5,1401.0V1406.9M980.5,1401.0V1406.9M981.5,1401.0V1406.9M982.5,1401.0V1406.9M983.5,1401.0V1406.9M984.5,1401.0V1406.9M985.5,1401.0V1406.9M986.5,1401.0V1406.9M987.5,1401.0V1406.9M988.5,1401.0V1406.9M989.5,1401.0V1406.9M990.5,1401.0V1406.9M991.5,1401.0V1406.9M992.5,1401.0V1403.2M993.5,1401.0V1406.9M994.5,1401.0V1406.9M995.5,1401.0V1406.9M996.5,1401.0V1406.9M997.5,1401.0V1406.9M998.5,1401.0V1406.9M999.5,1401.0V1406.9M1000.5,1401.0V1406.9M1001.5,1401.0V1406.9M1002.5,1401.0V1406.9M1003.5,1401.0V1406.9M1004.5,1401.0V1406.9M1005.5,1401.0V1406.9M1006.5,1401.0V1406.9M1007.5,1401.0V1406.9M1008.5,1401.0V1406.9M1009.5,1401.0V1406.9M1010.5,1401.0V1406.9M1011.5,1401.0V1406.9M1012.5,1401.0V1406.9M1013.5,1401.0V1406.9M1014.5,1401.0V1406.9M1015.5,1401.0V1406.9M1016.5,1401.0V1406.9M1017.5,1401.0V1406.9M1018.5,1401.0V1406.9M1019.5,1401.0V1406.9M1020.5,1401.0V1406.9M1021.5,1401.0V1406.9M1022.5,1401.0V1406.9M1023.5,1401.0V1406.9M1024.5,1401.0V1406.9M1025.5,1401.0V1406.9M1026.5,1401.0V1406.9M1027.5,1401.0V1406.9M1028.5,1401.0V1406.9M1029.5,1401.0V1406.9M1030.5,1401.0V1406.9M1031.5,1401.0V1406.9M1032.5,1401.0V1406.9M1033.5,1401.0V1406.9M1034.5,1401.0V1406.9M1035.5,1401.0V1406.9M1036.5,1401.0V1406.9M1037.5,1401.0V1406.9M1038.5,1401.0V1406.9M1039.5,1401.0V1406.9M1040.5,1401.0V1406.9M1041.5,1401.0V1406.9M1042.5,1401.0V1406.9M1043.5,1401.0V1406.9M1044.5,1401.0V1406.9M1045.5,1401.0V1406.9M1046.5,1401.0V1406.9M1047.5,1401.0V1406.9M1048.5,1401.0V1406.9M1049.5,1401.0V1406.9M1050.5,1401.0V1406.9M1051.5,1401.0V1406.9M1052.5,1401.0V1403.2M1053.5,1401.0V1406.9M1054.5,1401.0V1403.2M1055.5,1401.0V1406.9M1056.5,1401.0V1406.9M1057.5,1401.0V1406.9M1058.5,1401.0V1406.9M1059.5,1401.0V1406.9M1060.5,1401.0V1406.9M1061.5,1401.0V1406.9M1062.5,1401.0V1406.9M1063.5,1401.0V1406.9M1064.5,1401.0V1406.9M1065.5,1401.0V1406.9M1066.5,1401.0V1406.9M1067.5,1401.0V1406.9M1068.5,1401.0V1406.9M1069.5,1401.0V1406.9M1070.5,1401.0V1406.9M1071.5,1401.0V1406.9M1072.5,1401.0V1406.9M1073.5,1401.0V1406.9M1074.5,1401.0V1406.9M1075.5,1401.0V1406.9M1076.5,1401.0V1406.9M1077.5,1401.0V1406.9M1078.5,1401.0V1406.9M1079.5,1401.0V1406.9M1080.5,1401.0V1406.9M1081.5,1401.0V1406.9M1082.5,1401.0V1406.9M1083.5,1401.0V1403.2M1084.5,1401.0V1406.9M1085.5,1401.0V1406.9M1086.5,1401.0V1406.9M1087.5,1401.0V1406.9M1088.5,1401.0V1406.9M1089.5,1401.0V1406.9M1090.5,1401.0V1406.9M1091.5,1401.0V1406.9M1092.5,1401.0V1406.9M1093.5,1401.0V1406.9M1094.5,1401.0V1406.9M1095.5,1401.0V1406.9M1096.5,1401.0V1406.9M1097.5,1401.0V1406.9M1098.5,1401.0V1406.9M1099.5,1401.0V1406.9M1100.5,1401.0V1406.9M1101.5,1401.0V1406.9M1102.5,1401.0V1406.9M1103.5,1401.0V1406.9M1104.5,1401.0V1406.9M1105.5,1401.0V1406.9M1106.5,1401.0V1406.9M1107.5,1401.0V1406.9M1108.5,1401.0V1406.9M1109.5,1401.0V1406.9M1110.5,1401.0V1406.9M1111.5,1401.0V1406.9M1112.5,1401.0V1406.9M1113.5,1401.0V1406.9M1114.5,1401.0V1406.9M1115.5,1401.0V1406.9M1116.5,1401.0V1406.9M1117.5,1401.0V1406.9M1118.5,1401.0V1403.2M1119.5,1401.0V1406.9M1120.5,1401.0V1406.9M1121.5,1401.0V1406.9M1122.5,1401.0V1403.2M1123.5,1401.0V1406.9M1124.5,1401.0V1406.9M1125.5,1401.0V1406.9M1126.5,1401.0V1406.9M1127.5,1401.0V1406.9M1128.5,1401.0V1406.9M1129.5,1401.0V1406.9M1130.5,1401.0V1406.9M1131.5,1401.0V1406.9M1132.5,1401.0V1406.9M1133.5,1401.0V1406.9M1134.5,1401.0V1406.9M1135.5,1401.0V1406.9M1136.5,1401.0V1406.9M1137.5,1401.0V1406.9M1138.5,1401.0V1406.9M1139.5,1401.0V1406.9M1140.5,1401.0V1406.9M1141.5,1401.0V1406.9M1142.5,1401.0V1406.9M1143.5,1401.0V1406.9M1144.5,1401.0V1406.9M1145.5,1401.0V1406.9M1146.5,1401.0V1406.9M1147.5,1401.0V1406.9M1148.5,1401.0V1406.9M1149.5,1401.0V1406.9M1150.5,1401.0V1406.9M1151.5,1401.0V1403.2M1152.5,1401.0V1406.9M1153.5,1401.0V1406.9" stroke="#00ff00" stroke-width="1.05" fill="none"/>
<path d="M355.5,1382.3V1391.0M362.5,1382.3V1391.0M366.5,1382.3V1391.0M367.5,1382.3V1391.0M377.5,1382.3V1391.0M394.5,1382.3V1391.0M395.5,1382.3V1391.0M398.5,1382.3V1391.0M399.5,1382.3V1391.0M400.5,1382.3V1391.0M401.5,1382.3V1391.0M402.5,1382.3V1391.0M403.5,1382.3V1391.0M404.5,1382.3V1391.0M405.5,1382.3V1391.0M406.5,1382.3V1391.0M407.5,1382.3V1391.0M408.5,1382.3V1391.0M409.5,1382.3V1391.0M410.5,1382.3V1391.0M411.5,1382.3V1391.0M412.5,1382.3V1391.0M413.5,1382.3V1391.0M414.5,1382.3V1391.0M415.5,1382.3V1391.0M416.5,1382.3V1391.0M417.5,1382.3V1391.0M418.5,1382.3V1391.0M419.5,1382.3V1391.0M420.5,1382.3V1391.0M421.5,1382.3V1391.0M422.5,1382.3V1391.0M423.5,1382.3V1391.0M424.5,1382.3V1391.0M425.5,1382.3V1391.0M426.5,1382.3V1391.0M427.5,1382.3V1391.0M428.5,1382.3V1391.0M429.5,1382.3V1391.0M430.5,1382.3V1391.0M431.5,1382.3V1391.0M432.5,1382.3V1391.0M433.5,1382.3V1391.0M434.5,1382.3V1391.0M435.5,1382.3V1391.0M436.5,1382.3V1391.0M437.5,1382.3V1391.0M438.5,1382.3V1391.0M439.5,1382.3V1391.0M440.5,1382.3V1391.0M441.5,1382.3V1391.0M442.5,1382.3V1391.0M443.5,1382.3V1391.0M444.5,1382.3V1391.0M445.5,1382.3V1391.0M446.5,1382.3V1391.0M447.5,1382.3V1391.0M448.5,1382.3V1391.0M449.5,1382.3V1391.0M450.5,1382.3V1391.0M451.5,1382.3V1391.0M452.5,1382.3V1391.0M453.5,1382.3V1391.0M454.5,1382.3V1391.0M455.5,1382.3V1391.0M456.5,1382.3V1391.0M457.5,1382.3V1391.0M458.5,1382.3V1391.0M459.5,1382.3V1391.0M460.5,1382.3V1391.0M461.5,1382.3V1391.0M462.5,1382.3V1391.0M463.5,1382.3V1391.0M464.5,1382.3V1391.0M465.5,1382.3V1391.0M466.5,1382.3V1391.0M467.5,1382.3V1391.0M468.5,1382.3V1391.0M469.5,1382.3V1391.0M470.5,1382.3V1391.0M471.5,1382.3V1391.0M472.5,1382.3V1391.0M473.5,1382.3V1391.0M474.5,1382.3V1391.0M475.5,1382.3V1391.0M476.5,1382.3V1391.0M477.5,1382.3V1391.0M478.5,1382.3V1391.0M479.5,1382.3V1391.0M480.5,1382.3V1391.0M481.5,1382.3V1391.0M482.5,1382.3V1391.0M483.5,1382.3V1391.0M484.5,1382.3V1391.0M485.5,1382.3V1391.0M486.5,1382.3V1391.0M487.5,1382.3V1391.0M488.5,1382.3V1391.0M489.5,1382.3V1391.0M490.5,1382.3V1391.0M491.5,1382.3V1391.0M492.5,1382.3V1391.0M493.5,1382.3V1391.0M494.5,1382.3V1391.0M495.5,1382.3V1391.0M496.5,1382.3V1391.0M497.5,1382.3V1391.0M498.5,1382.3V1391.0M499.5,1382.3V1391.0M500.5,1382.3V1391.0M501.5,1382.3V1391.0M502.5,1382.3V1391.0M503.5,1382.3V1391.0M504.5,1382.3V1391.0M505.5,1382.3V1391.0M506.5,1382.3V1391.0M507.5,1382.3V1391.0M508.5,1382.3V1391.0M509.5,1382.3V1391.0M510.5,1382.3V1391.0M511.5,1382.3V1391.0M512.5,1382.3V1391.0M513.5,1382.3V1391.0M514.5,1382.3V1391.0M515.5,1382.3V1391.0M516.5,1382.3V1391.0M517.5,1382.3V1391.0M518.5,1382.3V1391.0M519.5,1382.3V1391.0M520.5,1382.3V1391.0M521.5,1382.3V1391.0M522.5,1382.3V1391.0M523.5,1382.3V1391.0M524.5,1382.3V1391.0M525.5,1382.3V1391.0M526.5,1382.3V1391.0M527.5,1382.3V1391.0M528.5,1382.3V1391.0M529.5,1382.3V1391.0M530.5,1382.3V1391.0M531.5,1382.3V1391.0M532.5,1382.3V1391.0M533.5,1382.3V1391.0M534.5,1382.3V1391.0M535.5,1382.3V1391.0M536.5,1382.3V1391.0M537.5,1382.3V1391.0M538.5,1382.3V1391.0M539.5,1382.3V1391.0M540.5,1382.3V1391.0M541.5,1382.3V1391.0M542.5,1382.3V1391.0M543.5,1382.3V1391.0M544.5,1382.3V1391.0" stroke="#00ffff" stroke-width="1.05" fill="none"/>
<path d="M165.5,1382.3V1401.0M166.5,1390.8V1401.0M167.5,1382.3V1401.0M168.5,1382.3V1401.0M169.5,1382.3V1401.0M170.5,1382.3V1401.0M171.5,1382.3V1401.0M172.5,1382.3V1401.0M173.5,1382.3V1401.0M174.5,1382.3V1401.0M175.5,1390.8V1401.0M176.5,1382.3V1401.0M177.5,1390.8V1401.0M178.5,1390.8V1401.0M179.5,1390.8V1401.0M180.5,1382.3V1401.0M181.5,1382.3V1401.0M182.5,1390.8V1401.0M183.5,1390.8V1401.0M184.5,1382.3V1401.0M185.5,1390.8V1401.0M186.5,1382.3V1401.0M187.5,1382.3V1401.0M188.5,1390.8V1401.0M189.5,1382.3V1401.0M190.5,1390.8V1401.0M191.5,1382.3V1409.2M192.5,1382.3V1401.0M193.5,1390.8V1401.0M194.5,1382.3V1401.0M195.5,1390.8V1401.0M196.5,1382.3V1401.0M197.5,1390.8V1401.0M198.5,1390.8V1401.0M199.5,1382.3V1409.2M200.5,1382.3V1401.0M201.5,1390.8V1409.2M202.5,1382.3V1401.0M203.5,1382.3V1401.0M204.5,1390.8V1401.0M205.5,1382.3V1401.0M206.5,1390.8V1401.0M207.5,1382.3V1401.0M208.5,1390.8V1401.0M209.5,1382.3V1401.0M210.5,1382.3V1401.0M211.5,1390.8V1401.0M212.5,1390.8V1409.2M213.5,1390.8V1401.0M214.5,1382.3V1409.2M215.5,1390.8V1409.2M216.5,1390.8V1401.0M217.5,1382.3V1401.0M218.5,1382.3V1401.0M219.5,1382.3V1401.0M220.5,1390.8V1401.0M221.5,1382.3V1401.0M222.5,1382.3V1401.0M223.5,1390.8V1401.0M224.5,1382.3V1406.0M225.5,1390.8V1401.0M226.5,1382.3V1401.0M227.5,1382.3V1409.2M228.5,1382.3V1401.0M229.5,1390.8V1401.0M230.5,1382.3V1401.0M231.5,1382.3V1401.0M232.5,1382.3V1401.0M233.5,1390.8V1401.0M234.5,1382.3V1401.0M235.5,1382.3V1401.0M236.5,1382.3V1401.0M237.5,1390.8V1401.0M238.5,1390.8V1409.2M239.5,1382.3V1401.0M240.5,1390.8V1401.0M241.5,1382.3V1401.0M242.5,1382.3V1401.0M243.5,1390.8V1401.0M244.5,1390.8V1401.0M245.5,1382.3V1401.0M246.5,1382.3V1401.0M247.5,1390.8V1401.0M248.5,1382.3V1401.0M249.5,1382.3V1401.0M250.5,1390.8V1401.0M251.5,1390.8V1401.0M252.5,1390.8V1401.0M253.5,1382.3V1401.0M254.5,1390.8V1401.0M255.5,1382.3V1401.0M256.5,1382.3V1401.0M257.5,1382.3V1401.0M258.5,1382.3V1406.0M259.5,1390.8V1401.0M260.5,1382.3V1401.0M261.5,1390.8V1406.0M262.5,1390.8V1401.0M263.5,1390.8V1401.0M264.5,1382.3V1401.0M265.5,1382.3V1401.0M266.5,1382.3V1401.0M267.5,1382.3V1401.0M268.5,1390.8V1401.0M269.5,1382.3V1401.0M270.5,1390.8V1401.0M271.5,1382.3V1401.0M272.5,1382.3V1401.0M273.5,1382.3V1401.0M274.5,1382.3V1401.0M275.5,1382.3V1401.0M276.5,1390.8V1409.2M277.5,1382.3V1401.0M278.5,1390.8V1401.0M279.5,1382.3V1409.2M280.5,1382.3V1409.2M281.5,1390.8V1401.0M282.5,1390.8V1406.0M283.5,1382.3V1401.0M284.5,1382.3V1401.0M285.5,1390.8V1401.0M286.5,1390.8V1409.2M287.5,1390.8V1401.0M288.5,1390.8V1401.0M289.5,1382.3V1401.0M290.5,1390.8V1401.0M291.5,1382.3V1401.0M292.5,1382.3V1401.0M293.5,1382.3V1401.0M294.5,1390.8V1401.0M295.5,1382.3V1401.0M296.5,1390.8V1409.2M297.5,1382.3V1409.2M298.5,1382.3V1401.0M299.5,1382.3V1409.2M300.5,1390.8V1401.0M301.5,1382.3V1409.2M302.5,1390.8V1401.0M303.5,1390.8V1409.2M304.5,1390.8V1401.0M305.5,1390.8V1401.0M306.5,1390.8V1401.0M307.5,1382.3V1401.0M308.5,1382.3V1401.0M309.5,1382.3V1401.0M310.5,1390.8V1401.0M311.5,1382.3V1401.0M312.5,1382.3V1401.0M313.5,1390.8V1401.0M314.5,1390.8V1401.0M315.5,1382.3V1401.0M316.5,1390.8V1401.0M317.5,1382.3V1401.0M318.5,1382.3V1409.2M319.5,1390.8V1409.2M320.5,1382.3V1401.0M321.5,1390.8V1409.2M322.5,1390.8V1401.0M323.5,1382.3V1401.0M324.5,1390.8V1409.2M325.5,1390.8V1401.0M326.5,1390.8V1401.0M327.5,1390.8V1401.0M328.5,1382.3V1401.0M329.5,1382.3V1401.0M330.5,1382.3V1401.0M331.5,1390.8V1401.0M332.5,1382.3V1409.2M333.5,1390.8V1401.0M334.5,1382.3V1401.0M335.5,1382.3V1401.0M336.5,1390.8V1401.0M337.5,1382.3V1401.0M338.5,1390.8V1401.0M339.5,1390.8V1401.0M340.5,1382.3V1401.0M341.5,1390.8V1401.0M342.5,1390.8V1401.0M343.5,1382.3V1401.0M344.5,1382.3V1401.0M345.5,1382.3V1401.0M346.5,1390.8V1409.2M347.5,1382.3V1409.2M348.5,1390.8V1401.0M349.5,1382.3V1401.0M350.5,1390.8V1401.0M351.5,1382.3V1409.2M352.5,1390.8V1409.2M353.5,1390.8V1401.0M354.5,1382.3V1401.0M355.5,1382.3V1401.0M356.5,1390.8V1401.0M357.5,1390.8V1401.0M358.5,1382.3V1401.0M359.5,1382.3V1401.0M360.5,1390.8V1401.0M361.5,1382.3V1401.0M362.5,1390.8V1401.0M363.5,1382.3V1401.0M364.5,1390.8V1401.0M365.5,1382.3V1409.2M366.5,1382.3V1401.0M367.5,1382.3V1401.0M368.5,1390.8V1409.2M369.5,1382.3V1401.0M370.5,1382.3V1401.0M371.5,1390.8V1401.0M372.5,1382.3V1401.0M373.5,1382.3V1401.0M374.5,1382.3V1401.0M375.5,1390.8V1401.0M376.5,1390.8V1401.0M377.5,1382.3V1401.0M378.5,1390.8V1401.0M379.5,1382.3V1409.2M380.5,1390.8V1401.0M381.5,1390.8V1401.0M382.5,1382.3V1401.0M383.5,1390.8V1401.0M384.5,1382.3V1401.0M385.5,1390.8V1401.0M386.5,1390.8V1401.0M387.5,1382.3V1401.0M388.5,1382.3V1401.0M389.5,1382.3V1401.0M390.5,1382.3V1409.2M391.5,1382.3V1409.2M392.5,1382.3V1401.0M393.5,1382.3V1401.0M394.5,1382.3V1401.0M395.5,1390.8V1401.0M396.5,1390.8V1401.0M397.5,1382.3V1401.0M398.5,1382.3V1401.0M399.5,1390.8V1409.2M400.5,1382.3V1401.0M401.5,1382.3V1409.2M402.5,1390.8V1401.0M403.5,1390.8V1401.0M404.5,1390.8V1401.0M405.5,1390.8V1401.0M406.5,1390.8V1401.0M407.5,1382.3V1401.0M408.5,1382.3V1401.0M409.5,1390.8V1401.0M410.5,1382.3V1401.0M411.5,1390.8V1409.2M412.5,1390.8V1401.0M413.5,1390.8V1401.0M414.5,1390.8V1401.0M415.5,1390.8V1401.0M416.5,1390.8V1401.0M417.5,1390.8V1401.0M418.5,1382.3V1409.2M419.5,1390.8V1409.2M420.5,1382.3V1401.0M421.5,1382.3V1401.0M422.5,1382.3V1401.0M423.5,1382.3V1401.0M424.5,1390.8V1401.0M425.5,1382.3V1409.2M426.5,1382.3V1401.0M427.5,1390.8V1401.0M428.5,1382.3V1401.0M429.5,1390.8V1401.0M430.5,1382.3V1409.2M431.5,1390.8V1409.2M432.5,1382.3V1409.2M433.5,1382.3V1409.2M434.5,1390.8V1401.0M435.5,1382.3V1401.0M436.5,1382.3V1401.0M437.5,1390.8V1401.0M438.5,1390.8V1401.0M439.5,1382.3V1401.0M440.5,1390.8V1401.0M441.5,1390.8V1401.0M442.5,1390.8V1401.0M443.5,1390.8V1401.0M444.5,1382.3V1401.0M445.5,1382.3V1401.0M446.5,1382.3V1401.0M447.5,1382.3V1401.0M448.5,1390.8V1409.2M449.5,1390.8V1401.0M450.5,1390.8V1401.0M451.5,1390.8V1401.0M452.5,1382.3V1401.0M453.5,1390.8V1401.0M454.5,1390.8V1409.2M455.5,1382.3V1401.0M456.5,1390.8V1401.0M457.5,1390.8V1401.0M458.5,1382.3V1401.0M459.5,1390.8V1401.0M460.5,1382.3V1401.0M461.5,1390.8V1401.0M462.5,1382.3V1401.0M463.5,1382.3V1401.0M464.5,1382.3V1401.0M465.5,1382.3V1401.0M466.5,1390.8V1401.0M467.5,1382.3V1401.0M468.5,1382.3V1409.2M469.5,1382.3V1401.0M470.5,1390.8V1401.0M471.5,1390.8V1401.0M472.5,1390.8V1401.0M473.5,1390.8V1401.0M474.5,1382.3V1401.0M475.5,1390.8V1401.0M476.5,1382.3V1401.0M477.5,1382.3V1401.0M478.5,1382.3V1401.0M479.5,1382.3V1401.0M480.5,1382.3V1401.0M481.5,1382.3V1401.0M482.5,1382.3V1401.0M483.5,1390.8V1409.2M484.5,1382.3V1401.0M485.5,1390.8V1401.0M486.5,1382.3V1401.0M487.5,1382.3V1401.0M488.5,1382.3V1401.0M489.5,1390.8V1409.2M490.5,1390.8V1401.0M491.5,1382.3V1409.2M492.5,1382.3V1401.0M493.5,1382.3V1401.0M494.5,1382.3V1409.2M495.5,1382.3V1401.0M496.5,1390.8V1401.0M497.5,1382.3V1401.0M498.5,1382.3V1401.0M499.5,1382.3V1409.2M500.5,1390.8V1401.0M501.5,1390.8V1401.0M502.5,1382.3V1401.0M503.5,1390.8V1401.0M504.5,1382.3V1401.0M505.5,1382.3V1401.0M506.5,1382.3V1401.0M507.5,1382.3V1401.0M508.5,1382.3V1409.2M509.5,1390.8V1401.0M510.5,1382.3V1401.0M511.5,1390.8V1401.0M512.5,1382.3V1409.2M513.5,1382.3V1401.0M514.5,1390.8V1401.0M515.5,1382.3V1401.0M516.5,1390.8V1401.0M517.5,1390.8V1406.0M518.5,1390.8V1401.0M519.5,1390.8V1401.0M520.5,1382.3V1401.0M521.5,1390.8V1401.0M522.5,1382.3V1401.0M523.5,1382.3V1409.2M524.5,1390.8V1401.0M525.5,1390.8V1401.0M526.5,1382.3V1401.0M527.5,1382.3V1401.0M528.5,1382.3V1401.0M529.5,1382.3V1401.0M530.5,1382.3V1401.0M531.5,1382.3V1401.0M532.5,1382.3V1401.0M533.5,1382.3V1401.0M534.5,1390.8V1401.0M535.5,1390.8V1409.2M536.5,1390.8V1401.0M537.5,1382.3V1401.0M538.5,1382.3V1401.0M539.5,1382.3V1401.0M540.5,1382.3V1409.2M541.5,1390.8V1401.0M542.5,1382.3V1401.0M543.5,1390.8V1401.0M544.5,1382.3V1401.0M545.5,1382.3V1401.0M546.5,1382.3V1390.5M547.5,1382.3V1401.0M548.5,1382.3V1401.0M549.5,1382.3V1401.0M550.5,1382.3V1401.0M551.5,1382.3V1390.5M552.5,1382.3V1406.0M553.5,1390.8V1409.2M554.5,1382.3V1390.5M555.5,1382.3V1401.0M556.5,1382.3V1406.0M557.5,1390.8V1401.0M558.5,1382.3V1409.2M559.5,1382.3V1409.2M560.5,1382.3V1401.0M561.5,1382.3V1390.5M562.5,1382.3V1401.0M563.5,1382.3V1406.0M564.5,1382.3V1401.0M565.5,1382.3V1401.0M566.5,1382.3V1409.2M567.5,1382.3V1401.0M568.5,1382.3V1401.0M569.5,1382.3V1401.0M570.5,1382.3V1390.5M571.5,1382.3V1401.0M572.5,1382.3V1401.0M573.5,1382.3V1409.2M574.5,1382.3V1401.0M575.5,1382.3V1401.0M576.5,1382.3V1401.0M577.5,1382.3V1390.5M578.5,1382.3V1401.0M579.5,1382.3V1401.0M580.5,1382.3V1401.0M581.5,1382.3V1401.0M582.5,1382.3V1401.0M583.5,1382.3V1401.0M584.5,1382.3V1390.5M585.5,1382.3V1390.5M586.5,1382.3V1401.0M587.5,1382.3V1401.0M588.5,1382.3V1401.0M589.5,1382.3V1401.0M590.5,1382.3V1401.0M591.5,1382.3V1390.5M592.5,1382.3V1390.5M593.5,1382.3V1401.0M594.5,1382.3V1401.0M595.5,1382.3V1401.0M596.5,1382.3V1401.0M597.5,1382.3V1401.0M598.5,1382.3V1390.5M599.5,1382.3V1409.2M600.5,1382.3V1401.0M601.5,1382.3V1401.0M602.5,1382.3V1401.0M603.5,1382.3V1401.0M604.5,1382.3V1390.5M605.5,1382.3V1390.5M606.5,1382.3V1401.0M607.5,1382.3V1401.0M608.5,1382.3V1390.5M609.5,1382.3V1401.0M610.5,1382.3V1401.0M611.5,1382.3V1401.0M612.5,1382.3V1401.0M613.5,1382.3V1390.5M614.5,1382.3V1401.0M615.5,1382.3V1390.5M616.5,1382.3V1401.0M617.5,1382.3V1401.0M618.5,1390.8V1401.0M619.5,1382.3V1409.2M620.5,1382.3V1390.5M621.5,1382.3V1401.0M622.5,1382.3V1409.2M623.5,1382.3V1401.0M624.5,1382.3V1401.0M625.5,1382.3V1401.0M626.5,1382.3V1401.0M627.5,1382.3V1406.0M628.5,1382.3V1401.0M629.5,1382.3V1401.0M630.5,1382.3V1401.0M631.5,1382.3V1401.0M632.5,1382.3V1401.0M633.5,1382.3V1390.5M634.5,1382.3V1406.0M635.5,1382.3V1401.0M636.5,1390.8V1409.2M637.5,1382.3V1401.0M638.5,1382.3V1401.0M639.5,1382.3V1401.0M640.5,1382.3V1401.0M641.5,1382.3V1409.2M642.5,1382.3V1401.0M643.5,1382.3V1390.5M644.5,1382.3V1409.2M645.5,1382.3V1401.0M646.5,1382.3V1401.0M647.5,1382.3V1401.0M648.5,1382.3V1390.5M649.5,1382.3V1390.5M650.5,1382.3V1390.5M651.5,1382.3V1401.0M652.5,1390.8V1401.0M653.5,1382.3V1409.2M654.5,1382.3V1401.0M655.5,1382.3V1401.0M656.5,1382.3V1401.0M657.5,1382.3V1401.0M658.5,1382.3V1401.0M659.5,1382.3V1401.0M660.5,1382.3V1401.0M661.5,1382.3V1401.0M662.5,1382.3V1401.0M663.5,1382.3V1401.0M664.5,1382.3V1401.0M665.5,1382.3V1401.0M666.5,1382.3V1390.5M667.5,1390.8V1401.0M668.5,1382.3V1401.0M669.5,1382.3V1401.0M670.5,1382.3V1401.0M671.5,1382.3V1401.0M672.5,1382.3V1390.5M673.5,1382.3V1390.5M674.5,1382.3V1390.5M675.5,1382.3V1390.5M676.5,1382.3V1401.0M678.5,1382.3V1401.0M679.5,1382.3V1409.2M680.5,1382.3V1401.0M681.5,1382.3V1401.0M682.5,1382.3V1401.0M683.5,1382.3V1401.0M684.5,1382.3V1401.0M685.5,1382.3V1401.0M686.5,1382.3V1401.0M687.5,1382.3V1401.0M688.5,1382.3V1401.0M689.5,1382.3V1401.0M690.5,1382.3V1401.0M691.5,1382.3V1401.0M692.5,1382.3V1390.5M693.5,1382.3V1390.5M694.5,1382.3V1401.0M695.5,1382.3V1390.5M696.5,1382.3V1401.0M697.5,1382.3V1390.5M698.5,1382.3V1409.2M700.5,1382.3V1401.0M701.5,1382.3V1401.0M702.5,1382.3V1401.0M703.5,1382.3V1401.0M704.5,1382.3V1401.0M705.5,1382.3V1390.5M706.5,1382.3V1401.0M707.5,1382.3V1401.0M708.5,1382.3V1401.0M709.5,1382.3V1390.5M710.5,1382.3V1401.0M711.5,1390.8V1401.0M712.5,1382.3V1401.0M713.5,1382.3V1401.0M714.5,1382.3V1401.0M715.5,1382.3V1401.0M716.5,1382.3V1390.5M717.5,1382.3V1406.0M719.5,1382.3V1401.0M720.5,1382.3V1390.5M721.5,1382.3V1401.0M722.5,1382.3V1401.0M723.5,1382.3V1390.5M724.5,1382.3V1390.5M725.5,1390.8V1401.0M726.5,1382.3V1401.0M727.5,1382.3V1401.0M728.5,1382.3V1401.0M729.5,1382.3V1390.5M730.5,1382.3V1401.0M731.5,1382.3V1401.0M732.5,1382.3V1401.0M733.5,1382.3V1401.0M734.5,1382.3V1401.0M735.5,1382.3V1401.0M736.5,1382.3V1401.0M737.5,1382.3V1401.0M738.5,1382.3V1401.0M739.5,1382.3V1390.5M740.5,1382.3V1401.0M741.5,1382.3V1401.0M742.5,1382.3V1401.0M743.5,1382.3V1401.0M744.5,1382.3V1390.5M745.5,1382.3V1401.0M746.5,1382.3V1401.0M747.5,1382.3V1401.0M748.5,1382.3V1401.0M749.5,1382.3V1390.5M750.5,1382.3V1401.0M751.5,1382.3V1401.0M752.5,1382.3V1390.5M753.5,1382.3V1401.0M754.5,1382.3V1390.5M755.5,1382.3V1401.0M756.5,1382.3V1390.5M757.5,1382.3V1401.0M758.5,1382.3V1390.5M759.5,1382.3V1401.0M760.5,1382.3V1401.0M761.5,1382.3V1401.0M762.5,1382.3V1401.0M763.5,1382.3V1390.5M764.5,1382.3V1401.0M765.5,1382.3V1401.0M766.5,1382.3V1390.5M767.5,1382.3V1401.0M769.5,1382.3V1401.0M770.5,1382.3V1401.0M771.5,1382.3V1401.0M772.5,1382.3V1401.0M773.5,1382.3V1401.0M774.5,1382.3V1390.5M775.5,1382.3V1401.0M776.5,1382.3V1401.0M777.5,1382.3V1401.0M778.5,1382.3V1401.0M779.5,1382.3V1401.0M780.5,1382.3V1401.0M781.5,1382.3V1401.0M783.5,1382.3V1401.0M784.5,1382.3V1401.0M785.5,1382.3V1401.0M786.5,1382.3V1390.5M787.5,1382.3V1390.5M788.5,1382.3V1401.0M789.5,1382.3V1401.0M790.5,1382.3V1401.0M791.5,1382.3V1401.0M792.5,1382.3V1390.5M793.5,1382.3V1390.5M794.5,1382.3V1401.0M795.5,1382.3V1406.0M796.5,1382.3V1401.0M797.5,1382.3V1390.5M798.5,1390.8V1401.0M799.5,1382.3V1401.0M800.5,1382.3V1401.0M801.5,1382.3V1390.5M802.5,1382.3V1401.0M803.5,1382.3V1401.0M804.5,1382.3V1390.5M805.5,1382.3V1401.0M806.5,1382.3V1390.5M807.5,1382.3V1401.0M808.5,1382.3V1401.0M809.5,1382.3V1401.0M810.5,1382.3V1401.0M811.5,1382.3V1390.5M812.5,1382.3V1401.0M813.5,1382.3V1401.0M814.5,1382.3V1401.0M815.5,1382.3V1401.0M816.5,1382.3V1390.5M817.5,1382.3V1401.0M818.5,1382.3V1401.0M819.5,1382.3V1401.0M820.5,1390.8V1401.0M821.5,1382.3V1390.5M822.5,1382.3V1401.0M823.5,1382.3V1401.0M824.5,1382.3V1401.0M825.5,1382.3V1401.0M826.5,1382.3V1401.0M827.5,1382.3V1401.0M828.5,1382.3V1390.5M829.5,1382.3V1401.0M830.5,1382.3V1401.0M831.5,1382.3V1390.5M832.5,1382.3V1401.0M833.5,1382.3V1390.5M834.5,1382.3V1390.5M835.5,1382.3V1401.0M836.5,1382.3V1390.5M837.5,1382.3V1390.5M838.5,1382.3V1401.0M839.5,1382.3V1401.0M840.5,1382.3V1401.0M841.5,1382.3V1390.5M842.5,1382.3V1401.0M843.5,1382.3V1401.0M844.5,1382.3V1401.0M845.5,1382.3V1401.0M846.5,1382.3V1390.5M847.5,1382.3V1390.5M848.5,1382.3V1401.0M849.5,1382.3V1390.5M850.5,1382.3V1401.0M851.5,1382.3V1401.0M852.5,1382.3V1390.5M853.5,1382.3V1401.0M854.5,1382.3V1401.0M855.5,1382.3V1401.0M856.5,1382.3V1401.0M857.5,1382.3V1401.0M858.5,1382.3V1401.0M859.5,1382.3V1390.5M860.5,1382.3V1401.0M861.5,1382.3V1390.5M862.5,1382.3V1401.0M863.5,1382.3V1401.0M864.5,1382.3V1390.5M865.5,1382.3V1401.0M866.5,1382.3V1401.0M867.5,1382.3V1401.0M868.5,1382.3V1390.5M869.5,1382.3V1401.0M870.5,1382.3V1390.5M871.5,1382.3V1401.0M872.5,1382.3V1401.0M873.5,1382.3V1390.5M874.5,1382.3V1401.0M875.5,1382.3V1390.5M876.5,1382.3V1390.5M877.5,1382.3V1401.0M878.5,1382.3V1390.5M879.5,1382.3V1401.0M880.5,1382.3V1401.0M881.5,1382.3V1401.0M882.5,1382.3V1401.0M883.5,1382.3V1401.0M884.5,1382.3V1401.0M885.5,1382.3V1390.5M886.5,1382.3V1390.5M887.5,1382.3V1390.5M888.5,1382.3V1401.0M889.5,1382.3V1401.0M890.5,1390.8V1401.0M891.5,1382.3V1390.5M892.5,1382.3V1401.0M893.5,1382.3V1401.0M894.5,1382.3V1390.5M895.5,1382.3V1401.0M896.5,1382.3V1390.5M897.5,1382.3V1401.0M898.5,1382.3V1401.0M899.5,1382.3V1401.0M900.5,1382.3V1390.5M901.5,1382.3V1401.0M902.5,1382.3V1401.0M903.5,1382.3V1401.0M904.5,1382.3V1401.0M905.5,1382.3V1401.0M906.5,1382.3V1401.0M907.5,1382.3V1390.5M908.5,1382.3V1401.0M909.5,1382.3V1390.5M910.5,1382.3V1401.0M911.5,1382.3V1401.0M912.5,1382.3V1401.0M913.5,1390.8V1401.0M914.5,1382.3V1401.0M915.5,1382.3V1401.0M916.5,1382.3V1390.5M917.5,1382.3V1401.0M918.5,1382.3V1390.5M919.5,1382.3V1390.5M920.5,1382.3V1401.0M921.5,1382.3V1401.0M922.5,1382.3V1401.0M923.5,1382.3V1401.0M924.5,1382.3V1401.0M925.5,1382.3V1401.0M926.5,1382.3V1401.0M927.5,1382.3V1401.0M928.5,1382.3V1390.5M930.5,1382.3V1390.5M931.5,1382.3V1390.5M932.5,1382.3V1401.0M933.5,1382.3V1401.0M934.5,1382.3V1401.0M935.5,1382.3V1390.5M936.5,1382.3V1401.0M937.5,1382.3V1390.5M938.5,1382.3V1401.0M939.5,1382.3V1401.0M940.5,1382.3V1401.0M941.5,1382.3V1401.0M942.5,1382.3V1401.0M943.5,1382.3V1390.5M944.5,1382.3V1401.0M945.5,1382.3V1401.0M946.5,1382.3V1401.0M947.5,1382.3V1401.0M948.5,1382.3V1390.5M949.5,1382.3V1390.5M950.5,1382.3V1401.0M951.5,1382.3V1401.0M952.5,1382.3V1401.0M953.5,1382.3V1401.0M954.5,1382.3V1401.0M955.5,1382.3V1401.0M956.5,1382.3V1401.0M957.5,1382.3V1401.0M958.5,1382.3V1390.5M959.5,1382.3V1390.5M960.5,1382.3V1401.0M961.5,1382.3V1401.0M962.5,1382.3V1401.0M963.5,1382.3V1401.0M964.5,1382.3V1401.0M965.5,1382.3V1401.0M966.5,1382.3V1401.0M967.5,1382.3V1401.0M968.5,1382.3V1401.0M969.5,1382.3V1401.0M970.5,1382.3V1390.5M971.5,1382.3V1401.0M972.5,1382.3V1401.0M973.5,1382.3V1401.0M974.5,1382.3V1401.0M975.5,1382.3V1401.0M976.5,1382.3V1401.0M977.5,1382.3V1390.5M978.5,1382.3V1401.0M979.5,1382.3V1401.0M980.5,1382.3V1401.0M981.5,1382.3V1401.0M982.5,1382.3V1390.5M983.5,1382.3V1401.0M984.5,1382.3V1401.0M985.5,1390.8V1401.0M986.5,1382.3V1401.0M987.5,1382.3V1401.0M988.5,1382.3V1401.0M989.5,1382.3V1401.0M990.5,1382.3V1390.5M991.5,1382.3V1401.0M992.5,1382.3V1390.5M993.5,1382.3V1390.5M994.5,1382.3V1390.5M995.5,1382.3V1401.0M996.5,1382.3V1390.5M997.5,1382.3V1401.0M998.5,1382.3V1390.5M999.5,1382.3V1401.0M1000.5,1382.3V1401.0M1001.5,1382.3V1401.0M1002.5,1382.3V1390.5M1003.5,1382.3V1390.5M1004.5,1382.3V1401.0M1005.5,1382.3V1401.0M1006.5,1382.3V1401.0M1007.5,1390.8V1401.0M1008.5,1382.3V1390.5M1009.5,1382.3V1401.0M1010.5,1382.3V1401.0M1011.5,1382.3V1390.5M1012.5,1382.3V1401.0M1013.5,1382.3V1401.0M1014.5,1382.3V1401.0M1015.5,1382.3V1401.0M1016.5,1382.3V1401.0M1017.5,1382.3V1401.0M1018.5,1382.3V1401.0M1019.5,1382.3V1401.0M1020.5,1382.3V1401.0M1021.5,1382.3V1401.0M1022.5,1382.3V1401.0M1023.5,1382.3V1390.5M1024.5,1382.3V1401.0M1025.5,1382.3V1401.0M1026.5,1382.3V1401.0M1027.5,1382.3V1390.5M1028.5,1382.3V1401.0M1029.5,1382.3V1401.0M1030.5,1382.3V1401.0M1031.5,1382.3V1401.0M1032.5,1382.3V1401.0M1033.5,1382.3V1401.0M1034.5,1382.3V1390.5M1035.5,1382.3V1390.5M1036.5,1382.3V1401.0M1037.5,1382.3V1401.0M1038.5,1382.3V1401.0M1039.5,1382.3V1401.0M1040.5,1382.3V1401.0M1041.5,1382.3V1401.0M1042.5,1382.3V1401.0M1043.5,1382.3V1401.0M1044.5,1382.3V1401.0M1045.5,1382.3V1401.0M1046.5,1382.3V1401.0M1047.5,1382.3V1401.0M1048.5,1382.3V1401.0M1049.5,1382.3V1401.0M1050.5,1382.3V1401.0M1051.5,1382.3V1390.5M1052.5,1382.3V1390.5M1053.5,1382.3V1390.5M1054.5,1382.3V1401.0M1055.5,1382.3V1390.5M1056.5,1382.3V1406.0M1057.5,1382.3V1390.5M1058.5,1382.3V1401.0M1059.5,1382.3V1390.5M1060.5,1382.3V1401.0M1061.5,1382.3V1401.0M1062.5,1382.3V1390.5M1063.5,1382.3V1390.5M1064.5,1382.3V1401.0M1065.5,1382.3V1401.0M1066.5,1382.3V1401.0M1067.5,1382.3V1401.0M1068.5,1382.3V1401.0M1069.5,1382.3V1401.0M1070.5,1382.3V1390.5M1071.5,1382.3V1401.0M1072.5,1382.3V1401.0M1073.5,1382.3V1401.0M1074.5,1382.3V1401.0M1075.5,1382.3V1390.5M1076.5,1382.3V1390.5M1077.5,1382.3V1390.5M1078.5,1382.3V1401.0M1079.5,1382.3V1401.0M1080.5,1382.3V1401.0M1081.5,1382.3V1390.5M1082.5,1382.3V1401.0M1083.5,1382.3V1390.5M1084.5,1390.8V1401.0M1085.5,1382.3V1401.0M1086.5,1382.3V1401.0M1087.5,1382.3V1401.0M1088.5,1382.3V1401.0M1089.5,1382.3V1390.5M1090.5,1382.3V1390.5M1091.5,1390.8V1401.0M1092.5,1382.3V1401.0M1093.5,1382.3V1401.0M1094.5,1382.3V1401.0M1095.5,1382.3V1390.5M1096.5,1382.3V1390.5M1097.5,1382.3V1401.0M1098.5,1382.3V1401.0M1099.5,1382.3V1401.0M1100.5,1382.3V1390.5M1101.5,1382.3V1401.0M1102.5,1382.3V1390.5M1103.5,1382.3V1401.0M1104.5,1382.3V1390.5M1105.5,1382.3V1401.0M1106.5,1382.3V1401.0M1107.5,1382.3V1390.5M1108.5,1382.3V1401.0M1109.5,1382.3V1401.0M1110.5,1382.3V1401.0M1111.5,1382.3V1401.0M1112.5,1382.3V1401.0M1113.5,1382.3V1401.0M1114.5,1382.3V1390.5M1115.5,1382.3V1401.0M1116.5,1382.3V1401.0M1117.5,1382.3V1390.5M1118.5,1382.3V1401.0M1119.5,1382.3V1401.0M1120.5,1382.3V1390.5M1121.5,1382.3V1390.5M1122.5,1382.3V1390.5M1124.5,1382.3V1401.0M1125.5,1382.3V1401.0M1126.5,1382.3V1401.0M1127.5,1382.3V1390.5M1128.5,1382.3V1401.0M1129.5,1382.3V1401.0M1130.5,1382.3V1390.5M1131.5,1382.3V1401.0M1132.5,1382.3V1401.0M1133.5,1382.3V1401.0M1134.5,1382.3V1401.0M1135.5,1382.3V1401.0M1136.5,1390.8V1401.0M1137.5,1382.3V1401.0M1138.5,1382.3V1401.0M1139.5,1382.3V1401.0M1140.5,1382.3V1390.5M1141.5,1382.3V1401.0M1142.5,1382.3V1401.0M1143.5,1382.3V1401.0M1144.5,1382.3V1401.0M1145.5,1382.3V1401.0M1147.5,1382.3V1390.5M1148.5,1382.3V1401.0M1149.5,1382.3V1390.5M1150.5,1382.3V1390.5M1151.5,1382.3V1401.0M1152.5,1382.3V1401.0M1153.5,1382.3V1406.0" stroke="#ffff00" stroke-width="1.05" fill="none"/>
<path d="M774.5,1374.3V1383M899.5,1374.3V1383M911.5,1374.3V1383M1001.5,1374.3V1383M1021.5,1374.3V1383M1033.5,1374.3V1383M1065.5,1374.3V1383" stroke="#ffff00" stroke-width="1.4" fill="none"/>
<path d="M165.8,1391V1450.8" stroke="#e0f000" stroke-width="1.4" fill="none"/>
<rect x="165.5" y="1306.5" width="989" height="162.9000000000001" fill="none" stroke="#262626" stroke-width="1.3"/>
<text x="156.68" y="1313.30" text-anchor="end" style="font-size:22.08px;fill:#262626" textLength="39.76" lengthAdjust="spacingAndGlyphs">100</text>
<text x="156.68" y="1394.80" text-anchor="end" style="font-size:22.08px;fill:#262626" textLength="13.25" lengthAdjust="spacingAndGlyphs">0</text>
<text x="156.68" y="1476.30" text-anchor="end" style="font-size:22.08px;fill:#262626" textLength="47.27" lengthAdjust="spacingAndGlyphs">-100</text>
<text class="b" transform="translate(71.80,1387.89) rotate(-90)" text-anchor="middle" style="font-size:19.88px;fill:#262626" textLength="81.57" lengthAdjust="spacingAndGlyphs">Voltage</text>
<text class="b" transform="translate(98.00,1388.00) rotate(-90)" text-anchor="middle" style="font-size:19.88px;fill:#262626" textLength="51.19" lengthAdjust="spacingAndGlyphs">(mV)</text>
<text class="b" transform="translate(1170.00,679.04) rotate(-90)" text-anchor="start" style="font-size:15.45px;fill:#000" textLength="63.72" lengthAdjust="spacingAndGlyphs">Inboard</text>
<text class="b" transform="translate(1182.00,699.63) rotate(-90)" text-anchor="start" style="font-size:15.45px;fill:#000" textLength="77.66" lengthAdjust="spacingAndGlyphs">Outboard</text>
<text class="b" transform="translate(1194.00,659.73) rotate(-90)" text-anchor="start" style="font-size:15.45px;fill:#000" textLength="49.61" lengthAdjust="spacingAndGlyphs">Chaos</text>
<line x1="1165" y1="718" x2="1165" y2="733" stroke="#0000ff" stroke-width="2"/>
<line x1="1180" y1="719" x2="1180" y2="734" stroke="#00ff00" stroke-width="2"/>
<line x1="1192" y1="719" x2="1192" y2="734" stroke="#ff0000" stroke-width="2"/>
<text class="b" transform="translate(1170.00,925.64) rotate(-90)" text-anchor="start" style="font-size:15.45px;fill:#000" textLength="63.72" lengthAdjust="spacingAndGlyphs">Inboard</text>
<text class="b" transform="translate(1182.00,944.13) rotate(-90)" text-anchor="start" style="font-size:15.45px;fill:#000" textLength="77.66" lengthAdjust="spacingAndGlyphs">Outboard</text>
<line x1="1165" y1="958" x2="1165" y2="972.6" stroke="#0000ff" stroke-width="2"/>
<line x1="1180" y1="958" x2="1180" y2="974" stroke="#00ff00" stroke-width="2"/>
<text class="b" transform="translate(1170.00,1175.14) rotate(-90)" text-anchor="start" style="font-size:15.45px;fill:#000" textLength="109.29" lengthAdjust="spacingAndGlyphs">Inboard EBox</text>
<text class="b" transform="translate(1182.00,1190.94) rotate(-90)" text-anchor="start" style="font-size:15.45px;fill:#000" textLength="125.45" lengthAdjust="spacingAndGlyphs">Inboard Sensor</text>
<text class="b" transform="translate(1194.20,1190.33) rotate(-90)" text-anchor="start" style="font-size:15.45px;fill:#000" textLength="123.23" lengthAdjust="spacingAndGlyphs">Outboard EBox</text>
<text class="b" transform="translate(1205.10,1211.53) rotate(-90)" text-anchor="start" style="font-size:15.45px;fill:#000" textLength="139.39" lengthAdjust="spacingAndGlyphs">Outboard Sensor</text>
<line x1="1168" y1="1234.4" x2="1168" y2="1248.3" stroke="#0000ff" stroke-width="2"/>
<line x1="1179.7" y1="1235" x2="1179.7" y2="1249" stroke="#00ffff" stroke-width="2"/>
<line x1="1191.8" y1="1235" x2="1191.8" y2="1249" stroke="#00ff00" stroke-width="2"/>
<line x1="1202.9" y1="1235" x2="1202.9" y2="1249" stroke="#ffff00" stroke-width="2"/>
<text class="b" transform="translate(1169.60,1438.94) rotate(-90)" text-anchor="start" style="font-size:15.45px;fill:#000" textLength="125.13" lengthAdjust="spacingAndGlyphs">Inboard VMon1</text>
<text class="b" transform="translate(1181.70,1438.94) rotate(-90)" text-anchor="start" style="font-size:15.45px;fill:#000" textLength="125.13" lengthAdjust="spacingAndGlyphs">Inboard VMon2</text>
<text class="b" transform="translate(1193.20,1447.53) rotate(-90)" text-anchor="start" style="font-size:15.45px;fill:#000" textLength="139.07" lengthAdjust="spacingAndGlyphs">Outboard VMon1</text>
<text class="b" transform="translate(1204.70,1447.53) rotate(-90)" text-anchor="start" style="font-size:15.45px;fill:#000" textLength="139.07" lengthAdjust="spacingAndGlyphs">Outboard VMon2</text>
<line x1="1167.8" y1="1462.3" x2="1167.8" y2="1477.3" stroke="#0000ff" stroke-width="2"/>
<line x1="1180" y1="1462.3" x2="1180" y2="1477.3" stroke="#00ffff" stroke-width="2"/>
<line x1="1192" y1="1462.3" x2="1192" y2="1477.3" stroke="#00ff00" stroke-width="2"/>
<line x1="1203" y1="1462.3" x2="1203" y2="1477.3" stroke="#ffff00" stroke-width="2"/>
<text class="b" x="41.23" y="1498.80" text-anchor="start" style="font-size:15.45px;fill:#000" textLength="45.85" lengthAdjust="spacingAndGlyphs">Time:</text>
<text class="b" x="164.76" y="1498.80" text-anchor="middle" style="font-size:15.45px;fill:#000" textLength="72.53" lengthAdjust="spacingAndGlyphs">15:37:13</text>
<text class="b" x="412.01" y="1498.80" text-anchor="middle" style="font-size:15.45px;fill:#000" textLength="72.53" lengthAdjust="spacingAndGlyphs">16:03:03</text>
<text class="b" x="659.26" y="1498.80" text-anchor="middle" style="font-size:15.45px;fill:#000" textLength="72.53" lengthAdjust="spacingAndGlyphs">16:28:53</text>
<text class="b" x="906.51" y="1498.80" text-anchor="middle" style="font-size:15.45px;fill:#000" textLength="72.53" lengthAdjust="spacingAndGlyphs">16:54:43</text>
<text class="b" x="1153.76" y="1498.80" text-anchor="middle" style="font-size:15.45px;fill:#000" textLength="72.53" lengthAdjust="spacingAndGlyphs">17:20:33</text>
<text class="b" x="39.96" y="1520.00" text-anchor="start" style="font-size:15.45px;fill:#000" textLength="75.55" lengthAdjust="spacingAndGlyphs">Rad(km):</text>
<text class="b" x="165.06" y="1520.00" text-anchor="middle" style="font-size:15.45px;fill:#000" textLength="56.26" lengthAdjust="spacingAndGlyphs">6733.5</text>
<text class="b" x="412.26" y="1520.00" text-anchor="middle" style="font-size:15.45px;fill:#000" textLength="56.26" lengthAdjust="spacingAndGlyphs">7085.1</text>
<text class="b" x="659.48" y="1520.00" text-anchor="middle" style="font-size:15.45px;fill:#000" textLength="56.26" lengthAdjust="spacingAndGlyphs">7663.9</text>
<text class="b" x="906.76" y="1520.00" text-anchor="middle" style="font-size:15.45px;fill:#000" textLength="56.26" lengthAdjust="spacingAndGlyphs">7330.1</text>
<text class="b" x="1154.00" y="1520.00" text-anchor="middle" style="font-size:15.45px;fill:#000" textLength="56.26" lengthAdjust="spacingAndGlyphs">6714.8</text>
<text class="b" x="39.96" y="1540.40" text-anchor="start" style="font-size:15.45px;fill:#000" textLength="31.93" lengthAdjust="spacingAndGlyphs">Lat:</text>
<text class="b" x="165.11" y="1540.40" text-anchor="middle" style="font-size:15.45px;fill:#000" textLength="42.02" lengthAdjust="spacingAndGlyphs">-65.5</text>
<text class="b" x="412.15" y="1540.40" text-anchor="middle" style="font-size:15.45px;fill:#000" textLength="35.97" lengthAdjust="spacingAndGlyphs">34.6</text>
<text class="b" x="659.52" y="1540.40" text-anchor="middle" style="font-size:15.45px;fill:#000" textLength="35.97" lengthAdjust="spacingAndGlyphs">57.7</text>
<text class="b" x="906.75" y="1540.40" text-anchor="middle" style="font-size:15.45px;fill:#000" textLength="42.02" lengthAdjust="spacingAndGlyphs">-23.6</text>
<text class="b" x="1154.24" y="1540.40" text-anchor="middle" style="font-size:15.45px;fill:#000" textLength="42.02" lengthAdjust="spacingAndGlyphs">-57.2</text>
<text class="b" x="39.96" y="1561.60" text-anchor="start" style="font-size:15.45px;fill:#000" textLength="35.52" lengthAdjust="spacingAndGlyphs">Lon:</text>
<text class="b" x="165.02" y="1561.60" text-anchor="middle" style="font-size:15.45px;fill:#000" textLength="25.83" lengthAdjust="spacingAndGlyphs">5.7</text>
<text class="b" x="412.13" y="1561.60" text-anchor="middle" style="font-size:15.45px;fill:#000" textLength="35.97" lengthAdjust="spacingAndGlyphs">25.8</text>
<text class="b" x="659.19" y="1561.60" text-anchor="middle" style="font-size:15.45px;fill:#000" textLength="46.12" lengthAdjust="spacingAndGlyphs">178.5</text>
<text class="b" x="906.69" y="1561.60" text-anchor="middle" style="font-size:15.45px;fill:#000" textLength="52.17" lengthAdjust="spacingAndGlyphs">-169.4</text>
<text class="b" x="1154.24" y="1561.60" text-anchor="middle" style="font-size:15.45px;fill:#000" textLength="42.02" lengthAdjust="spacingAndGlyphs">-14.2</text>
<text class="b" x="39.96" y="1582.70" text-anchor="start" style="font-size:15.45px;fill:#000" textLength="42.15" lengthAdjust="spacingAndGlyphs">Mlat:</text>
<text class="b" x="164.95" y="1582.70" text-anchor="middle" style="font-size:15.45px;fill:#000" textLength="42.02" lengthAdjust="spacingAndGlyphs">-62.0</text>
<text class="b" x="412.15" y="1582.70" text-anchor="middle" style="font-size:15.45px;fill:#000" textLength="35.97" lengthAdjust="spacingAndGlyphs">32.6</text>
<text class="b" x="659.33" y="1582.70" text-anchor="middle" style="font-size:15.45px;fill:#000" textLength="35.97" lengthAdjust="spacingAndGlyphs">53.6</text>
<text class="b" x="906.69" y="1582.70" text-anchor="middle" style="font-size:15.45px;fill:#000" textLength="42.02" lengthAdjust="spacingAndGlyphs">-24.4</text>
<text class="b" x="1154.11" y="1582.70" text-anchor="middle" style="font-size:15.45px;fill:#000" textLength="42.02" lengthAdjust="spacingAndGlyphs">-51.5</text>
<text class="b" x="39.96" y="1603.10" text-anchor="start" style="font-size:15.45px;fill:#000" textLength="32.31" lengthAdjust="spacingAndGlyphs">Mlt:</text>
<text class="b" x="164.51" y="1603.10" text-anchor="middle" style="font-size:15.45px;fill:#000" textLength="56.26" lengthAdjust="spacingAndGlyphs">14.934</text>
<text class="b" x="412.01" y="1603.10" text-anchor="middle" style="font-size:15.45px;fill:#000" textLength="56.26" lengthAdjust="spacingAndGlyphs">18.343</text>
<text class="b" x="659.59" y="1603.10" text-anchor="middle" style="font-size:15.45px;fill:#000" textLength="46.12" lengthAdjust="spacingAndGlyphs">3.693</text>
<text class="b" x="906.75" y="1603.10" text-anchor="middle" style="font-size:15.45px;fill:#000" textLength="46.12" lengthAdjust="spacingAndGlyphs">6.058</text>
<text class="b" x="1153.76" y="1603.10" text-anchor="middle" style="font-size:15.45px;fill:#000" textLength="56.26" lengthAdjust="spacingAndGlyphs">15.843</text>
<text class="b" x="23.36" y="1642.40" text-anchor="start" style="font-size:15.45px;fill:#000" textLength="1222.65" lengthAdjust="spacingAndGlyphs">MGF Quicklook using MGF_20170928_153712_172032_v2.1.0.lv2 on 14-Jun-2024 22:49:47 (calibration from cas_mgf_7day_cal_2017_09_22_v2.1.mat )</text>
<defs>
<clipPath id="hexc"><polygon points="234.1,53.2 256.2,15.1 300.9,15.1 322.6,53.2 301.9,88.9 253.9,88.9"/></clipPath>
<linearGradient id="earthg" x1="0" y1="0" x2="0.2" y2="1"><stop offset="0" stop-color="#a9c8ec"/><stop offset="0.45" stop-color="#8db6e2"/><stop offset="1" stop-color="#c9dcf0"/></linearGradient>
<linearGradient id="aur" x1="0" y1="0" x2="0" y2="1"><stop offset="0" stop-color="#0a3020" stop-opacity="0"/><stop offset="0.7" stop-color="#3aa878"/><stop offset="1" stop-color="#207a5a"/></linearGradient>
</defs>
<polygon points="228.5,53.2 253.4,10.4 303.8,10.4 329.2,53.2 304.7,96.5 252.0,96.5" fill="#fff" stroke="#a8dcea" stroke-width="0.9" stroke-dasharray="1.4,0.7"/>
<g clip-path="url(#hexc)">
<rect x="225" y="10" width="110" height="90" fill="#04070c"/>
<path d="M229.4,56.5 Q276.5,44.2 328.2,48.9 L328.2,54.1 Q276.5,49.9 229.4,67.8 Z" fill="url(#aur)"/>
<path d="M229.4,68.7 Q276.5,52.2 328.2,51.3 L328.2,94.1 L229.4,94.1 Z" fill="url(#earthg)"/>
<path d="M244.5,75.3 Q276.5,65.9 309.4,64.9 L312.2,71.5 Q278.4,73.4 248.2,82.8 Z" fill="#dbe8f6" opacity="0.75"/>
<path d="M267.1,60.2 Q290.6,56.5 314.1,60.2 L309.4,65.9 Q285.9,64.0 268.9,65.9 Z" fill="#5f95d2" opacity="0.6"/>
<path d="M248.2,94.1 L250.1,86.1 Q276.5,82.8 298.1,85.2 L304.7,94.1 Z" fill="#fff"/>
<path d="M297.2,84.7 L310.4,74.4 L302.8,88.9 Z" fill="#3f7bc8"/>
<circle cx="258.1" cy="26.4" r="0.55" fill="#dde"/>
<circle cx="240.2" cy="50.4" r="0.55" fill="#dde"/>
<circle cx="295.8" cy="16.5" r="0.55" fill="#dde"/>
<circle cx="302.4" cy="40.5" r="0.55" fill="#dde"/>
<circle cx="273.2" cy="19.8" r="0.55" fill="#dde"/>
<line x1="285.9" y1="50.8" x2="301.9" y2="75.3" stroke="#eef5ff" stroke-width="0.9"/>
<polygon points="267.5,29.9 289.2,41.4 280.2,54.6 262.8,45.2" fill="#4a7cc8"/>
<polygon points="289.2,41.4 289.6,44.2 282.1,56.5 280.2,54.6" fill="#8a6a3a"/>
<polygon points="278.4,43.8 288.7,44.2 284.0,53.6 275.5,52.7" fill="#c8a868" opacity="0.9"/>
<line x1="251.1" y1="46.1" x2="262.8" y2="47.5" stroke="#c8a060" stroke-width="0.9"/>
<line x1="272.7" y1="55.5" x2="266.1" y2="63.1" stroke="#c8a060" stroke-width="0.8"/>
</g>
<circle cx="277.9" cy="80.5" r="3.3" fill="#2a5fb0"/>
<circle cx="279.5" cy="80.3" r="1.4" fill="#dbe8f6"/>
<text x="260.9" y="90.5" style="font-size:4.2px;fill:#29a8d8" textLength="34.8" lengthAdjust="spacingAndGlyphs">CASSIOPE</text>
<defs><mask id="esam"><circle cx="997.8" cy="53.6" r="19.7" fill="#fff"/><circle cx="1009.2" cy="54" r="12.6" fill="#000"/></mask>
<clipPath id="esall"><path d="M970,56 L1000,56 L1012,85 L970,85 Z"/></clipPath></defs>
<g mask="url(#esam)" stroke="#0a1f5c" fill="none">
<line x1="931.5" y1="80" x2="949.5" y2="30" stroke-width="1.45"/>
<line x1="934.5" y1="80" x2="952.5" y2="30" stroke-width="1.45"/>
<line x1="937.4" y1="80" x2="955.4" y2="30" stroke-width="1.45"/>
<line x1="940.4" y1="80" x2="958.4" y2="30" stroke-width="1.45"/>
<line x1="943.3" y1="80" x2="961.3" y2="30" stroke-width="1.45"/>
<line x1="946.2" y1="80" x2="964.2" y2="30" stroke-width="1.45"/>
<line x1="949.2" y1="80" x2="967.2" y2="30" stroke-width="1.45"/>
<line x1="952.1" y1="80" x2="970.1" y2="30" stroke-width="1.45"/>
<line x1="955.1" y1="80" x2="973.1" y2="30" stroke-width="1.45"/>
<line x1="958.0" y1="80" x2="976.0" y2="30" stroke-width="1.45"/>
<line x1="961.0" y1="80" x2="979.0" y2="30" stroke-width="1.45"/>
<line x1="964.0" y1="80" x2="982.0" y2="30" stroke-width="1.45"/>
<line x1="966.9" y1="80" x2="984.9" y2="30" stroke-width="1.45"/>
<line x1="969.9" y1="80" x2="987.9" y2="30" stroke-width="1.45"/>
<line x1="972.8" y1="80" x2="990.8" y2="30" stroke-width="1.45"/>
<line x1="975.8" y1="80" x2="993.8" y2="30" stroke-width="1.45"/>
<line x1="978.7" y1="80" x2="996.7" y2="30" stroke-width="1.45"/>
<line x1="981.6" y1="80" x2="999.6" y2="30" stroke-width="1.45"/>
<line x1="984.6" y1="80" x2="1002.6" y2="30" stroke-width="1.45"/>
<line x1="987.5" y1="80" x2="1005.5" y2="30" stroke-width="1.45"/>
<line x1="990.5" y1="80" x2="1008.5" y2="30" stroke-width="1.45"/>
<line x1="993.5" y1="80" x2="1011.5" y2="30" stroke-width="1.45"/>
<line x1="996.4" y1="80" x2="1014.4" y2="30" stroke-width="1.45"/>
<line x1="999.4" y1="80" x2="1017.4" y2="30" stroke-width="1.45"/>
<line x1="1002.3" y1="80" x2="1020.3" y2="30" stroke-width="1.45"/>
<line x1="1005.2" y1="80" x2="1023.2" y2="30" stroke-width="1.45"/>
<g clip-path="url(#esall)">
<line x1="960" y1="40.0" x2="1015" y2="58.0" stroke-width="1.0"/>
<line x1="960" y1="43.0" x2="1015" y2="61.0" stroke-width="1.0"/>
<line x1="960" y1="45.9" x2="1015" y2="63.9" stroke-width="1.0"/>
<line x1="960" y1="48.9" x2="1015" y2="66.8" stroke-width="1.0"/>
<line x1="960" y1="51.8" x2="1015" y2="69.8" stroke-width="1.0"/>
<line x1="960" y1="54.8" x2="1015" y2="72.8" stroke-width="1.0"/>
<line x1="960" y1="57.7" x2="1015" y2="75.7" stroke-width="1.0"/>
<line x1="960" y1="60.7" x2="1015" y2="78.7" stroke-width="1.0"/>
<line x1="960" y1="63.6" x2="1015" y2="81.6" stroke-width="1.0"/>
<line x1="960" y1="66.5" x2="1015" y2="84.5" stroke-width="1.0"/>
<line x1="960" y1="69.5" x2="1015" y2="87.5" stroke-width="1.0"/>
<line x1="960" y1="72.5" x2="1015" y2="90.5" stroke-width="1.0"/>
<line x1="960" y1="75.4" x2="1015" y2="93.4" stroke-width="1.0"/>
<line x1="960" y1="78.3" x2="1015" y2="96.3" stroke-width="1.0"/>
</g></g>
<circle cx="1009.2" cy="54" r="12.1" fill="none" stroke="#0a1f5c" stroke-width="0.8" stroke-dasharray="1.8,1.9"/>
<path d="M1014.5,49 A7.2,6.8 0 1 0 1002.8,58.5" fill="none" stroke="#0a1f5c" stroke-width="1.2" stroke-dasharray="1.6,0.9"/>
<path d="M1003.5,51.2 L1012.5,51.2" stroke="#0a1f5c" stroke-width="1.1"/>
<path d="M1003,59.5 Q1010,57.5 1017,58.3" stroke="#0a1f5c" stroke-width="1.5" fill="none"/>
<path d="M1006,62.3 Q1011,61 1015,61.5" stroke="#0a1f5c" stroke-width="1.1" fill="none"/>
<text class="b" x="1022.6" y="65.4" style="font-size:42px;fill:#0a1f5c;stroke:#0a1f5c;stroke-width:0.9px" textLength="63.5" lengthAdjust="spacingAndGlyphs">esa</text>
</svg></body></html>
